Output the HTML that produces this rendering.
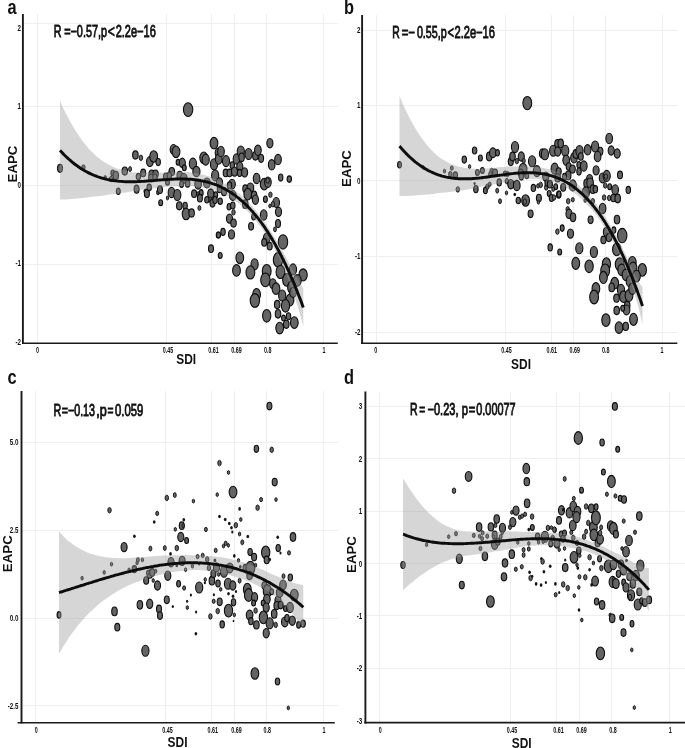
<!DOCTYPE html>
<html><head><meta charset="utf-8"><title>SDI vs EAPC</title>
<style>html,body{margin:0;padding:0;background:#fff;}body{width:685px;height:748px;overflow:hidden;}svg{display:block;will-change:transform;filter:grayscale(1);}text{font-family:"Liberation Sans",sans-serif;fill:#111;}</style></head><body>
<svg width="685" height="748" viewBox="0 0 685 748">
<rect width="685" height="748" fill="#fff"/>
<g id="panel-a">
<line x1="37.5" y1="14.0" x2="37.5" y2="343.2" stroke="#eeeeee" stroke-width="1"/>
<line x1="166.5" y1="14.0" x2="166.5" y2="343.2" stroke="#eeeeee" stroke-width="1"/>
<line x1="211.5" y1="14.0" x2="211.5" y2="343.2" stroke="#eeeeee" stroke-width="1"/>
<line x1="234.5" y1="14.0" x2="234.5" y2="343.2" stroke="#eeeeee" stroke-width="1"/>
<line x1="266.5" y1="14.0" x2="266.5" y2="343.2" stroke="#eeeeee" stroke-width="1"/>
<line x1="323.5" y1="14.0" x2="323.5" y2="343.2" stroke="#eeeeee" stroke-width="1"/>
<line x1="22.9" y1="23.5" x2="337.8" y2="23.5" stroke="#eeeeee" stroke-width="1"/>
<line x1="22.9" y1="106.5" x2="337.8" y2="106.5" stroke="#eeeeee" stroke-width="1"/>
<line x1="22.9" y1="185.5" x2="337.8" y2="185.5" stroke="#eeeeee" stroke-width="1"/>
<line x1="22.9" y1="264.5" x2="337.8" y2="264.5" stroke="#eeeeee" stroke-width="1"/>
<ellipse cx="60.0" cy="168.3" rx="2.49" ry="4.09" fill="#646464" stroke="#0c0c0c" stroke-width="1.1"/>
<ellipse cx="83.4" cy="167.3" rx="1.73" ry="2.48" fill="#646464" stroke="#0c0c0c" stroke-width="0.9"/>
<ellipse cx="105.2" cy="177.4" rx="1.18" ry="1.92" fill="#646464" stroke="#0c0c0c" stroke-width="0.9"/>
<ellipse cx="111.0" cy="179.1" rx="1.73" ry="2.76" fill="#646464" stroke="#0c0c0c" stroke-width="0.9"/>
<ellipse cx="112.8" cy="172.9" rx="1.93" ry="2.97" fill="#646464" stroke="#0c0c0c" stroke-width="1.1"/>
<ellipse cx="115.8" cy="175.4" rx="2.76" ry="4.09" fill="#646464" stroke="#0c0c0c" stroke-width="1.1"/>
<ellipse cx="118.3" cy="191.2" rx="1.93" ry="3.25" fill="#646464" stroke="#0c0c0c" stroke-width="1.1"/>
<ellipse cx="124.8" cy="171.1" rx="2.76" ry="4.09" fill="#646464" stroke="#0c0c0c" stroke-width="1.1"/>
<ellipse cx="130.1" cy="169.1" rx="1.46" ry="2.48" fill="#646464" stroke="#0c0c0c" stroke-width="0.9"/>
<ellipse cx="135.4" cy="155.0" rx="2.76" ry="4.09" fill="#646464" stroke="#0c0c0c" stroke-width="1.1"/>
<ellipse cx="140.9" cy="157.8" rx="1.73" ry="2.76" fill="#646464" stroke="#0c0c0c" stroke-width="0.9"/>
<ellipse cx="136.6" cy="189.2" rx="2.49" ry="4.09" fill="#646464" stroke="#0c0c0c" stroke-width="1.1"/>
<ellipse cx="138.4" cy="176.6" rx="2.21" ry="3.25" fill="#646464" stroke="#0c0c0c" stroke-width="1.1"/>
<ellipse cx="143.2" cy="172.9" rx="2.49" ry="3.81" fill="#646464" stroke="#0c0c0c" stroke-width="1.1"/>
<ellipse cx="145.4" cy="191.2" rx="1.46" ry="2.20" fill="#646464" stroke="#0c0c0c" stroke-width="0.9"/>
<ellipse cx="146.9" cy="193.5" rx="2.49" ry="4.09" fill="#646464" stroke="#0c0c0c" stroke-width="1.1"/>
<ellipse cx="149.2" cy="187.4" rx="2.21" ry="3.25" fill="#646464" stroke="#0c0c0c" stroke-width="1.1"/>
<ellipse cx="149.9" cy="161.6" rx="3.32" ry="4.94" fill="#646464" stroke="#0c0c0c" stroke-width="1.1"/>
<ellipse cx="153.7" cy="156.5" rx="3.87" ry="5.78" fill="#646464" stroke="#0c0c0c" stroke-width="1.1"/>
<ellipse cx="158.2" cy="162.1" rx="2.21" ry="3.53" fill="#646464" stroke="#0c0c0c" stroke-width="1.1"/>
<ellipse cx="151.7" cy="174.1" rx="2.76" ry="4.09" fill="#646464" stroke="#0c0c0c" stroke-width="1.1"/>
<ellipse cx="155.5" cy="174.1" rx="2.76" ry="4.09" fill="#646464" stroke="#0c0c0c" stroke-width="1.1"/>
<ellipse cx="151.2" cy="177.9" rx="2.49" ry="3.81" fill="#646464" stroke="#0c0c0c" stroke-width="1.1"/>
<ellipse cx="155.0" cy="177.4" rx="2.21" ry="3.53" fill="#646464" stroke="#0c0c0c" stroke-width="1.1"/>
<ellipse cx="158.0" cy="192.4" rx="1.46" ry="2.48" fill="#646464" stroke="#0c0c0c" stroke-width="0.9"/>
<ellipse cx="160.0" cy="189.7" rx="2.49" ry="3.81" fill="#646464" stroke="#0c0c0c" stroke-width="1.1"/>
<ellipse cx="160.7" cy="202.7" rx="1.93" ry="2.97" fill="#646464" stroke="#0c0c0c" stroke-width="1.1"/>
<ellipse cx="166.0" cy="176.6" rx="2.49" ry="3.53" fill="#646464" stroke="#0c0c0c" stroke-width="1.1"/>
<ellipse cx="167.5" cy="182.2" rx="1.93" ry="2.97" fill="#646464" stroke="#0c0c0c" stroke-width="1.1"/>
<ellipse cx="167.5" cy="198.0" rx="1.18" ry="1.92" fill="#646464" stroke="#0c0c0c" stroke-width="0.9"/>
<ellipse cx="171.8" cy="171.6" rx="2.76" ry="4.09" fill="#646464" stroke="#0c0c0c" stroke-width="1.1"/>
<ellipse cx="169.3" cy="175.4" rx="2.21" ry="3.25" fill="#646464" stroke="#0c0c0c" stroke-width="1.1"/>
<ellipse cx="171.5" cy="192.4" rx="3.32" ry="5.22" fill="#646464" stroke="#0c0c0c" stroke-width="1.1"/>
<ellipse cx="177.3" cy="195.0" rx="3.59" ry="5.50" fill="#646464" stroke="#0c0c0c" stroke-width="1.1"/>
<ellipse cx="173.5" cy="149.5" rx="3.32" ry="4.94" fill="#646464" stroke="#0c0c0c" stroke-width="1.1"/>
<ellipse cx="176.0" cy="151.8" rx="3.87" ry="5.78" fill="#646464" stroke="#0c0c0c" stroke-width="1.1"/>
<ellipse cx="178.1" cy="162.3" rx="1.93" ry="2.97" fill="#646464" stroke="#0c0c0c" stroke-width="1.1"/>
<ellipse cx="182.3" cy="162.8" rx="3.04" ry="4.66" fill="#646464" stroke="#0c0c0c" stroke-width="1.1"/>
<ellipse cx="184.3" cy="167.8" rx="1.93" ry="2.97" fill="#646464" stroke="#0c0c0c" stroke-width="1.1"/>
<ellipse cx="179.8" cy="175.4" rx="2.76" ry="4.09" fill="#646464" stroke="#0c0c0c" stroke-width="1.1"/>
<ellipse cx="183.8" cy="178.4" rx="3.32" ry="4.94" fill="#646464" stroke="#0c0c0c" stroke-width="1.1"/>
<ellipse cx="181.6" cy="184.2" rx="1.93" ry="3.25" fill="#646464" stroke="#0c0c0c" stroke-width="1.1"/>
<ellipse cx="187.6" cy="183.7" rx="2.21" ry="3.53" fill="#646464" stroke="#0c0c0c" stroke-width="1.1"/>
<ellipse cx="179.3" cy="205.8" rx="2.76" ry="4.09" fill="#646464" stroke="#0c0c0c" stroke-width="1.1"/>
<ellipse cx="185.1" cy="205.8" rx="2.21" ry="3.53" fill="#646464" stroke="#0c0c0c" stroke-width="1.1"/>
<ellipse cx="186.1" cy="214.0" rx="3.87" ry="5.78" fill="#646464" stroke="#0c0c0c" stroke-width="1.1"/>
<ellipse cx="191.6" cy="213.0" rx="2.76" ry="4.09" fill="#646464" stroke="#0c0c0c" stroke-width="1.1"/>
<ellipse cx="188.1" cy="109.6" rx="4.70" ry="6.91" fill="#646464" stroke="#0c0c0c" stroke-width="1.1"/>
<ellipse cx="192.9" cy="163.6" rx="3.59" ry="5.50" fill="#646464" stroke="#0c0c0c" stroke-width="1.1"/>
<ellipse cx="196.4" cy="171.6" rx="3.59" ry="5.22" fill="#646464" stroke="#0c0c0c" stroke-width="1.1"/>
<ellipse cx="198.1" cy="184.2" rx="3.32" ry="4.94" fill="#646464" stroke="#0c0c0c" stroke-width="1.1"/>
<ellipse cx="194.1" cy="193.7" rx="2.49" ry="3.81" fill="#646464" stroke="#0c0c0c" stroke-width="1.1"/>
<ellipse cx="198.1" cy="193.5" rx="1.18" ry="1.92" fill="#646464" stroke="#0c0c0c" stroke-width="0.9"/>
<ellipse cx="201.2" cy="192.9" rx="1.93" ry="3.25" fill="#646464" stroke="#0c0c0c" stroke-width="1.1"/>
<ellipse cx="199.9" cy="198.2" rx="2.49" ry="3.81" fill="#646464" stroke="#0c0c0c" stroke-width="1.1"/>
<ellipse cx="199.4" cy="208.0" rx="1.46" ry="2.48" fill="#646464" stroke="#0c0c0c" stroke-width="0.9"/>
<ellipse cx="203.7" cy="157.8" rx="3.87" ry="5.78" fill="#646464" stroke="#0c0c0c" stroke-width="1.1"/>
<ellipse cx="205.7" cy="159.6" rx="3.59" ry="5.50" fill="#646464" stroke="#0c0c0c" stroke-width="1.1"/>
<ellipse cx="206.9" cy="182.9" rx="3.32" ry="4.94" fill="#646464" stroke="#0c0c0c" stroke-width="1.1"/>
<ellipse cx="206.9" cy="199.7" rx="2.21" ry="3.25" fill="#646464" stroke="#0c0c0c" stroke-width="1.1"/>
<ellipse cx="210.7" cy="193.5" rx="3.04" ry="4.66" fill="#646464" stroke="#0c0c0c" stroke-width="1.1"/>
<ellipse cx="210.7" cy="199.7" rx="1.73" ry="2.76" fill="#646464" stroke="#0c0c0c" stroke-width="0.9"/>
<ellipse cx="212.5" cy="203.0" rx="2.49" ry="4.09" fill="#646464" stroke="#0c0c0c" stroke-width="1.1"/>
<ellipse cx="214.0" cy="143.2" rx="3.87" ry="5.78" fill="#646464" stroke="#0c0c0c" stroke-width="1.1"/>
<ellipse cx="214.0" cy="164.3" rx="3.59" ry="5.50" fill="#646464" stroke="#0c0c0c" stroke-width="1.1"/>
<ellipse cx="215.2" cy="175.4" rx="3.59" ry="5.50" fill="#646464" stroke="#0c0c0c" stroke-width="1.1"/>
<ellipse cx="215.7" cy="195.0" rx="1.93" ry="3.25" fill="#646464" stroke="#0c0c0c" stroke-width="1.1"/>
<ellipse cx="215.0" cy="200.0" rx="2.21" ry="3.53" fill="#646464" stroke="#0c0c0c" stroke-width="1.1"/>
<ellipse cx="218.2" cy="152.8" rx="3.04" ry="4.66" fill="#646464" stroke="#0c0c0c" stroke-width="1.1"/>
<ellipse cx="218.7" cy="159.1" rx="3.32" ry="5.22" fill="#646464" stroke="#0c0c0c" stroke-width="1.1"/>
<ellipse cx="219.5" cy="182.4" rx="3.04" ry="4.66" fill="#646464" stroke="#0c0c0c" stroke-width="1.1"/>
<ellipse cx="219.5" cy="189.2" rx="2.21" ry="3.53" fill="#646464" stroke="#0c0c0c" stroke-width="1.1"/>
<ellipse cx="220.2" cy="201.2" rx="2.21" ry="3.25" fill="#646464" stroke="#0c0c0c" stroke-width="1.1"/>
<ellipse cx="218.2" cy="235.1" rx="1.93" ry="2.97" fill="#646464" stroke="#0c0c0c" stroke-width="1.1"/>
<ellipse cx="211.0" cy="248.7" rx="2.49" ry="3.81" fill="#646464" stroke="#0c0c0c" stroke-width="1.1"/>
<ellipse cx="220.2" cy="255.5" rx="1.93" ry="2.97" fill="#646464" stroke="#0c0c0c" stroke-width="1.1"/>
<ellipse cx="221.0" cy="151.5" rx="3.32" ry="5.22" fill="#646464" stroke="#0c0c0c" stroke-width="1.1"/>
<ellipse cx="226.0" cy="161.1" rx="3.59" ry="5.50" fill="#646464" stroke="#0c0c0c" stroke-width="1.1"/>
<ellipse cx="225.7" cy="172.9" rx="2.49" ry="3.81" fill="#646464" stroke="#0c0c0c" stroke-width="1.1"/>
<ellipse cx="229.5" cy="172.9" rx="2.49" ry="3.81" fill="#646464" stroke="#0c0c0c" stroke-width="1.1"/>
<ellipse cx="232.3" cy="165.3" rx="2.21" ry="3.53" fill="#646464" stroke="#0c0c0c" stroke-width="1.1"/>
<ellipse cx="234.5" cy="171.6" rx="3.04" ry="4.66" fill="#646464" stroke="#0c0c0c" stroke-width="1.1"/>
<ellipse cx="236.5" cy="159.1" rx="3.32" ry="5.22" fill="#646464" stroke="#0c0c0c" stroke-width="1.1"/>
<ellipse cx="240.8" cy="151.5" rx="3.59" ry="5.50" fill="#646464" stroke="#0c0c0c" stroke-width="1.1"/>
<ellipse cx="241.6" cy="157.3" rx="2.76" ry="4.37" fill="#646464" stroke="#0c0c0c" stroke-width="1.1"/>
<ellipse cx="239.8" cy="166.6" rx="3.04" ry="4.66" fill="#646464" stroke="#0c0c0c" stroke-width="1.1"/>
<ellipse cx="239.6" cy="172.9" rx="2.21" ry="3.53" fill="#646464" stroke="#0c0c0c" stroke-width="1.1"/>
<ellipse cx="244.6" cy="172.4" rx="3.04" ry="4.66" fill="#646464" stroke="#0c0c0c" stroke-width="1.1"/>
<ellipse cx="248.6" cy="154.0" rx="3.59" ry="5.50" fill="#646464" stroke="#0c0c0c" stroke-width="1.1"/>
<ellipse cx="255.4" cy="155.8" rx="2.76" ry="4.37" fill="#646464" stroke="#0c0c0c" stroke-width="1.1"/>
<ellipse cx="257.9" cy="150.3" rx="3.32" ry="5.22" fill="#646464" stroke="#0c0c0c" stroke-width="1.1"/>
<ellipse cx="261.1" cy="158.3" rx="2.49" ry="4.09" fill="#646464" stroke="#0c0c0c" stroke-width="1.1"/>
<ellipse cx="269.9" cy="143.2" rx="3.04" ry="4.66" fill="#646464" stroke="#0c0c0c" stroke-width="1.1"/>
<ellipse cx="256.6" cy="178.4" rx="3.32" ry="5.22" fill="#646464" stroke="#0c0c0c" stroke-width="1.1"/>
<ellipse cx="264.2" cy="184.2" rx="3.87" ry="5.78" fill="#646464" stroke="#0c0c0c" stroke-width="1.1"/>
<ellipse cx="267.9" cy="182.2" rx="3.32" ry="5.22" fill="#646464" stroke="#0c0c0c" stroke-width="1.1"/>
<ellipse cx="271.7" cy="164.8" rx="3.32" ry="5.22" fill="#646464" stroke="#0c0c0c" stroke-width="1.1"/>
<ellipse cx="278.0" cy="159.6" rx="3.32" ry="5.22" fill="#646464" stroke="#0c0c0c" stroke-width="1.1"/>
<ellipse cx="280.7" cy="177.6" rx="2.21" ry="3.53" fill="#646464" stroke="#0c0c0c" stroke-width="1.1"/>
<ellipse cx="289.3" cy="179.1" rx="2.21" ry="3.25" fill="#646464" stroke="#0c0c0c" stroke-width="1.1"/>
<ellipse cx="232.0" cy="184.2" rx="3.32" ry="4.94" fill="#646464" stroke="#0c0c0c" stroke-width="1.1"/>
<ellipse cx="229.5" cy="185.4" rx="2.21" ry="3.53" fill="#646464" stroke="#0c0c0c" stroke-width="1.1"/>
<ellipse cx="224.0" cy="191.7" rx="2.49" ry="4.09" fill="#646464" stroke="#0c0c0c" stroke-width="1.1"/>
<ellipse cx="232.8" cy="195.5" rx="3.32" ry="4.94" fill="#646464" stroke="#0c0c0c" stroke-width="1.1"/>
<ellipse cx="229.0" cy="206.8" rx="1.93" ry="3.25" fill="#646464" stroke="#0c0c0c" stroke-width="1.1"/>
<ellipse cx="232.8" cy="205.5" rx="2.21" ry="3.53" fill="#646464" stroke="#0c0c0c" stroke-width="1.1"/>
<ellipse cx="233.5" cy="212.3" rx="1.73" ry="2.76" fill="#646464" stroke="#0c0c0c" stroke-width="0.9"/>
<ellipse cx="229.5" cy="218.6" rx="3.04" ry="4.66" fill="#646464" stroke="#0c0c0c" stroke-width="1.1"/>
<ellipse cx="233.5" cy="223.1" rx="2.76" ry="4.09" fill="#646464" stroke="#0c0c0c" stroke-width="1.1"/>
<ellipse cx="231.5" cy="234.4" rx="3.04" ry="4.66" fill="#646464" stroke="#0c0c0c" stroke-width="1.1"/>
<ellipse cx="223.0" cy="231.9" rx="2.21" ry="3.53" fill="#646464" stroke="#0c0c0c" stroke-width="1.1"/>
<ellipse cx="218.5" cy="235.1" rx="1.93" ry="2.97" fill="#646464" stroke="#0c0c0c" stroke-width="1.1"/>
<ellipse cx="245.3" cy="188.7" rx="2.49" ry="3.81" fill="#646464" stroke="#0c0c0c" stroke-width="1.1"/>
<ellipse cx="250.4" cy="187.9" rx="3.32" ry="4.94" fill="#646464" stroke="#0c0c0c" stroke-width="1.1"/>
<ellipse cx="247.8" cy="194.2" rx="3.87" ry="5.78" fill="#646464" stroke="#0c0c0c" stroke-width="1.1"/>
<ellipse cx="254.1" cy="195.5" rx="2.76" ry="4.37" fill="#646464" stroke="#0c0c0c" stroke-width="1.1"/>
<ellipse cx="255.4" cy="199.7" rx="3.04" ry="4.66" fill="#646464" stroke="#0c0c0c" stroke-width="1.1"/>
<ellipse cx="245.3" cy="204.2" rx="2.76" ry="4.37" fill="#646464" stroke="#0c0c0c" stroke-width="1.1"/>
<ellipse cx="253.6" cy="216.8" rx="1.93" ry="3.25" fill="#646464" stroke="#0c0c0c" stroke-width="1.1"/>
<ellipse cx="251.1" cy="226.3" rx="2.49" ry="3.81" fill="#646464" stroke="#0c0c0c" stroke-width="1.1"/>
<ellipse cx="263.7" cy="215.0" rx="3.32" ry="5.22" fill="#646464" stroke="#0c0c0c" stroke-width="1.1"/>
<ellipse cx="265.4" cy="199.2" rx="1.93" ry="3.25" fill="#646464" stroke="#0c0c0c" stroke-width="1.1"/>
<ellipse cx="270.4" cy="194.7" rx="1.73" ry="2.76" fill="#646464" stroke="#0c0c0c" stroke-width="0.9"/>
<ellipse cx="276.2" cy="202.5" rx="3.32" ry="4.94" fill="#646464" stroke="#0c0c0c" stroke-width="1.1"/>
<ellipse cx="272.9" cy="204.2" rx="1.73" ry="2.76" fill="#646464" stroke="#0c0c0c" stroke-width="0.9"/>
<ellipse cx="269.9" cy="206.0" rx="1.18" ry="1.92" fill="#646464" stroke="#0c0c0c" stroke-width="0.9"/>
<ellipse cx="278.5" cy="211.8" rx="3.04" ry="4.66" fill="#646464" stroke="#0c0c0c" stroke-width="1.1"/>
<ellipse cx="278.0" cy="223.6" rx="2.49" ry="4.09" fill="#646464" stroke="#0c0c0c" stroke-width="1.1"/>
<ellipse cx="275.0" cy="229.4" rx="1.46" ry="2.48" fill="#646464" stroke="#0c0c0c" stroke-width="0.9"/>
<ellipse cx="266.7" cy="238.1" rx="3.32" ry="4.94" fill="#646464" stroke="#0c0c0c" stroke-width="1.1"/>
<ellipse cx="264.2" cy="242.4" rx="2.49" ry="3.81" fill="#646464" stroke="#0c0c0c" stroke-width="1.1"/>
<ellipse cx="269.7" cy="246.2" rx="2.49" ry="3.81" fill="#646464" stroke="#0c0c0c" stroke-width="1.1"/>
<ellipse cx="283.0" cy="241.9" rx="4.70" ry="7.19" fill="#646464" stroke="#0c0c0c" stroke-width="1.1"/>
<ellipse cx="239.8" cy="257.8" rx="3.87" ry="5.78" fill="#646464" stroke="#0c0c0c" stroke-width="1.1"/>
<ellipse cx="236.5" cy="270.4" rx="3.87" ry="5.78" fill="#646464" stroke="#0c0c0c" stroke-width="1.1"/>
<ellipse cx="254.6" cy="264.3" rx="3.59" ry="5.50" fill="#646464" stroke="#0c0c0c" stroke-width="1.1"/>
<ellipse cx="250.4" cy="272.4" rx="4.42" ry="6.62" fill="#646464" stroke="#0c0c0c" stroke-width="1.1"/>
<ellipse cx="266.7" cy="271.1" rx="4.42" ry="6.62" fill="#646464" stroke="#0c0c0c" stroke-width="1.1"/>
<ellipse cx="265.4" cy="279.9" rx="4.70" ry="6.91" fill="#646464" stroke="#0c0c0c" stroke-width="1.1"/>
<ellipse cx="278.0" cy="259.8" rx="4.70" ry="7.19" fill="#646464" stroke="#0c0c0c" stroke-width="1.1"/>
<ellipse cx="280.5" cy="271.9" rx="4.42" ry="6.62" fill="#646464" stroke="#0c0c0c" stroke-width="1.1"/>
<ellipse cx="293.0" cy="269.4" rx="3.59" ry="5.50" fill="#646464" stroke="#0c0c0c" stroke-width="1.1"/>
<ellipse cx="303.1" cy="274.9" rx="4.14" ry="6.06" fill="#646464" stroke="#0c0c0c" stroke-width="1.1"/>
<ellipse cx="286.8" cy="279.9" rx="4.14" ry="6.34" fill="#646464" stroke="#0c0c0c" stroke-width="1.1"/>
<ellipse cx="297.3" cy="280.4" rx="3.87" ry="5.78" fill="#646464" stroke="#0c0c0c" stroke-width="1.1"/>
<ellipse cx="272.9" cy="283.7" rx="3.32" ry="4.94" fill="#646464" stroke="#0c0c0c" stroke-width="1.1"/>
<ellipse cx="276.0" cy="288.7" rx="3.87" ry="5.78" fill="#646464" stroke="#0c0c0c" stroke-width="1.1"/>
<ellipse cx="291.8" cy="287.4" rx="4.14" ry="6.34" fill="#646464" stroke="#0c0c0c" stroke-width="1.1"/>
<ellipse cx="282.2" cy="295.5" rx="3.59" ry="5.50" fill="#646464" stroke="#0c0c0c" stroke-width="1.1"/>
<ellipse cx="256.6" cy="294.5" rx="3.87" ry="6.06" fill="#646464" stroke="#0c0c0c" stroke-width="1.1"/>
<ellipse cx="254.9" cy="300.5" rx="4.70" ry="6.91" fill="#646464" stroke="#0c0c0c" stroke-width="1.1"/>
<ellipse cx="290.0" cy="300.0" rx="3.87" ry="6.06" fill="#646464" stroke="#0c0c0c" stroke-width="1.1"/>
<ellipse cx="285.5" cy="305.8" rx="4.14" ry="6.34" fill="#646464" stroke="#0c0c0c" stroke-width="1.1"/>
<ellipse cx="277.2" cy="304.5" rx="2.76" ry="4.09" fill="#646464" stroke="#0c0c0c" stroke-width="1.1"/>
<ellipse cx="278.0" cy="313.8" rx="2.76" ry="4.37" fill="#646464" stroke="#0c0c0c" stroke-width="1.1"/>
<ellipse cx="266.7" cy="315.8" rx="4.14" ry="6.34" fill="#646464" stroke="#0c0c0c" stroke-width="1.1"/>
<ellipse cx="283.5" cy="318.1" rx="1.93" ry="2.97" fill="#646464" stroke="#0c0c0c" stroke-width="1.1"/>
<ellipse cx="288.5" cy="316.3" rx="2.21" ry="3.53" fill="#646464" stroke="#0c0c0c" stroke-width="1.1"/>
<ellipse cx="286.3" cy="324.3" rx="2.76" ry="4.09" fill="#646464" stroke="#0c0c0c" stroke-width="1.1"/>
<ellipse cx="294.3" cy="322.6" rx="3.87" ry="5.78" fill="#646464" stroke="#0c0c0c" stroke-width="1.1"/>
<ellipse cx="279.7" cy="328.1" rx="3.87" ry="5.78" fill="#646464" stroke="#0c0c0c" stroke-width="1.1"/>
<ellipse cx="293.0" cy="292.5" rx="3.32" ry="4.94" fill="#646464" stroke="#0c0c0c" stroke-width="1.1"/>
<ellipse cx="267.7" cy="180.6" rx="1.78" ry="2.69" fill="#646464" stroke="#0c0c0c" stroke-width="0.9"/>
<path d="M60.0 101.1 C60.4 101.9 61.4 104.2 62.1 105.7 C62.8 107.1 63.5 108.6 64.1 110.0 C64.8 111.4 65.5 112.7 66.2 114.1 C66.9 115.4 67.5 116.7 68.2 118.0 C68.9 119.2 69.6 120.5 70.3 121.7 C70.9 122.9 71.6 124.1 72.3 125.3 C73.0 126.5 73.7 127.6 74.4 128.7 C75.0 129.9 75.7 131.0 76.4 132.0 C77.1 133.1 77.8 134.1 78.4 135.1 C79.1 136.1 79.8 137.1 80.5 138.0 C81.2 139.0 81.8 140.0 82.5 140.9 C83.2 141.8 83.9 142.7 84.6 143.6 C85.3 144.5 85.9 145.3 86.6 146.1 C87.3 147.0 88.0 147.8 88.7 148.5 C89.3 149.3 90.0 150.0 90.7 150.7 C91.4 151.4 92.1 152.1 92.8 152.8 C93.4 153.4 94.1 154.0 94.8 154.7 C95.5 155.3 96.2 155.9 96.8 156.4 C97.5 157.0 98.2 157.6 98.9 158.1 C99.6 158.7 100.2 159.2 100.9 159.7 C101.6 160.2 102.3 160.7 103.0 161.2 C103.7 161.6 104.3 162.1 105.0 162.5 C105.7 163.0 106.4 163.4 107.1 163.8 C107.7 164.2 108.4 164.6 109.1 165.0 C109.8 165.4 110.5 165.7 111.1 166.0 C111.8 166.3 112.5 166.6 113.2 166.9 C113.9 167.2 114.6 167.4 115.2 167.7 C115.9 168.0 116.6 168.2 117.3 168.4 C118.0 168.7 118.6 168.9 119.3 169.1 C120.0 169.3 120.7 169.5 121.4 169.7 C122.1 169.9 122.7 170.1 123.4 170.3 C124.1 170.5 124.8 170.6 125.5 170.8 C126.1 170.9 126.8 171.1 127.5 171.2 C128.2 171.4 128.9 171.5 129.5 171.7 C130.2 171.8 130.9 171.9 131.6 172.0 C132.3 172.1 133.0 172.2 133.6 172.3 C134.3 172.4 135.0 172.5 135.7 172.5 C136.4 172.6 137.0 172.7 137.7 172.8 C138.4 172.8 139.1 172.9 139.8 173.0 C140.4 173.0 141.1 173.0 141.8 173.0 C142.5 173.0 143.2 173.0 143.9 173.0 C144.5 172.9 145.2 172.9 145.9 172.9 C146.6 172.9 147.3 172.9 147.9 172.9 C148.6 172.9 149.3 172.8 150.0 172.8 C150.7 172.8 151.4 172.8 152.0 172.8 C152.7 172.8 153.4 172.8 154.1 172.8 C154.8 172.8 155.4 172.8 156.1 172.8 C156.8 172.7 157.5 172.7 158.2 172.7 C158.8 172.7 159.5 172.7 160.2 172.7 C160.9 172.7 161.6 172.6 162.3 172.5 C162.9 172.5 163.6 172.4 164.3 172.4 C165.0 172.3 165.7 172.3 166.3 172.3 C167.0 172.2 167.7 172.2 168.4 172.1 C169.1 172.1 169.7 172.1 170.4 172.0 C171.1 172.0 171.8 172.0 172.5 171.9 C173.2 171.9 173.8 171.9 174.5 171.9 C175.2 171.8 175.9 171.8 176.6 171.8 C177.2 171.8 177.9 171.8 178.6 171.8 C179.3 171.8 180.0 171.8 180.6 171.8 C181.3 171.8 182.0 171.8 182.7 171.9 C183.4 171.9 184.1 171.9 184.7 172.0 C185.4 172.0 186.1 172.1 186.8 172.1 C187.5 172.2 188.1 172.2 188.8 172.3 C189.5 172.4 190.2 172.4 190.9 172.5 C191.6 172.6 192.2 172.7 192.9 172.8 C193.6 172.9 194.3 173.0 195.0 173.1 C195.6 173.2 196.3 173.3 197.0 173.4 C197.7 173.5 198.4 173.6 199.0 173.8 C199.7 173.9 200.4 174.1 201.1 174.2 C201.8 174.4 202.5 174.6 203.1 174.7 C203.8 174.9 204.5 175.1 205.2 175.3 C205.9 175.5 206.5 175.7 207.2 175.9 C207.9 176.1 208.6 176.3 209.3 176.6 C209.9 176.8 210.6 177.1 211.3 177.3 C212.0 177.6 212.7 177.8 213.4 178.1 C214.0 178.4 214.7 178.6 215.4 178.9 C216.1 179.2 216.8 179.5 217.4 179.8 C218.1 180.2 218.8 180.5 219.5 180.8 C220.2 181.1 220.9 181.5 221.5 181.8 C222.2 182.2 222.9 182.5 223.6 182.9 C224.3 183.3 224.9 183.7 225.6 184.0 C226.3 184.4 227.0 184.8 227.7 185.3 C228.3 185.7 229.0 186.1 229.7 186.6 C230.4 187.0 231.1 187.5 231.8 187.9 C232.4 188.4 233.1 188.9 233.8 189.4 C234.5 189.9 235.2 190.4 235.8 190.9 C236.5 191.5 237.2 192.0 237.9 192.6 C238.6 193.1 239.2 193.7 239.9 194.3 C240.6 194.9 241.3 195.4 242.0 196.0 C242.7 196.6 243.3 197.3 244.0 197.9 C244.7 198.5 245.4 199.2 246.1 199.8 C246.7 200.5 247.4 201.1 248.1 201.8 C248.8 202.5 249.5 203.2 250.2 204.0 C250.8 204.7 251.5 205.4 252.2 206.2 C252.9 207.0 253.6 207.7 254.2 208.5 C254.9 209.3 255.6 210.2 256.3 211.0 C257.0 211.8 257.6 212.7 258.3 213.5 C259.0 214.4 259.7 215.3 260.4 216.2 C261.1 217.1 261.7 218.0 262.4 218.9 C263.1 219.9 263.8 220.8 264.5 221.8 C265.1 222.8 265.8 223.8 266.5 224.8 C267.2 225.8 267.9 226.8 268.5 227.9 C269.2 228.9 269.9 230.0 270.6 231.0 C271.3 232.1 272.0 233.2 272.6 234.2 C273.3 235.3 274.0 236.4 274.7 237.6 C275.4 238.7 276.0 239.8 276.7 241.0 C277.4 242.2 278.1 243.4 278.8 244.6 C279.5 245.8 280.1 247.0 280.8 248.2 C281.5 249.4 282.2 250.5 282.9 251.7 C283.5 252.9 284.2 254.1 284.9 255.3 C285.6 256.5 286.3 257.8 286.9 259.0 C287.6 260.3 288.3 261.5 289.0 262.8 C289.7 264.1 290.4 265.3 291.0 266.6 C291.7 267.8 292.4 269.0 293.1 270.3 C293.8 271.5 294.4 272.7 295.1 274.0 C295.8 275.2 296.5 276.5 297.2 277.7 C297.8 278.9 298.5 280.1 299.2 281.3 C299.9 282.5 300.6 283.7 301.3 284.9 C301.9 286.1 303.0 287.9 303.3 288.5 L303.3 326.5 C303.0 325.2 301.9 321.4 301.3 318.9 C300.6 316.5 299.9 314.1 299.2 311.8 C298.5 309.4 297.8 307.2 297.2 305.0 C296.5 302.8 295.8 300.6 295.1 298.6 C294.4 296.5 293.8 294.4 293.1 292.4 C292.4 290.4 291.7 288.5 291.0 286.6 C290.4 284.7 289.7 282.9 289.0 281.1 C288.3 279.3 287.6 277.6 286.9 275.9 C286.3 274.2 285.6 272.6 284.9 271.0 C284.2 269.3 283.5 267.7 282.9 266.2 C282.2 264.6 281.5 263.1 280.8 261.6 C280.1 260.1 279.5 258.7 278.8 257.3 C278.1 256.0 277.4 254.6 276.7 253.3 C276.0 252.0 275.4 250.7 274.7 249.5 C274.0 248.2 273.3 247.0 272.6 245.7 C272.0 244.5 271.3 243.3 270.6 242.1 C269.9 241.0 269.2 239.9 268.5 238.8 C267.9 237.7 267.2 236.6 266.5 235.6 C265.8 234.5 265.1 233.5 264.5 232.5 C263.8 231.4 263.1 230.5 262.4 229.5 C261.7 228.5 261.1 227.5 260.4 226.6 C259.7 225.7 259.0 224.8 258.3 223.9 C257.6 223.0 257.0 222.2 256.3 221.3 C255.6 220.5 254.9 219.6 254.2 218.8 C253.6 218.0 252.9 217.2 252.2 216.4 C251.5 215.7 250.8 214.9 250.2 214.2 C249.5 213.4 248.8 212.7 248.1 212.0 C247.4 211.3 246.7 210.6 246.1 209.9 C245.4 209.3 244.7 208.6 244.0 208.0 C243.3 207.3 242.7 206.7 242.0 206.1 C241.3 205.5 240.6 204.9 239.9 204.3 C239.2 203.7 238.6 203.2 237.9 202.7 C237.2 202.2 236.5 201.6 235.8 201.1 C235.2 200.7 234.5 200.2 233.8 199.7 C233.1 199.2 232.4 198.8 231.8 198.3 C231.1 197.9 230.4 197.5 229.7 197.1 C229.0 196.7 228.3 196.3 227.7 195.9 C227.0 195.5 226.3 195.1 225.6 194.8 C224.9 194.4 224.3 194.0 223.6 193.7 C222.9 193.4 222.2 193.1 221.5 192.7 C220.9 192.4 220.2 192.1 219.5 191.9 C218.8 191.6 218.1 191.3 217.4 191.1 C216.8 190.8 216.1 190.6 215.4 190.4 C214.7 190.1 214.0 189.9 213.4 189.7 C212.7 189.5 212.0 189.3 211.3 189.1 C210.6 188.9 209.9 188.8 209.3 188.6 C208.6 188.4 207.9 188.3 207.2 188.2 C206.5 188.0 205.9 187.9 205.2 187.7 C204.5 187.6 203.8 187.5 203.1 187.4 C202.5 187.3 201.8 187.2 201.1 187.1 C200.4 187.0 199.7 186.9 199.0 186.8 C198.4 186.8 197.7 186.7 197.0 186.6 C196.3 186.5 195.6 186.5 195.0 186.4 C194.3 186.3 193.6 186.3 192.9 186.3 C192.2 186.2 191.6 186.2 190.9 186.1 C190.2 186.1 189.5 186.1 188.8 186.1 C188.1 186.1 187.5 186.0 186.8 186.0 C186.1 186.0 185.4 186.0 184.7 186.0 C184.1 186.1 183.4 186.1 182.7 186.1 C182.0 186.1 181.3 186.1 180.6 186.1 C180.0 186.2 179.3 186.2 178.6 186.2 C177.9 186.2 177.2 186.2 176.6 186.2 C175.9 186.3 175.2 186.3 174.5 186.3 C173.8 186.3 173.2 186.4 172.5 186.4 C171.8 186.4 171.1 186.5 170.4 186.5 C169.7 186.6 169.1 186.6 168.4 186.6 C167.7 186.7 167.0 186.7 166.3 186.8 C165.7 186.8 165.0 186.9 164.3 186.9 C163.6 187.0 162.9 187.1 162.3 187.1 C161.6 187.2 160.9 187.2 160.2 187.3 C159.5 187.4 158.8 187.5 158.2 187.6 C157.5 187.7 156.8 187.8 156.1 187.9 C155.4 188.0 154.8 188.1 154.1 188.2 C153.4 188.3 152.7 188.4 152.0 188.5 C151.4 188.6 150.7 188.7 150.0 188.8 C149.3 188.9 148.6 189.0 147.9 189.1 C147.3 189.2 146.6 189.2 145.9 189.3 C145.2 189.4 144.5 189.5 143.9 189.6 C143.2 189.6 142.5 189.7 141.8 189.8 C141.1 189.9 140.4 189.9 139.8 190.0 C139.1 190.1 138.4 190.3 137.7 190.4 C137.0 190.5 136.4 190.7 135.7 190.8 C135.0 190.9 134.3 191.0 133.6 191.1 C133.0 191.3 132.3 191.4 131.6 191.5 C130.9 191.6 130.2 191.7 129.5 191.8 C128.9 191.9 128.2 192.1 127.5 192.2 C126.8 192.3 126.1 192.4 125.5 192.5 C124.8 192.6 124.1 192.7 123.4 192.8 C122.7 192.9 122.1 193.0 121.4 193.1 C120.7 193.2 120.0 193.3 119.3 193.4 C118.6 193.5 118.0 193.6 117.3 193.7 C116.6 193.8 115.9 193.9 115.2 194.0 C114.6 194.0 113.9 194.1 113.2 194.2 C112.5 194.3 111.8 194.3 111.1 194.4 C110.5 194.5 109.8 194.6 109.1 194.6 C108.4 194.7 107.7 194.9 107.1 195.0 C106.4 195.1 105.7 195.2 105.0 195.3 C104.3 195.4 103.7 195.5 103.0 195.6 C102.3 195.7 101.6 195.8 100.9 195.9 C100.2 195.9 99.6 196.0 98.9 196.1 C98.2 196.2 97.5 196.3 96.8 196.3 C96.2 196.4 95.5 196.5 94.8 196.6 C94.1 196.6 93.4 196.7 92.8 196.8 C92.1 196.8 91.4 196.9 90.7 197.0 C90.0 197.0 89.3 197.1 88.7 197.2 C88.0 197.3 87.3 197.4 86.6 197.5 C85.9 197.6 85.3 197.6 84.6 197.7 C83.9 197.8 83.2 197.9 82.5 198.0 C81.8 198.1 81.2 198.2 80.5 198.3 C79.8 198.4 79.1 198.4 78.4 198.5 C77.8 198.5 77.1 198.6 76.4 198.7 C75.7 198.7 75.0 198.8 74.4 198.8 C73.7 198.9 73.0 198.9 72.3 199.0 C71.6 199.1 70.9 199.1 70.3 199.2 C69.6 199.2 68.9 199.3 68.2 199.3 C67.5 199.3 66.9 199.3 66.2 199.4 C65.5 199.4 64.8 199.4 64.1 199.5 C63.5 199.5 62.8 199.5 62.1 199.5 C61.4 199.6 60.4 199.6 60.0 199.6 Z" fill="#999999" fill-opacity="0.4"/>
<path d="M60.0 150.4 C60.4 150.8 61.4 151.9 62.1 152.6 C62.8 153.3 63.5 154.0 64.1 154.7 C64.8 155.4 65.5 156.1 66.2 156.7 C66.9 157.4 67.5 158.0 68.2 158.6 C68.9 159.2 69.6 159.8 70.3 160.4 C70.9 161.0 71.6 161.6 72.3 162.2 C73.0 162.7 73.7 163.3 74.4 163.8 C75.0 164.3 75.7 164.8 76.4 165.3 C77.1 165.8 77.8 166.3 78.4 166.8 C79.1 167.3 79.8 167.7 80.5 168.2 C81.2 168.6 81.8 169.0 82.5 169.5 C83.2 169.9 83.9 170.3 84.6 170.7 C85.3 171.1 85.9 171.4 86.6 171.8 C87.3 172.2 88.0 172.5 88.7 172.9 C89.3 173.2 90.0 173.5 90.7 173.8 C91.4 174.2 92.1 174.5 92.8 174.8 C93.4 175.1 94.1 175.3 94.8 175.6 C95.5 175.9 96.2 176.1 96.8 176.4 C97.5 176.6 98.2 176.9 98.9 177.1 C99.6 177.3 100.2 177.6 100.9 177.8 C101.6 178.0 102.3 178.2 103.0 178.4 C103.7 178.6 104.3 178.7 105.0 178.9 C105.7 179.1 106.4 179.2 107.1 179.4 C107.7 179.5 108.4 179.7 109.1 179.8 C109.8 180.0 110.5 180.1 111.1 180.2 C111.8 180.3 112.5 180.4 113.2 180.5 C113.9 180.6 114.6 180.7 115.2 180.8 C115.9 180.9 116.6 181.0 117.3 181.1 C118.0 181.1 118.6 181.2 119.3 181.3 C120.0 181.3 120.7 181.4 121.4 181.4 C122.1 181.5 122.7 181.5 123.4 181.6 C124.1 181.6 124.8 181.6 125.5 181.7 C126.1 181.7 126.8 181.7 127.5 181.7 C128.2 181.7 128.9 181.7 129.5 181.7 C130.2 181.7 130.9 181.7 131.6 181.7 C132.3 181.7 133.0 181.7 133.6 181.7 C134.3 181.7 135.0 181.7 135.7 181.7 C136.4 181.6 137.0 181.6 137.7 181.6 C138.4 181.6 139.1 181.5 139.8 181.5 C140.4 181.5 141.1 181.4 141.8 181.4 C142.5 181.3 143.2 181.3 143.9 181.3 C144.5 181.2 145.2 181.2 145.9 181.1 C146.6 181.1 147.3 181.0 147.9 181.0 C148.6 180.9 149.3 180.9 150.0 180.8 C150.7 180.8 151.4 180.7 152.0 180.7 C152.7 180.6 153.4 180.5 154.1 180.5 C154.8 180.4 155.4 180.4 156.1 180.3 C156.8 180.3 157.5 180.2 158.2 180.1 C158.8 180.1 159.5 180.0 160.2 180.0 C160.9 179.9 161.6 179.9 162.3 179.8 C162.9 179.8 163.6 179.7 164.3 179.7 C165.0 179.6 165.7 179.6 166.3 179.5 C167.0 179.5 167.7 179.4 168.4 179.4 C169.1 179.4 169.7 179.3 170.4 179.3 C171.1 179.2 171.8 179.2 172.5 179.2 C173.2 179.1 173.8 179.1 174.5 179.1 C175.2 179.1 175.9 179.0 176.6 179.0 C177.2 179.0 177.9 179.0 178.6 179.0 C179.3 179.0 180.0 179.0 180.6 179.0 C181.3 179.0 182.0 179.0 182.7 179.0 C183.4 179.0 184.1 179.0 184.7 179.0 C185.4 179.0 186.1 179.1 186.8 179.1 C187.5 179.1 188.1 179.2 188.8 179.2 C189.5 179.2 190.2 179.3 190.9 179.3 C191.6 179.4 192.2 179.4 192.9 179.5 C193.6 179.6 194.3 179.7 195.0 179.7 C195.6 179.8 196.3 179.9 197.0 180.0 C197.7 180.1 198.4 180.2 199.0 180.3 C199.7 180.4 200.4 180.5 201.1 180.7 C201.8 180.8 202.5 180.9 203.1 181.1 C203.8 181.2 204.5 181.4 205.2 181.5 C205.9 181.7 206.5 181.9 207.2 182.0 C207.9 182.2 208.6 182.4 209.3 182.6 C209.9 182.8 210.6 183.0 211.3 183.2 C212.0 183.4 212.7 183.7 213.4 183.9 C214.0 184.1 214.7 184.4 215.4 184.7 C216.1 184.9 216.8 185.2 217.4 185.5 C218.1 185.7 218.8 186.0 219.5 186.3 C220.2 186.6 220.9 187.0 221.5 187.3 C222.2 187.6 222.9 188.0 223.6 188.3 C224.3 188.7 224.9 189.0 225.6 189.4 C226.3 189.8 227.0 190.2 227.7 190.6 C228.3 191.0 229.0 191.4 229.7 191.8 C230.4 192.2 231.1 192.7 231.8 193.1 C232.4 193.6 233.1 194.1 233.8 194.6 C234.5 195.0 235.2 195.5 235.8 196.0 C236.5 196.6 237.2 197.1 237.9 197.6 C238.6 198.2 239.2 198.7 239.9 199.3 C240.6 199.9 241.3 200.5 242.0 201.1 C242.7 201.7 243.3 202.3 244.0 202.9 C244.7 203.6 245.4 204.2 246.1 204.9 C246.7 205.5 247.4 206.2 248.1 206.9 C248.8 207.6 249.5 208.3 250.2 209.1 C250.8 209.8 251.5 210.6 252.2 211.3 C252.9 212.1 253.6 212.9 254.2 213.7 C254.9 214.5 255.6 215.3 256.3 216.1 C257.0 217.0 257.6 217.8 258.3 218.7 C259.0 219.6 259.7 220.5 260.4 221.4 C261.1 222.3 261.7 223.3 262.4 224.2 C263.1 225.2 263.8 226.1 264.5 227.1 C265.1 228.1 265.8 229.1 266.5 230.2 C267.2 231.2 267.9 232.2 268.5 233.3 C269.2 234.4 269.9 235.5 270.6 236.6 C271.3 237.7 272.0 238.8 272.6 240.0 C273.3 241.1 274.0 242.3 274.7 243.5 C275.4 244.7 276.0 245.9 276.7 247.2 C277.4 248.4 278.1 249.7 278.8 251.0 C279.5 252.2 280.1 253.6 280.8 254.9 C281.5 256.2 282.2 257.6 282.9 258.9 C283.5 260.3 284.2 261.7 284.9 263.1 C285.6 264.6 286.3 266.0 286.9 267.5 C287.6 268.9 288.3 270.4 289.0 272.0 C289.7 273.5 290.4 275.0 291.0 276.6 C291.7 278.1 292.4 279.7 293.1 281.3 C293.8 283.0 294.4 284.6 295.1 286.3 C295.8 287.9 296.5 289.6 297.2 291.3 C297.8 293.1 298.5 294.8 299.2 296.6 C299.9 298.3 300.6 300.1 301.3 301.9 C301.9 303.8 303.0 306.6 303.3 307.5" fill="none" stroke="#0d0d0d" stroke-width="2.9" stroke-linecap="butt"/>
<line x1="22.9" y1="14.0" x2="22.9" y2="344.0" stroke="#1a1a1a" stroke-width="1.9"/>
<line x1="22.0" y1="343.2" x2="337.8" y2="343.2" stroke="#1a1a1a" stroke-width="1.6"/>
<text transform="translate(21.0 30.9) scale(0.73 1)" font-size="8.5" font-weight="bold" text-anchor="end" fill="#222">2</text>
<text transform="translate(21.0 109.3) scale(0.73 1)" font-size="8.5" font-weight="bold" text-anchor="end" fill="#222">1</text>
<text transform="translate(21.0 188.1) scale(0.73 1)" font-size="8.5" font-weight="bold" text-anchor="end" fill="#222">0</text>
<text transform="translate(21.0 266.4) scale(0.73 1)" font-size="8.5" font-weight="bold" text-anchor="end" fill="#222">-1</text>
<text transform="translate(21.0 344.6) scale(0.73 1)" font-size="8.5" font-weight="bold" text-anchor="end" fill="#222">-2</text>
<text transform="translate(37.5 353.2) scale(0.63 1)" font-size="8.5" font-weight="bold" text-anchor="middle" fill="#222">0</text>
<text transform="translate(167.9 353.2) scale(0.63 1)" font-size="8.5" font-weight="bold" text-anchor="middle" fill="#222">0.45</text>
<text transform="translate(213.4 353.2) scale(0.63 1)" font-size="8.5" font-weight="bold" text-anchor="middle" fill="#222">0.61</text>
<text transform="translate(236.5 353.2) scale(0.63 1)" font-size="8.5" font-weight="bold" text-anchor="middle" fill="#222">0.69</text>
<text transform="translate(267.7 353.2) scale(0.63 1)" font-size="8.5" font-weight="bold" text-anchor="middle" fill="#222">0.8</text>
<text transform="translate(324.0 353.2) scale(0.63 1)" font-size="8.5" font-weight="bold" text-anchor="middle" fill="#222">1</text>
<text transform="translate(186.2 364.3) scale(0.84 1)" font-size="14.2" font-weight="bold" text-anchor="middle">SDI</text>
<text transform="translate(17.0 164.0) rotate(-90) scale(1 1)" font-size="13.3" font-weight="bold" text-anchor="middle">EAPC</text>
<text transform="translate(7.4 14.0) scale(0.82 1)" font-size="20" font-weight="bold" fill="#000">a</text>
<text transform="translate(53.75 36.8) scale(0.677 1)" font-size="15.8" fill="#111" stroke="#111" stroke-width="0.85">R</text>
<text transform="translate(64.20 36.8) scale(0.687 1)" font-size="15.8" fill="#111" stroke="#111" stroke-width="0.85">=−0.57,p</text>
<text transform="translate(107.73 36.8) scale(0.762 1)" font-size="15.8" fill="#111" stroke="#111" stroke-width="0.85"><</text>
<text transform="translate(115.67 36.8) scale(0.697 1)" font-size="15.8" fill="#111" stroke="#111" stroke-width="0.85">2.2e−16</text>
</g>
<g id="panel-b">
<line x1="376.5" y1="15.1" x2="376.5" y2="343.2" stroke="#eeeeee" stroke-width="1"/>
<line x1="505.5" y1="15.1" x2="505.5" y2="343.2" stroke="#eeeeee" stroke-width="1"/>
<line x1="551.5" y1="15.1" x2="551.5" y2="343.2" stroke="#eeeeee" stroke-width="1"/>
<line x1="573.5" y1="15.1" x2="573.5" y2="343.2" stroke="#eeeeee" stroke-width="1"/>
<line x1="605.5" y1="15.1" x2="605.5" y2="343.2" stroke="#eeeeee" stroke-width="1"/>
<line x1="662.5" y1="15.1" x2="662.5" y2="343.2" stroke="#eeeeee" stroke-width="1"/>
<line x1="362.1" y1="30.5" x2="677.3" y2="30.5" stroke="#eeeeee" stroke-width="1"/>
<line x1="362.1" y1="105.5" x2="677.3" y2="105.5" stroke="#eeeeee" stroke-width="1"/>
<line x1="362.1" y1="180.5" x2="677.3" y2="180.5" stroke="#eeeeee" stroke-width="1"/>
<line x1="362.1" y1="256.5" x2="677.3" y2="256.5" stroke="#eeeeee" stroke-width="1"/>
<line x1="362.1" y1="332.5" x2="677.3" y2="332.5" stroke="#eeeeee" stroke-width="1"/>
<ellipse cx="399.5" cy="164.8" rx="1.93" ry="3.25" fill="#646464" stroke="#0c0c0c" stroke-width="1.1"/>
<ellipse cx="423.1" cy="167.3" rx="1.18" ry="1.92" fill="#646464" stroke="#0c0c0c" stroke-width="0.9"/>
<ellipse cx="444.5" cy="171.1" rx="1.18" ry="1.92" fill="#646464" stroke="#0c0c0c" stroke-width="0.9"/>
<ellipse cx="450.3" cy="174.1" rx="1.73" ry="2.76" fill="#646464" stroke="#0c0c0c" stroke-width="0.9"/>
<ellipse cx="451.8" cy="168.1" rx="1.46" ry="2.20" fill="#646464" stroke="#0c0c0c" stroke-width="0.9"/>
<ellipse cx="455.3" cy="175.4" rx="2.21" ry="3.53" fill="#646464" stroke="#0c0c0c" stroke-width="1.1"/>
<ellipse cx="457.8" cy="189.4" rx="1.73" ry="2.76" fill="#646464" stroke="#0c0c0c" stroke-width="0.9"/>
<ellipse cx="464.3" cy="159.6" rx="2.21" ry="3.53" fill="#646464" stroke="#0c0c0c" stroke-width="1.1"/>
<ellipse cx="469.6" cy="166.6" rx="1.18" ry="1.92" fill="#646464" stroke="#0c0c0c" stroke-width="0.9"/>
<ellipse cx="474.6" cy="150.5" rx="2.21" ry="3.53" fill="#646464" stroke="#0c0c0c" stroke-width="1.1"/>
<ellipse cx="480.4" cy="158.0" rx="1.93" ry="2.97" fill="#646464" stroke="#0c0c0c" stroke-width="1.1"/>
<ellipse cx="474.6" cy="183.4" rx="1.08" ry="1.52" fill="#151515"/>
<ellipse cx="475.9" cy="189.2" rx="2.21" ry="3.53" fill="#646464" stroke="#0c0c0c" stroke-width="1.1"/>
<ellipse cx="477.4" cy="172.4" rx="1.93" ry="2.97" fill="#646464" stroke="#0c0c0c" stroke-width="1.1"/>
<ellipse cx="482.4" cy="170.4" rx="1.93" ry="2.97" fill="#646464" stroke="#0c0c0c" stroke-width="1.1"/>
<ellipse cx="485.4" cy="190.4" rx="1.93" ry="3.25" fill="#646464" stroke="#0c0c0c" stroke-width="1.1"/>
<ellipse cx="487.4" cy="186.7" rx="1.73" ry="2.76" fill="#646464" stroke="#0c0c0c" stroke-width="0.9"/>
<ellipse cx="489.7" cy="184.2" rx="1.46" ry="2.20" fill="#646464" stroke="#0c0c0c" stroke-width="0.9"/>
<ellipse cx="489.2" cy="156.5" rx="2.76" ry="4.37" fill="#646464" stroke="#0c0c0c" stroke-width="1.1"/>
<ellipse cx="492.9" cy="152.8" rx="3.32" ry="4.94" fill="#646464" stroke="#0c0c0c" stroke-width="1.1"/>
<ellipse cx="497.5" cy="152.8" rx="1.93" ry="3.25" fill="#646464" stroke="#0c0c0c" stroke-width="1.1"/>
<ellipse cx="491.7" cy="170.9" rx="1.73" ry="2.76" fill="#646464" stroke="#0c0c0c" stroke-width="0.9"/>
<ellipse cx="495.0" cy="172.9" rx="2.49" ry="3.81" fill="#646464" stroke="#0c0c0c" stroke-width="1.1"/>
<ellipse cx="490.4" cy="174.1" rx="1.73" ry="2.76" fill="#646464" stroke="#0c0c0c" stroke-width="0.9"/>
<ellipse cx="497.2" cy="190.7" rx="1.46" ry="2.48" fill="#646464" stroke="#0c0c0c" stroke-width="0.9"/>
<ellipse cx="499.2" cy="182.4" rx="2.21" ry="3.53" fill="#646464" stroke="#0c0c0c" stroke-width="1.1"/>
<ellipse cx="500.0" cy="201.2" rx="1.46" ry="2.48" fill="#646464" stroke="#0c0c0c" stroke-width="0.9"/>
<ellipse cx="505.0" cy="173.6" rx="1.73" ry="2.76" fill="#646464" stroke="#0c0c0c" stroke-width="0.9"/>
<ellipse cx="507.5" cy="174.1" rx="1.73" ry="2.76" fill="#646464" stroke="#0c0c0c" stroke-width="0.9"/>
<ellipse cx="506.8" cy="181.1" rx="1.73" ry="2.76" fill="#646464" stroke="#0c0c0c" stroke-width="0.9"/>
<ellipse cx="506.5" cy="192.9" rx="1.18" ry="1.92" fill="#646464" stroke="#0c0c0c" stroke-width="0.9"/>
<ellipse cx="510.8" cy="184.2" rx="3.04" ry="4.66" fill="#646464" stroke="#0c0c0c" stroke-width="1.1"/>
<ellipse cx="516.8" cy="185.4" rx="3.32" ry="5.22" fill="#646464" stroke="#0c0c0c" stroke-width="1.1"/>
<ellipse cx="514.8" cy="194.5" rx="1.35" ry="1.81" fill="#151515"/>
<ellipse cx="518.3" cy="200.5" rx="2.21" ry="3.25" fill="#646464" stroke="#0c0c0c" stroke-width="1.1"/>
<ellipse cx="510.8" cy="161.6" rx="2.49" ry="4.09" fill="#646464" stroke="#0c0c0c" stroke-width="1.1"/>
<ellipse cx="512.5" cy="156.5" rx="2.76" ry="4.37" fill="#646464" stroke="#0c0c0c" stroke-width="1.1"/>
<ellipse cx="515.0" cy="147.0" rx="3.59" ry="5.50" fill="#646464" stroke="#0c0c0c" stroke-width="1.1"/>
<ellipse cx="516.8" cy="161.1" rx="1.73" ry="2.76" fill="#646464" stroke="#0c0c0c" stroke-width="0.9"/>
<ellipse cx="521.3" cy="156.5" rx="3.04" ry="4.66" fill="#646464" stroke="#0c0c0c" stroke-width="1.1"/>
<ellipse cx="523.8" cy="160.8" rx="1.46" ry="2.48" fill="#646464" stroke="#0c0c0c" stroke-width="0.9"/>
<ellipse cx="523.1" cy="169.1" rx="3.87" ry="5.78" fill="#646464" stroke="#0c0c0c" stroke-width="1.1"/>
<ellipse cx="520.6" cy="172.9" rx="2.49" ry="3.81" fill="#646464" stroke="#0c0c0c" stroke-width="1.1"/>
<ellipse cx="521.3" cy="176.6" rx="2.21" ry="3.53" fill="#646464" stroke="#0c0c0c" stroke-width="1.1"/>
<ellipse cx="526.8" cy="175.4" rx="1.93" ry="3.25" fill="#646464" stroke="#0c0c0c" stroke-width="1.1"/>
<ellipse cx="527.3" cy="103.1" rx="4.42" ry="6.62" fill="#646464" stroke="#0c0c0c" stroke-width="1.1"/>
<ellipse cx="532.1" cy="161.3" rx="3.59" ry="5.50" fill="#646464" stroke="#0c0c0c" stroke-width="1.1"/>
<ellipse cx="536.9" cy="171.1" rx="3.59" ry="5.50" fill="#646464" stroke="#0c0c0c" stroke-width="1.1"/>
<ellipse cx="525.6" cy="200.5" rx="3.87" ry="5.78" fill="#646464" stroke="#0c0c0c" stroke-width="1.1"/>
<ellipse cx="524.8" cy="201.7" rx="1.73" ry="2.76" fill="#646464" stroke="#0c0c0c" stroke-width="0.9"/>
<ellipse cx="530.6" cy="213.8" rx="2.49" ry="3.81" fill="#646464" stroke="#0c0c0c" stroke-width="1.1"/>
<ellipse cx="533.4" cy="187.9" rx="2.21" ry="3.53" fill="#646464" stroke="#0c0c0c" stroke-width="1.1"/>
<ellipse cx="538.1" cy="185.9" rx="1.46" ry="2.20" fill="#646464" stroke="#0c0c0c" stroke-width="0.9"/>
<ellipse cx="540.7" cy="184.9" rx="1.73" ry="2.76" fill="#646464" stroke="#0c0c0c" stroke-width="0.9"/>
<ellipse cx="538.9" cy="198.0" rx="2.49" ry="3.81" fill="#646464" stroke="#0c0c0c" stroke-width="1.1"/>
<ellipse cx="538.4" cy="202.2" rx="1.18" ry="1.92" fill="#646464" stroke="#0c0c0c" stroke-width="0.9"/>
<ellipse cx="542.4" cy="153.5" rx="3.04" ry="4.66" fill="#646464" stroke="#0c0c0c" stroke-width="1.1"/>
<ellipse cx="544.9" cy="154.3" rx="3.59" ry="5.50" fill="#646464" stroke="#0c0c0c" stroke-width="1.1"/>
<ellipse cx="545.7" cy="176.6" rx="3.04" ry="4.66" fill="#646464" stroke="#0c0c0c" stroke-width="1.1"/>
<ellipse cx="546.2" cy="187.4" rx="1.73" ry="2.76" fill="#646464" stroke="#0c0c0c" stroke-width="0.9"/>
<ellipse cx="546.9" cy="182.9" rx="1.93" ry="3.25" fill="#646464" stroke="#0c0c0c" stroke-width="1.1"/>
<ellipse cx="549.9" cy="184.2" rx="2.49" ry="3.81" fill="#646464" stroke="#0c0c0c" stroke-width="1.1"/>
<ellipse cx="549.2" cy="193.5" rx="1.93" ry="2.97" fill="#646464" stroke="#0c0c0c" stroke-width="1.1"/>
<ellipse cx="551.5" cy="198.0" rx="2.21" ry="3.53" fill="#646464" stroke="#0c0c0c" stroke-width="1.1"/>
<ellipse cx="554.0" cy="197.5" rx="1.73" ry="2.76" fill="#646464" stroke="#0c0c0c" stroke-width="0.9"/>
<ellipse cx="553.2" cy="150.8" rx="3.59" ry="5.50" fill="#646464" stroke="#0c0c0c" stroke-width="1.1"/>
<ellipse cx="557.5" cy="144.0" rx="2.76" ry="4.37" fill="#646464" stroke="#0c0c0c" stroke-width="1.1"/>
<ellipse cx="557.7" cy="151.5" rx="3.04" ry="4.66" fill="#646464" stroke="#0c0c0c" stroke-width="1.1"/>
<ellipse cx="554.7" cy="168.6" rx="3.59" ry="5.50" fill="#646464" stroke="#0c0c0c" stroke-width="1.1"/>
<ellipse cx="558.7" cy="171.6" rx="2.49" ry="3.81" fill="#646464" stroke="#0c0c0c" stroke-width="1.1"/>
<ellipse cx="557.7" cy="177.9" rx="2.76" ry="4.09" fill="#646464" stroke="#0c0c0c" stroke-width="1.1"/>
<ellipse cx="555.7" cy="186.7" rx="1.93" ry="2.97" fill="#646464" stroke="#0c0c0c" stroke-width="1.1"/>
<ellipse cx="553.2" cy="189.2" rx="1.46" ry="2.20" fill="#646464" stroke="#0c0c0c" stroke-width="0.9"/>
<ellipse cx="558.7" cy="194.7" rx="2.21" ry="3.53" fill="#646464" stroke="#0c0c0c" stroke-width="1.1"/>
<ellipse cx="550.2" cy="247.4" rx="2.21" ry="3.53" fill="#646464" stroke="#0c0c0c" stroke-width="1.1"/>
<ellipse cx="559.7" cy="252.0" rx="1.93" ry="2.97" fill="#646464" stroke="#0c0c0c" stroke-width="1.1"/>
<ellipse cx="560.7" cy="143.5" rx="2.76" ry="4.37" fill="#646464" stroke="#0c0c0c" stroke-width="1.1"/>
<ellipse cx="565.2" cy="150.8" rx="3.59" ry="5.50" fill="#646464" stroke="#0c0c0c" stroke-width="1.1"/>
<ellipse cx="566.2" cy="160.3" rx="3.32" ry="5.22" fill="#646464" stroke="#0c0c0c" stroke-width="1.1"/>
<ellipse cx="568.7" cy="166.6" rx="2.49" ry="3.81" fill="#646464" stroke="#0c0c0c" stroke-width="1.1"/>
<ellipse cx="572.5" cy="169.1" rx="2.76" ry="4.09" fill="#646464" stroke="#0c0c0c" stroke-width="1.1"/>
<ellipse cx="574.0" cy="157.8" rx="3.32" ry="5.22" fill="#646464" stroke="#0c0c0c" stroke-width="1.1"/>
<ellipse cx="575.8" cy="154.0" rx="2.76" ry="4.37" fill="#646464" stroke="#0c0c0c" stroke-width="1.1"/>
<ellipse cx="579.5" cy="151.0" rx="3.59" ry="5.50" fill="#646464" stroke="#0c0c0c" stroke-width="1.1"/>
<ellipse cx="580.8" cy="156.5" rx="2.49" ry="3.81" fill="#646464" stroke="#0c0c0c" stroke-width="1.1"/>
<ellipse cx="578.8" cy="164.8" rx="1.93" ry="3.25" fill="#646464" stroke="#0c0c0c" stroke-width="1.1"/>
<ellipse cx="579.0" cy="171.6" rx="2.21" ry="3.53" fill="#646464" stroke="#0c0c0c" stroke-width="1.1"/>
<ellipse cx="583.8" cy="166.1" rx="3.32" ry="5.22" fill="#646464" stroke="#0c0c0c" stroke-width="1.1"/>
<ellipse cx="587.6" cy="149.8" rx="3.32" ry="5.22" fill="#646464" stroke="#0c0c0c" stroke-width="1.1"/>
<ellipse cx="595.1" cy="146.5" rx="3.59" ry="5.50" fill="#646464" stroke="#0c0c0c" stroke-width="1.1"/>
<ellipse cx="600.4" cy="151.3" rx="2.49" ry="4.09" fill="#646464" stroke="#0c0c0c" stroke-width="1.1"/>
<ellipse cx="597.6" cy="156.5" rx="3.32" ry="5.22" fill="#646464" stroke="#0c0c0c" stroke-width="1.1"/>
<ellipse cx="596.1" cy="170.4" rx="3.04" ry="4.66" fill="#646464" stroke="#0c0c0c" stroke-width="1.1"/>
<ellipse cx="609.2" cy="138.5" rx="3.32" ry="5.22" fill="#646464" stroke="#0c0c0c" stroke-width="1.1"/>
<ellipse cx="611.2" cy="150.5" rx="3.04" ry="4.66" fill="#646464" stroke="#0c0c0c" stroke-width="1.1"/>
<ellipse cx="617.2" cy="153.5" rx="3.04" ry="4.66" fill="#646464" stroke="#0c0c0c" stroke-width="1.1"/>
<ellipse cx="620.0" cy="174.9" rx="2.49" ry="3.81" fill="#646464" stroke="#0c0c0c" stroke-width="1.1"/>
<ellipse cx="628.3" cy="189.9" rx="2.21" ry="3.53" fill="#646464" stroke="#0c0c0c" stroke-width="1.1"/>
<ellipse cx="602.6" cy="177.9" rx="3.32" ry="4.94" fill="#646464" stroke="#0c0c0c" stroke-width="1.1"/>
<ellipse cx="606.7" cy="175.9" rx="3.59" ry="5.50" fill="#646464" stroke="#0c0c0c" stroke-width="1.1"/>
<ellipse cx="605.9" cy="176.6" rx="1.73" ry="2.76" fill="#646464" stroke="#0c0c0c" stroke-width="0.9"/>
<ellipse cx="605.2" cy="185.4" rx="1.73" ry="2.76" fill="#646464" stroke="#0c0c0c" stroke-width="0.9"/>
<ellipse cx="609.7" cy="186.7" rx="1.93" ry="2.97" fill="#646464" stroke="#0c0c0c" stroke-width="1.1"/>
<ellipse cx="615.2" cy="189.7" rx="3.32" ry="4.94" fill="#646464" stroke="#0c0c0c" stroke-width="1.1"/>
<ellipse cx="604.1" cy="197.5" rx="1.73" ry="2.76" fill="#646464" stroke="#0c0c0c" stroke-width="0.9"/>
<ellipse cx="609.2" cy="198.0" rx="1.73" ry="2.76" fill="#646464" stroke="#0c0c0c" stroke-width="0.9"/>
<ellipse cx="613.4" cy="198.0" rx="2.49" ry="3.81" fill="#646464" stroke="#0c0c0c" stroke-width="1.1"/>
<ellipse cx="617.7" cy="198.5" rx="2.76" ry="4.37" fill="#646464" stroke="#0c0c0c" stroke-width="1.1"/>
<ellipse cx="589.6" cy="179.1" rx="3.04" ry="4.66" fill="#646464" stroke="#0c0c0c" stroke-width="1.1"/>
<ellipse cx="586.6" cy="183.4" rx="2.76" ry="4.37" fill="#646464" stroke="#0c0c0c" stroke-width="1.1"/>
<ellipse cx="590.1" cy="182.9" rx="3.32" ry="4.94" fill="#646464" stroke="#0c0c0c" stroke-width="1.1"/>
<ellipse cx="592.8" cy="189.2" rx="2.76" ry="4.37" fill="#646464" stroke="#0c0c0c" stroke-width="1.1"/>
<ellipse cx="595.4" cy="189.2" rx="2.21" ry="3.53" fill="#646464" stroke="#0c0c0c" stroke-width="1.1"/>
<ellipse cx="585.8" cy="192.4" rx="3.59" ry="5.50" fill="#646464" stroke="#0c0c0c" stroke-width="1.1"/>
<ellipse cx="592.8" cy="201.2" rx="1.73" ry="2.76" fill="#646464" stroke="#0c0c0c" stroke-width="0.9"/>
<ellipse cx="585.1" cy="200.5" rx="1.18" ry="1.92" fill="#646464" stroke="#0c0c0c" stroke-width="0.9"/>
<ellipse cx="572.8" cy="185.4" rx="3.59" ry="5.50" fill="#646464" stroke="#0c0c0c" stroke-width="1.1"/>
<ellipse cx="563.2" cy="187.4" rx="2.49" ry="3.81" fill="#646464" stroke="#0c0c0c" stroke-width="1.1"/>
<ellipse cx="568.2" cy="175.4" rx="2.76" ry="4.37" fill="#646464" stroke="#0c0c0c" stroke-width="1.1"/>
<ellipse cx="564.5" cy="176.6" rx="1.93" ry="3.25" fill="#646464" stroke="#0c0c0c" stroke-width="1.1"/>
<ellipse cx="559.0" cy="194.2" rx="1.93" ry="3.25" fill="#646464" stroke="#0c0c0c" stroke-width="1.1"/>
<ellipse cx="568.2" cy="201.2" rx="1.73" ry="2.76" fill="#646464" stroke="#0c0c0c" stroke-width="0.9"/>
<ellipse cx="572.8" cy="199.7" rx="1.46" ry="2.20" fill="#646464" stroke="#0c0c0c" stroke-width="0.9"/>
<ellipse cx="567.7" cy="209.3" rx="1.73" ry="2.76" fill="#646464" stroke="#0c0c0c" stroke-width="0.9"/>
<ellipse cx="569.0" cy="213.8" rx="3.04" ry="4.66" fill="#646464" stroke="#0c0c0c" stroke-width="1.1"/>
<ellipse cx="573.0" cy="217.3" rx="2.76" ry="4.37" fill="#646464" stroke="#0c0c0c" stroke-width="1.1"/>
<ellipse cx="562.2" cy="228.1" rx="1.93" ry="3.25" fill="#646464" stroke="#0c0c0c" stroke-width="1.1"/>
<ellipse cx="557.4" cy="231.6" rx="1.73" ry="2.76" fill="#646464" stroke="#0c0c0c" stroke-width="0.9"/>
<ellipse cx="570.5" cy="233.6" rx="3.04" ry="4.66" fill="#646464" stroke="#0c0c0c" stroke-width="1.1"/>
<ellipse cx="579.3" cy="248.2" rx="3.59" ry="5.50" fill="#646464" stroke="#0c0c0c" stroke-width="1.1"/>
<ellipse cx="593.9" cy="252.0" rx="3.59" ry="5.50" fill="#646464" stroke="#0c0c0c" stroke-width="1.1"/>
<ellipse cx="590.6" cy="219.8" rx="2.49" ry="3.81" fill="#646464" stroke="#0c0c0c" stroke-width="1.1"/>
<ellipse cx="602.6" cy="208.5" rx="3.32" ry="5.22" fill="#646464" stroke="#0c0c0c" stroke-width="1.1"/>
<ellipse cx="617.0" cy="219.6" rx="2.76" ry="4.37" fill="#646464" stroke="#0c0c0c" stroke-width="1.1"/>
<ellipse cx="613.9" cy="230.1" rx="1.93" ry="3.25" fill="#646464" stroke="#0c0c0c" stroke-width="1.1"/>
<ellipse cx="606.4" cy="231.9" rx="3.04" ry="4.66" fill="#646464" stroke="#0c0c0c" stroke-width="1.1"/>
<ellipse cx="608.9" cy="237.6" rx="2.76" ry="4.09" fill="#646464" stroke="#0c0c0c" stroke-width="1.1"/>
<ellipse cx="603.4" cy="239.9" rx="2.49" ry="3.81" fill="#646464" stroke="#0c0c0c" stroke-width="1.1"/>
<ellipse cx="622.2" cy="235.6" rx="4.70" ry="7.19" fill="#646464" stroke="#0c0c0c" stroke-width="1.1"/>
<ellipse cx="616.7" cy="249.4" rx="4.14" ry="6.34" fill="#646464" stroke="#0c0c0c" stroke-width="1.1"/>
<ellipse cx="575.8" cy="263.3" rx="3.87" ry="6.06" fill="#646464" stroke="#0c0c0c" stroke-width="1.1"/>
<ellipse cx="589.1" cy="266.3" rx="4.14" ry="6.34" fill="#646464" stroke="#0c0c0c" stroke-width="1.1"/>
<ellipse cx="606.4" cy="264.1" rx="4.14" ry="6.34" fill="#646464" stroke="#0c0c0c" stroke-width="1.1"/>
<ellipse cx="605.2" cy="270.6" rx="4.42" ry="6.62" fill="#646464" stroke="#0c0c0c" stroke-width="1.1"/>
<ellipse cx="603.4" cy="277.4" rx="3.87" ry="6.06" fill="#646464" stroke="#0c0c0c" stroke-width="1.1"/>
<ellipse cx="619.7" cy="264.3" rx="4.42" ry="6.62" fill="#646464" stroke="#0c0c0c" stroke-width="1.1"/>
<ellipse cx="621.7" cy="269.9" rx="3.87" ry="5.78" fill="#646464" stroke="#0c0c0c" stroke-width="1.1"/>
<ellipse cx="632.3" cy="262.3" rx="3.87" ry="5.78" fill="#646464" stroke="#0c0c0c" stroke-width="1.1"/>
<ellipse cx="633.0" cy="267.9" rx="3.87" ry="5.78" fill="#646464" stroke="#0c0c0c" stroke-width="1.1"/>
<ellipse cx="642.3" cy="269.9" rx="4.14" ry="6.34" fill="#646464" stroke="#0c0c0c" stroke-width="1.1"/>
<ellipse cx="626.0" cy="274.9" rx="3.87" ry="5.78" fill="#646464" stroke="#0c0c0c" stroke-width="1.1"/>
<ellipse cx="636.5" cy="276.1" rx="3.87" ry="5.78" fill="#646464" stroke="#0c0c0c" stroke-width="1.1"/>
<ellipse cx="629.8" cy="281.2" rx="3.59" ry="5.50" fill="#646464" stroke="#0c0c0c" stroke-width="1.1"/>
<ellipse cx="614.7" cy="283.2" rx="3.87" ry="5.78" fill="#646464" stroke="#0c0c0c" stroke-width="1.1"/>
<ellipse cx="611.7" cy="287.4" rx="2.76" ry="4.37" fill="#646464" stroke="#0c0c0c" stroke-width="1.1"/>
<ellipse cx="595.9" cy="288.7" rx="3.87" ry="6.06" fill="#646464" stroke="#0c0c0c" stroke-width="1.1"/>
<ellipse cx="594.1" cy="297.0" rx="4.42" ry="6.91" fill="#646464" stroke="#0c0c0c" stroke-width="1.1"/>
<ellipse cx="621.0" cy="289.9" rx="3.59" ry="5.50" fill="#646464" stroke="#0c0c0c" stroke-width="1.1"/>
<ellipse cx="623.5" cy="296.7" rx="3.87" ry="5.78" fill="#646464" stroke="#0c0c0c" stroke-width="1.1"/>
<ellipse cx="629.0" cy="295.5" rx="3.87" ry="6.06" fill="#646464" stroke="#0c0c0c" stroke-width="1.1"/>
<ellipse cx="616.5" cy="298.2" rx="2.76" ry="4.09" fill="#646464" stroke="#0c0c0c" stroke-width="1.1"/>
<ellipse cx="632.3" cy="288.7" rx="3.59" ry="5.50" fill="#646464" stroke="#0c0c0c" stroke-width="1.1"/>
<ellipse cx="627.2" cy="305.5" rx="2.76" ry="4.09" fill="#646464" stroke="#0c0c0c" stroke-width="1.1"/>
<ellipse cx="626.5" cy="310.0" rx="3.32" ry="4.94" fill="#646464" stroke="#0c0c0c" stroke-width="1.1"/>
<ellipse cx="616.7" cy="310.5" rx="2.76" ry="4.09" fill="#646464" stroke="#0c0c0c" stroke-width="1.1"/>
<ellipse cx="622.7" cy="308.3" rx="1.93" ry="2.97" fill="#646464" stroke="#0c0c0c" stroke-width="1.1"/>
<ellipse cx="605.9" cy="320.1" rx="4.14" ry="6.34" fill="#646464" stroke="#0c0c0c" stroke-width="1.1"/>
<ellipse cx="633.5" cy="319.3" rx="3.87" ry="6.06" fill="#646464" stroke="#0c0c0c" stroke-width="1.1"/>
<ellipse cx="619.0" cy="327.6" rx="3.87" ry="5.78" fill="#646464" stroke="#0c0c0c" stroke-width="1.1"/>
<ellipse cx="625.7" cy="326.4" rx="2.76" ry="4.09" fill="#646464" stroke="#0c0c0c" stroke-width="1.1"/>
<path d="M399.5 96.1 C399.9 96.9 400.9 99.4 401.6 101.0 C402.3 102.6 402.9 104.2 403.6 105.7 C404.3 107.2 405.0 108.6 405.7 110.1 C406.3 111.5 407.0 112.9 407.7 114.3 C408.4 115.7 409.1 117.0 409.7 118.3 C410.4 119.6 411.1 120.9 411.8 122.2 C412.5 123.4 413.2 124.6 413.8 125.8 C414.5 127.0 415.2 128.2 415.9 129.3 C416.6 130.4 417.2 131.5 417.9 132.6 C418.6 133.6 419.3 134.6 420.0 135.6 C420.6 136.7 421.3 137.6 422.0 138.6 C422.7 139.5 423.4 140.4 424.0 141.3 C424.7 142.2 425.4 143.1 426.1 143.9 C426.8 144.8 427.4 145.6 428.1 146.4 C428.8 147.1 429.5 147.9 430.2 148.7 C430.8 149.4 431.5 150.1 432.2 150.8 C432.9 151.5 433.6 152.2 434.2 152.8 C434.9 153.5 435.6 154.1 436.3 154.7 C437.0 155.3 437.7 155.9 438.3 156.5 C439.0 157.0 439.7 157.5 440.4 158.0 C441.1 158.5 441.7 158.9 442.4 159.3 C443.1 159.8 443.8 160.2 444.5 160.6 C445.1 161.0 445.8 161.4 446.5 161.7 C447.2 162.1 447.9 162.5 448.5 162.8 C449.2 163.1 449.9 163.4 450.6 163.7 C451.3 164.0 451.9 164.3 452.6 164.6 C453.3 164.8 454.0 165.1 454.7 165.3 C455.3 165.6 456.0 165.8 456.7 166.0 C457.4 166.2 458.1 166.4 458.7 166.6 C459.4 166.8 460.1 166.9 460.8 167.1 C461.5 167.2 462.2 167.3 462.8 167.4 C463.5 167.5 464.2 167.6 464.9 167.7 C465.6 167.8 466.2 167.9 466.9 168.0 C467.6 168.1 468.3 168.2 469.0 168.2 C469.6 168.3 470.3 168.4 471.0 168.5 C471.7 168.5 472.4 168.6 473.0 168.7 C473.7 168.7 474.4 168.8 475.1 168.8 C475.8 168.9 476.4 168.9 477.1 168.9 C477.8 169.0 478.5 169.0 479.2 169.0 C479.8 169.0 480.5 168.9 481.2 168.9 C481.9 168.8 482.6 168.8 483.2 168.7 C483.9 168.7 484.6 168.6 485.3 168.6 C486.0 168.5 486.7 168.5 487.3 168.4 C488.0 168.4 488.7 168.3 489.4 168.2 C490.1 168.2 490.7 168.1 491.4 168.1 C492.1 168.0 492.8 167.9 493.5 167.9 C494.1 167.8 494.8 167.7 495.5 167.7 C496.2 167.6 496.9 167.5 497.5 167.5 C498.2 167.4 498.9 167.3 499.6 167.3 C500.3 167.2 500.9 167.2 501.6 167.1 C502.3 167.0 503.0 167.0 503.7 166.9 C504.3 166.8 505.0 166.8 505.7 166.7 C506.4 166.7 507.1 166.6 507.7 166.6 C508.4 166.5 509.1 166.5 509.8 166.5 C510.5 166.4 511.2 166.4 511.8 166.4 C512.5 166.4 513.2 166.4 513.9 166.4 C514.6 166.4 515.2 166.4 515.9 166.4 C516.6 166.4 517.3 166.4 518.0 166.4 C518.6 166.4 519.3 166.4 520.0 166.4 C520.7 166.4 521.4 166.4 522.0 166.3 C522.7 166.3 523.4 166.3 524.1 166.3 C524.8 166.3 525.4 166.3 526.1 166.3 C526.8 166.3 527.5 166.3 528.2 166.4 C528.8 166.4 529.5 166.4 530.2 166.4 C530.9 166.5 531.6 166.5 532.2 166.5 C532.9 166.6 533.6 166.6 534.3 166.7 C535.0 166.8 535.7 166.8 536.3 166.9 C537.0 167.0 537.7 167.1 538.4 167.2 C539.1 167.3 539.7 167.4 540.4 167.5 C541.1 167.6 541.8 167.7 542.5 167.8 C543.1 167.9 543.8 168.1 544.5 168.2 C545.2 168.4 545.9 168.5 546.5 168.7 C547.2 168.8 547.9 169.0 548.6 169.2 C549.3 169.4 549.9 169.6 550.6 169.8 C551.3 170.0 552.0 170.2 552.7 170.4 C553.3 170.7 554.0 170.9 554.7 171.2 C555.4 171.4 556.1 171.7 556.7 172.0 C557.4 172.2 558.1 172.5 558.8 172.8 C559.5 173.1 560.2 173.4 560.8 173.8 C561.5 174.1 562.2 174.4 562.9 174.7 C563.6 175.1 564.2 175.4 564.9 175.8 C565.6 176.2 566.3 176.5 567.0 176.9 C567.6 177.3 568.3 177.7 569.0 178.2 C569.7 178.6 570.4 179.0 571.0 179.5 C571.7 179.9 572.4 180.4 573.1 180.9 C573.8 181.4 574.4 181.9 575.1 182.4 C575.8 182.9 576.5 183.4 577.2 184.0 C577.8 184.5 578.5 185.1 579.2 185.7 C579.9 186.3 580.6 186.9 581.2 187.5 C581.9 188.1 582.6 188.7 583.3 189.4 C584.0 190.0 584.7 190.7 585.3 191.4 C586.0 192.1 586.7 192.8 587.4 193.5 C588.1 194.2 588.7 195.0 589.4 195.7 C590.1 196.5 590.8 197.3 591.5 198.0 C592.1 198.8 592.8 199.7 593.5 200.5 C594.2 201.3 594.9 202.2 595.5 203.1 C596.2 203.9 596.9 204.8 597.6 205.8 C598.3 206.7 598.9 207.6 599.6 208.6 C600.3 209.5 601.0 210.5 601.7 211.5 C602.3 212.4 603.0 213.4 603.7 214.5 C604.4 215.5 605.1 216.5 605.7 217.6 C606.4 218.7 607.1 219.8 607.8 220.9 C608.5 222.0 609.2 223.1 609.8 224.3 C610.5 225.5 611.2 226.6 611.9 227.8 C612.6 229.0 613.2 230.3 613.9 231.5 C614.6 232.8 615.3 234.0 616.0 235.3 C616.6 236.6 617.3 237.8 618.0 239.1 C618.7 240.4 619.4 241.8 620.0 243.1 C620.7 244.4 621.4 245.8 622.1 247.2 C622.8 248.6 623.4 250.1 624.1 251.5 C624.8 252.9 625.5 254.3 626.2 255.7 C626.8 257.1 627.5 258.5 628.2 259.9 C628.9 261.3 629.6 262.8 630.2 264.2 C630.9 265.7 631.6 267.2 632.3 268.6 C633.0 270.1 633.7 271.5 634.3 272.9 C635.0 274.4 635.7 275.8 636.4 277.2 C637.1 278.6 637.7 280.0 638.4 281.2 C639.1 282.4 639.8 283.4 640.5 284.4 C641.1 285.4 642.2 286.7 642.5 287.2 L642.5 324.8 C642.2 323.2 641.1 318.6 640.5 315.6 C639.8 312.7 639.1 309.8 638.4 307.2 C637.7 304.6 637.1 302.3 636.4 300.0 C635.7 297.7 635.0 295.5 634.3 293.4 C633.7 291.2 633.0 289.1 632.3 287.1 C631.6 285.1 630.9 283.2 630.2 281.3 C629.6 279.4 628.9 277.6 628.2 275.7 C627.5 273.9 626.8 272.1 626.2 270.3 C625.5 268.6 624.8 266.9 624.1 265.3 C623.4 263.7 622.8 262.1 622.1 260.6 C621.4 259.1 620.7 257.6 620.0 256.1 C619.4 254.6 618.7 253.1 618.0 251.7 C617.3 250.3 616.6 248.8 616.0 247.5 C615.3 246.1 614.6 244.8 613.9 243.5 C613.2 242.2 612.6 240.9 611.9 239.7 C611.2 238.4 610.5 237.2 609.8 236.0 C609.2 234.8 608.5 233.6 607.8 232.5 C607.1 231.3 606.4 230.2 605.7 229.1 C605.1 228.0 604.4 226.9 603.7 225.9 C603.0 224.8 602.3 223.8 601.7 222.7 C601.0 221.7 600.3 220.7 599.6 219.8 C598.9 218.8 598.3 217.9 597.6 217.0 C596.9 216.0 596.2 215.1 595.5 214.3 C594.9 213.4 594.2 212.5 593.5 211.7 C592.8 210.9 592.1 210.0 591.5 209.2 C590.8 208.5 590.1 207.7 589.4 206.9 C588.7 206.2 588.1 205.4 587.4 204.7 C586.7 204.0 586.0 203.3 585.3 202.6 C584.7 201.9 584.0 201.2 583.3 200.6 C582.6 199.9 581.9 199.3 581.2 198.7 C580.6 198.1 579.9 197.5 579.2 196.9 C578.5 196.3 577.8 195.7 577.2 195.2 C576.5 194.6 575.8 194.1 575.1 193.6 C574.4 193.1 573.8 192.6 573.1 192.1 C572.4 191.6 571.7 191.1 571.0 190.7 C570.4 190.2 569.7 189.8 569.0 189.4 C568.3 188.9 567.6 188.5 567.0 188.1 C566.3 187.7 565.6 187.4 564.9 187.0 C564.2 186.6 563.6 186.3 562.9 185.9 C562.2 185.6 561.5 185.3 560.8 185.0 C560.2 184.6 559.5 184.4 558.8 184.1 C558.1 183.8 557.4 183.5 556.7 183.3 C556.1 183.0 555.4 182.8 554.7 182.6 C554.0 182.4 553.3 182.1 552.7 181.9 C552.0 181.7 551.3 181.5 550.6 181.4 C549.9 181.2 549.3 181.0 548.6 180.9 C547.9 180.7 547.2 180.6 546.5 180.4 C545.9 180.3 545.2 180.2 544.5 180.0 C543.8 179.9 543.1 179.8 542.5 179.7 C541.8 179.6 541.1 179.5 540.4 179.4 C539.7 179.4 539.1 179.3 538.4 179.2 C537.7 179.2 537.0 179.1 536.3 179.1 C535.7 179.0 535.0 179.0 534.3 179.0 C533.6 179.0 532.9 178.9 532.2 178.9 C531.6 178.9 530.9 178.9 530.2 178.9 C529.5 178.9 528.8 178.9 528.2 178.9 C527.5 179.0 526.8 179.0 526.1 179.0 C525.4 179.0 524.8 179.1 524.1 179.1 C523.4 179.1 522.7 179.2 522.0 179.2 C521.4 179.3 520.7 179.3 520.0 179.4 C519.3 179.5 518.6 179.6 518.0 179.7 C517.3 179.8 516.6 180.0 515.9 180.1 C515.2 180.2 514.6 180.3 513.9 180.5 C513.2 180.6 512.5 180.7 511.8 180.9 C511.2 181.0 510.5 181.2 509.8 181.3 C509.1 181.4 508.4 181.6 507.7 181.7 C507.1 181.8 506.4 181.9 505.7 182.1 C505.0 182.2 504.3 182.3 503.7 182.4 C503.0 182.6 502.3 182.7 501.6 182.8 C500.9 183.0 500.3 183.1 499.6 183.2 C498.9 183.4 498.2 183.5 497.5 183.6 C496.9 183.8 496.2 183.9 495.5 184.0 C494.8 184.2 494.1 184.3 493.5 184.4 C492.8 184.6 492.1 184.7 491.4 184.8 C490.7 184.9 490.1 185.1 489.4 185.2 C488.7 185.3 488.0 185.5 487.3 185.6 C486.7 185.7 486.0 185.8 485.3 186.0 C484.6 186.1 483.9 186.2 483.2 186.3 C482.6 186.4 481.9 186.5 481.2 186.7 C480.5 186.8 479.8 186.9 479.2 187.0 C478.5 187.1 477.8 187.3 477.1 187.5 C476.4 187.6 475.8 187.8 475.1 187.9 C474.4 188.1 473.7 188.2 473.0 188.4 C472.4 188.5 471.7 188.7 471.0 188.8 C470.3 189.0 469.6 189.1 469.0 189.3 C468.3 189.4 467.6 189.5 466.9 189.6 C466.2 189.7 465.6 189.8 464.9 189.9 C464.2 190.0 463.5 190.1 462.8 190.2 C462.2 190.3 461.5 190.4 460.8 190.5 C460.1 190.6 459.4 190.6 458.7 190.7 C458.1 190.8 457.4 191.0 456.7 191.1 C456.0 191.2 455.3 191.3 454.7 191.4 C454.0 191.5 453.3 191.6 452.6 191.6 C451.9 191.7 451.3 191.8 450.6 191.9 C449.9 192.0 449.2 192.0 448.5 192.1 C447.9 192.2 447.2 192.3 446.5 192.4 C445.8 192.4 445.1 192.5 444.5 192.6 C443.8 192.7 443.1 192.7 442.4 192.8 C441.7 192.8 441.1 192.9 440.4 192.9 C439.7 193.0 439.0 193.0 438.3 193.1 C437.7 193.2 437.0 193.3 436.3 193.4 C435.6 193.5 434.9 193.6 434.2 193.7 C433.6 193.8 432.9 193.9 432.2 194.0 C431.5 194.0 430.8 194.1 430.2 194.2 C429.5 194.3 428.8 194.4 428.1 194.4 C427.4 194.5 426.8 194.6 426.1 194.6 C425.4 194.7 424.7 194.8 424.0 194.8 C423.4 194.9 422.7 194.9 422.0 195.0 C421.3 195.0 420.6 195.1 420.0 195.1 C419.3 195.2 418.6 195.2 417.9 195.3 C417.2 195.3 416.6 195.4 415.9 195.4 C415.2 195.5 414.5 195.5 413.8 195.5 C413.2 195.6 412.5 195.6 411.8 195.7 C411.1 195.7 410.4 195.8 409.7 195.8 C409.1 195.8 408.4 195.8 407.7 195.9 C407.0 195.9 406.3 195.9 405.7 195.9 C405.0 195.9 404.3 195.9 403.6 195.9 C402.9 196.0 402.3 196.0 401.6 196.0 C400.9 196.0 399.9 196.0 399.5 196.0 Z" fill="#999999" fill-opacity="0.4"/>
<path d="M399.5 146.1 C399.9 146.5 400.9 147.7 401.6 148.5 C402.3 149.3 402.9 150.1 403.6 150.8 C404.3 151.6 405.0 152.3 405.7 153.0 C406.3 153.7 407.0 154.4 407.7 155.1 C408.4 155.7 409.1 156.4 409.7 157.0 C410.4 157.7 411.1 158.3 411.8 158.9 C412.5 159.5 413.2 160.1 413.8 160.7 C414.5 161.3 415.2 161.8 415.9 162.4 C416.6 162.9 417.2 163.4 417.9 163.9 C418.6 164.4 419.3 164.9 420.0 165.4 C420.6 165.9 421.3 166.3 422.0 166.8 C422.7 167.2 423.4 167.7 424.0 168.1 C424.7 168.5 425.4 168.9 426.1 169.3 C426.8 169.7 427.4 170.0 428.1 170.4 C428.8 170.8 429.5 171.1 430.2 171.4 C430.8 171.8 431.5 172.1 432.2 172.4 C432.9 172.7 433.6 173.0 434.2 173.3 C434.9 173.5 435.6 173.8 436.3 174.1 C437.0 174.3 437.7 174.6 438.3 174.8 C439.0 175.0 439.7 175.3 440.4 175.5 C441.1 175.7 441.7 175.9 442.4 176.1 C443.1 176.2 443.8 176.4 444.5 176.6 C445.1 176.8 445.8 176.9 446.5 177.1 C447.2 177.2 447.9 177.3 448.5 177.5 C449.2 177.6 449.9 177.7 450.6 177.8 C451.3 177.9 451.9 178.0 452.6 178.1 C453.3 178.2 454.0 178.3 454.7 178.3 C455.3 178.4 456.0 178.5 456.7 178.5 C457.4 178.6 458.1 178.6 458.7 178.7 C459.4 178.7 460.1 178.7 460.8 178.8 C461.5 178.8 462.2 178.8 462.8 178.8 C463.5 178.8 464.2 178.8 464.9 178.8 C465.6 178.8 466.2 178.8 466.9 178.8 C467.6 178.8 468.3 178.8 469.0 178.7 C469.6 178.7 470.3 178.7 471.0 178.7 C471.7 178.6 472.4 178.6 473.0 178.5 C473.7 178.5 474.4 178.4 475.1 178.4 C475.8 178.3 476.4 178.3 477.1 178.2 C477.8 178.1 478.5 178.1 479.2 178.0 C479.8 177.9 480.5 177.8 481.2 177.8 C481.9 177.7 482.6 177.6 483.2 177.5 C483.9 177.4 484.6 177.4 485.3 177.3 C486.0 177.2 486.7 177.1 487.3 177.0 C488.0 176.9 488.7 176.8 489.4 176.7 C490.1 176.6 490.7 176.5 491.4 176.4 C492.1 176.3 492.8 176.2 493.5 176.1 C494.1 176.0 494.8 175.9 495.5 175.8 C496.2 175.7 496.9 175.6 497.5 175.5 C498.2 175.4 498.9 175.3 499.6 175.3 C500.3 175.2 500.9 175.1 501.6 175.0 C502.3 174.9 503.0 174.8 503.7 174.7 C504.3 174.6 505.0 174.5 505.7 174.4 C506.4 174.3 507.1 174.2 507.7 174.1 C508.4 174.0 509.1 174.0 509.8 173.9 C510.5 173.8 511.2 173.7 511.8 173.6 C512.5 173.6 513.2 173.5 513.9 173.4 C514.6 173.4 515.2 173.3 515.9 173.2 C516.6 173.2 517.3 173.1 518.0 173.1 C518.6 173.0 519.3 173.0 520.0 172.9 C520.7 172.9 521.4 172.8 522.0 172.8 C522.7 172.8 523.4 172.7 524.1 172.7 C524.8 172.7 525.4 172.7 526.1 172.7 C526.8 172.6 527.5 172.6 528.2 172.6 C528.8 172.6 529.5 172.7 530.2 172.7 C530.9 172.7 531.6 172.7 532.2 172.7 C532.9 172.8 533.6 172.8 534.3 172.8 C535.0 172.9 535.7 172.9 536.3 173.0 C537.0 173.1 537.7 173.1 538.4 173.2 C539.1 173.3 539.7 173.4 540.4 173.5 C541.1 173.5 541.8 173.7 542.5 173.8 C543.1 173.9 543.8 174.0 544.5 174.1 C545.2 174.3 545.9 174.4 546.5 174.5 C547.2 174.7 547.9 174.9 548.6 175.0 C549.3 175.2 549.9 175.4 550.6 175.6 C551.3 175.8 552.0 176.0 552.7 176.2 C553.3 176.4 554.0 176.6 554.7 176.9 C555.4 177.1 556.1 177.4 556.7 177.6 C557.4 177.9 558.1 178.2 558.8 178.5 C559.5 178.7 560.2 179.0 560.8 179.4 C561.5 179.7 562.2 180.0 562.9 180.3 C563.6 180.7 564.2 181.0 564.9 181.4 C565.6 181.8 566.3 182.1 567.0 182.5 C567.6 182.9 568.3 183.3 569.0 183.8 C569.7 184.2 570.4 184.6 571.0 185.1 C571.7 185.5 572.4 186.0 573.1 186.5 C573.8 187.0 574.4 187.5 575.1 188.0 C575.8 188.5 576.5 189.0 577.2 189.6 C577.8 190.1 578.5 190.7 579.2 191.3 C579.9 191.9 580.6 192.5 581.2 193.1 C581.9 193.7 582.6 194.3 583.3 195.0 C584.0 195.6 584.7 196.3 585.3 197.0 C586.0 197.7 586.7 198.4 587.4 199.1 C588.1 199.8 588.7 200.6 589.4 201.3 C590.1 202.1 590.8 202.9 591.5 203.6 C592.1 204.4 592.8 205.3 593.5 206.1 C594.2 206.9 594.9 207.8 595.5 208.7 C596.2 209.5 596.9 210.4 597.6 211.4 C598.3 212.3 598.9 213.2 599.6 214.2 C600.3 215.1 601.0 216.1 601.7 217.1 C602.3 218.1 603.0 219.1 603.7 220.2 C604.4 221.2 605.1 222.3 605.7 223.4 C606.4 224.5 607.1 225.6 607.8 226.7 C608.5 227.8 609.2 229.0 609.8 230.2 C610.5 231.3 611.2 232.5 611.9 233.8 C612.6 235.0 613.2 236.2 613.9 237.5 C614.6 238.8 615.3 240.1 616.0 241.4 C616.6 242.7 617.3 244.0 618.0 245.4 C618.7 246.8 619.4 248.2 620.0 249.6 C620.7 251.0 621.4 252.4 622.1 253.9 C622.8 255.4 623.4 256.9 624.1 258.4 C624.8 259.9 625.5 261.5 626.2 263.0 C626.8 264.6 627.5 266.2 628.2 267.8 C628.9 269.4 629.6 271.1 630.2 272.8 C630.9 274.4 631.6 276.1 632.3 277.9 C633.0 279.6 633.7 281.4 634.3 283.2 C635.0 284.9 635.7 286.8 636.4 288.6 C637.1 290.4 637.7 292.3 638.4 294.2 C639.1 296.1 639.8 298.0 640.5 300.0 C641.1 302.0 642.2 305.0 642.5 306.0" fill="none" stroke="#0d0d0d" stroke-width="2.9" stroke-linecap="butt"/>
<line x1="362.1" y1="15.1" x2="362.1" y2="344.0" stroke="#1a1a1a" stroke-width="1.9"/>
<line x1="361.1" y1="343.2" x2="677.3" y2="343.2" stroke="#1a1a1a" stroke-width="1.6"/>
<text transform="translate(360.4 32.6) scale(0.73 1)" font-size="8.5" font-weight="bold" text-anchor="end" fill="#222">2</text>
<text transform="translate(360.4 108.3) scale(0.73 1)" font-size="8.5" font-weight="bold" text-anchor="end" fill="#222">1</text>
<text transform="translate(360.4 183.6) scale(0.73 1)" font-size="8.5" font-weight="bold" text-anchor="end" fill="#222">0</text>
<text transform="translate(360.4 259.1) scale(0.73 1)" font-size="8.5" font-weight="bold" text-anchor="end" fill="#222">-1</text>
<text transform="translate(360.4 335.1) scale(0.73 1)" font-size="8.5" font-weight="bold" text-anchor="end" fill="#222">-2</text>
<text transform="translate(375.8 353.4) scale(0.63 1)" font-size="8.5" font-weight="bold" text-anchor="middle" fill="#222">0</text>
<text transform="translate(506.4 353.4) scale(0.63 1)" font-size="8.5" font-weight="bold" text-anchor="middle" fill="#222">0.45</text>
<text transform="translate(551.8 353.4) scale(0.63 1)" font-size="8.5" font-weight="bold" text-anchor="middle" fill="#222">0.61</text>
<text transform="translate(574.7 353.4) scale(0.63 1)" font-size="8.5" font-weight="bold" text-anchor="middle" fill="#222">0.69</text>
<text transform="translate(605.8 353.4) scale(0.63 1)" font-size="8.5" font-weight="bold" text-anchor="middle" fill="#222">0.8</text>
<text transform="translate(662.0 353.4) scale(0.63 1)" font-size="8.5" font-weight="bold" text-anchor="middle" fill="#222">1</text>
<text transform="translate(521.0 369.3) scale(0.84 1)" font-size="14.2" font-weight="bold" text-anchor="middle">SDI</text>
<text transform="translate(351.0 168.5) rotate(-90) scale(1 1)" font-size="13.3" font-weight="bold" text-anchor="middle">EAPC</text>
<text transform="translate(343.9 14.0) scale(0.82 1)" font-size="20" font-weight="bold" fill="#000">b</text>
<text transform="translate(392.28 37.6) scale(0.656 1)" font-size="15.8" fill="#111" stroke="#111" stroke-width="0.85">R</text>
<text transform="translate(401.78 37.6) scale(0.713 1)" font-size="15.8" fill="#111" stroke="#111" stroke-width="0.85">=−</text>
<text transform="translate(416.91 37.6) scale(0.679 1)" font-size="15.8" fill="#111" stroke="#111" stroke-width="0.85">0.55,p</text>
<text transform="translate(447.48 37.6) scale(0.697 1)" font-size="15.8" fill="#111" stroke="#111" stroke-width="0.85"><</text>
<text transform="translate(454.47 37.6) scale(0.704 1)" font-size="15.8" fill="#111" stroke="#111" stroke-width="0.85">2.2e−16</text>
</g>
<g id="panel-c">
<line x1="35.5" y1="391.0" x2="35.5" y2="722.8" stroke="#eeeeee" stroke-width="1"/>
<line x1="165.5" y1="391.0" x2="165.5" y2="722.8" stroke="#eeeeee" stroke-width="1"/>
<line x1="211.5" y1="391.0" x2="211.5" y2="722.8" stroke="#eeeeee" stroke-width="1"/>
<line x1="234.5" y1="391.0" x2="234.5" y2="722.8" stroke="#eeeeee" stroke-width="1"/>
<line x1="266.5" y1="391.0" x2="266.5" y2="722.8" stroke="#eeeeee" stroke-width="1"/>
<line x1="323.5" y1="391.0" x2="323.5" y2="722.8" stroke="#eeeeee" stroke-width="1"/>
<line x1="21.5" y1="442.5" x2="337.8" y2="442.5" stroke="#eeeeee" stroke-width="1"/>
<line x1="21.5" y1="530.5" x2="337.8" y2="530.5" stroke="#eeeeee" stroke-width="1"/>
<line x1="21.5" y1="618.5" x2="337.8" y2="618.5" stroke="#eeeeee" stroke-width="1"/>
<line x1="21.5" y1="705.5" x2="337.8" y2="705.5" stroke="#eeeeee" stroke-width="1"/>
<ellipse cx="59.0" cy="614.9" rx="1.93" ry="3.25" fill="#646464" stroke="#0c0c0c" stroke-width="1.1"/>
<ellipse cx="82.1" cy="578.2" rx="1.18" ry="1.92" fill="#646464" stroke="#0c0c0c" stroke-width="0.9"/>
<ellipse cx="104.2" cy="572.4" rx="1.18" ry="1.92" fill="#646464" stroke="#0c0c0c" stroke-width="0.9"/>
<ellipse cx="111.5" cy="564.2" rx="1.18" ry="1.92" fill="#646464" stroke="#0c0c0c" stroke-width="0.9"/>
<ellipse cx="109.5" cy="510.2" rx="1.73" ry="2.76" fill="#646464" stroke="#0c0c0c" stroke-width="0.9"/>
<ellipse cx="114.5" cy="611.4" rx="2.76" ry="4.37" fill="#646464" stroke="#0c0c0c" stroke-width="1.1"/>
<ellipse cx="117.3" cy="627.2" rx="2.49" ry="3.81" fill="#646464" stroke="#0c0c0c" stroke-width="1.1"/>
<ellipse cx="124.1" cy="547.1" rx="3.04" ry="4.66" fill="#646464" stroke="#0c0c0c" stroke-width="1.1"/>
<ellipse cx="129.1" cy="569.9" rx="1.18" ry="1.92" fill="#646464" stroke="#0c0c0c" stroke-width="0.9"/>
<ellipse cx="134.4" cy="536.3" rx="1.35" ry="1.81" fill="#151515"/>
<ellipse cx="134.4" cy="569.2" rx="2.21" ry="3.53" fill="#646464" stroke="#0c0c0c" stroke-width="1.1"/>
<ellipse cx="137.1" cy="562.9" rx="1.18" ry="1.92" fill="#646464" stroke="#0c0c0c" stroke-width="0.9"/>
<ellipse cx="137.9" cy="559.9" rx="1.46" ry="2.20" fill="#646464" stroke="#0c0c0c" stroke-width="0.9"/>
<ellipse cx="142.4" cy="559.9" rx="1.18" ry="1.92" fill="#646464" stroke="#0c0c0c" stroke-width="0.9"/>
<ellipse cx="139.9" cy="604.8" rx="2.76" ry="4.37" fill="#646464" stroke="#0c0c0c" stroke-width="1.1"/>
<ellipse cx="145.4" cy="650.8" rx="3.59" ry="5.50" fill="#646464" stroke="#0c0c0c" stroke-width="1.1"/>
<ellipse cx="146.2" cy="580.5" rx="2.49" ry="3.81" fill="#646464" stroke="#0c0c0c" stroke-width="1.1"/>
<ellipse cx="149.7" cy="603.8" rx="3.04" ry="4.66" fill="#646464" stroke="#0c0c0c" stroke-width="1.1"/>
<ellipse cx="150.4" cy="548.6" rx="1.46" ry="2.48" fill="#646464" stroke="#0c0c0c" stroke-width="0.9"/>
<ellipse cx="149.7" cy="574.2" rx="2.76" ry="4.09" fill="#646464" stroke="#0c0c0c" stroke-width="1.1"/>
<ellipse cx="152.2" cy="572.4" rx="2.49" ry="3.81" fill="#646464" stroke="#0c0c0c" stroke-width="1.1"/>
<ellipse cx="147.9" cy="572.4" rx="1.46" ry="2.20" fill="#646464" stroke="#0c0c0c" stroke-width="0.9"/>
<ellipse cx="153.2" cy="580.5" rx="1.18" ry="1.92" fill="#646464" stroke="#0c0c0c" stroke-width="0.9"/>
<ellipse cx="155.7" cy="571.2" rx="1.18" ry="1.92" fill="#646464" stroke="#0c0c0c" stroke-width="0.9"/>
<ellipse cx="154.2" cy="522.0" rx="1.35" ry="1.81" fill="#151515"/>
<ellipse cx="157.2" cy="513.4" rx="1.46" ry="2.20" fill="#646464" stroke="#0c0c0c" stroke-width="0.9"/>
<ellipse cx="157.5" cy="585.5" rx="3.04" ry="4.66" fill="#646464" stroke="#0c0c0c" stroke-width="1.1"/>
<ellipse cx="159.0" cy="608.9" rx="2.49" ry="3.81" fill="#646464" stroke="#0c0c0c" stroke-width="1.1"/>
<ellipse cx="160.0" cy="615.6" rx="2.49" ry="3.81" fill="#646464" stroke="#0c0c0c" stroke-width="1.1"/>
<ellipse cx="164.8" cy="548.1" rx="1.46" ry="2.48" fill="#646464" stroke="#0c0c0c" stroke-width="0.9"/>
<ellipse cx="166.8" cy="497.9" rx="1.73" ry="2.76" fill="#646464" stroke="#0c0c0c" stroke-width="0.9"/>
<ellipse cx="166.8" cy="599.8" rx="2.49" ry="3.81" fill="#646464" stroke="#0c0c0c" stroke-width="1.1"/>
<ellipse cx="167.8" cy="575.7" rx="3.04" ry="4.66" fill="#646464" stroke="#0c0c0c" stroke-width="1.1"/>
<ellipse cx="170.5" cy="553.9" rx="1.35" ry="1.81" fill="#151515"/>
<ellipse cx="171.0" cy="562.2" rx="3.04" ry="4.66" fill="#646464" stroke="#0c0c0c" stroke-width="1.1"/>
<ellipse cx="172.8" cy="606.6" rx="1.08" ry="1.52" fill="#151515"/>
<ellipse cx="174.8" cy="495.1" rx="1.46" ry="2.48" fill="#646464" stroke="#0c0c0c" stroke-width="0.9"/>
<ellipse cx="175.3" cy="529.3" rx="1.18" ry="1.92" fill="#646464" stroke="#0c0c0c" stroke-width="0.9"/>
<ellipse cx="176.8" cy="548.1" rx="1.73" ry="2.76" fill="#646464" stroke="#0c0c0c" stroke-width="0.9"/>
<ellipse cx="176.8" cy="565.4" rx="1.35" ry="1.81" fill="#151515"/>
<ellipse cx="178.6" cy="583.7" rx="1.93" ry="3.25" fill="#646464" stroke="#0c0c0c" stroke-width="1.1"/>
<ellipse cx="180.8" cy="537.0" rx="3.04" ry="4.66" fill="#646464" stroke="#0c0c0c" stroke-width="1.1"/>
<ellipse cx="181.8" cy="525.7" rx="2.49" ry="3.81" fill="#646464" stroke="#0c0c0c" stroke-width="1.1"/>
<ellipse cx="183.1" cy="525.7" rx="1.18" ry="1.92" fill="#646464" stroke="#0c0c0c" stroke-width="0.9"/>
<ellipse cx="183.8" cy="519.7" rx="1.35" ry="1.81" fill="#151515"/>
<ellipse cx="182.1" cy="560.9" rx="3.04" ry="4.66" fill="#646464" stroke="#0c0c0c" stroke-width="1.1"/>
<ellipse cx="184.1" cy="588.0" rx="1.46" ry="2.20" fill="#646464" stroke="#0c0c0c" stroke-width="0.9"/>
<ellipse cx="185.6" cy="569.7" rx="1.18" ry="1.92" fill="#646464" stroke="#0c0c0c" stroke-width="0.9"/>
<ellipse cx="186.6" cy="540.6" rx="1.93" ry="2.97" fill="#646464" stroke="#0c0c0c" stroke-width="1.1"/>
<ellipse cx="187.1" cy="601.3" rx="1.08" ry="1.52" fill="#151515"/>
<ellipse cx="187.3" cy="607.6" rx="1.18" ry="1.92" fill="#646464" stroke="#0c0c0c" stroke-width="0.9"/>
<ellipse cx="190.9" cy="595.0" rx="1.08" ry="1.52" fill="#151515"/>
<ellipse cx="192.4" cy="566.2" rx="1.18" ry="1.92" fill="#646464" stroke="#0c0c0c" stroke-width="0.9"/>
<ellipse cx="193.4" cy="501.1" rx="1.18" ry="1.92" fill="#646464" stroke="#0c0c0c" stroke-width="0.9"/>
<ellipse cx="196.1" cy="611.9" rx="1.08" ry="1.52" fill="#151515"/>
<ellipse cx="195.9" cy="633.7" rx="1.35" ry="1.81" fill="#151515"/>
<ellipse cx="197.6" cy="556.6" rx="1.46" ry="2.20" fill="#646464" stroke="#0c0c0c" stroke-width="0.9"/>
<ellipse cx="199.2" cy="587.5" rx="3.59" ry="5.50" fill="#646464" stroke="#0c0c0c" stroke-width="1.1"/>
<ellipse cx="199.2" cy="563.7" rx="1.35" ry="1.81" fill="#151515"/>
<ellipse cx="202.7" cy="555.4" rx="1.46" ry="2.20" fill="#646464" stroke="#0c0c0c" stroke-width="0.9"/>
<ellipse cx="205.2" cy="579.5" rx="1.18" ry="1.92" fill="#646464" stroke="#0c0c0c" stroke-width="0.9"/>
<ellipse cx="204.9" cy="582.7" rx="1.08" ry="1.52" fill="#151515"/>
<ellipse cx="205.9" cy="529.5" rx="1.46" ry="2.20" fill="#646464" stroke="#0c0c0c" stroke-width="0.9"/>
<ellipse cx="207.2" cy="559.4" rx="1.73" ry="2.76" fill="#646464" stroke="#0c0c0c" stroke-width="0.9"/>
<ellipse cx="208.9" cy="567.9" rx="1.73" ry="2.76" fill="#646464" stroke="#0c0c0c" stroke-width="0.9"/>
<ellipse cx="210.4" cy="616.4" rx="1.73" ry="2.76" fill="#646464" stroke="#0c0c0c" stroke-width="0.9"/>
<ellipse cx="211.9" cy="580.7" rx="2.76" ry="4.37" fill="#646464" stroke="#0c0c0c" stroke-width="1.1"/>
<ellipse cx="213.4" cy="573.7" rx="2.49" ry="3.81" fill="#646464" stroke="#0c0c0c" stroke-width="1.1"/>
<ellipse cx="213.7" cy="601.3" rx="1.46" ry="2.20" fill="#646464" stroke="#0c0c0c" stroke-width="0.9"/>
<ellipse cx="213.9" cy="594.8" rx="1.08" ry="1.52" fill="#151515"/>
<ellipse cx="214.9" cy="560.4" rx="1.35" ry="1.81" fill="#151515"/>
<ellipse cx="215.7" cy="550.4" rx="1.46" ry="2.20" fill="#646464" stroke="#0c0c0c" stroke-width="0.9"/>
<ellipse cx="216.5" cy="567.4" rx="3.04" ry="4.66" fill="#646464" stroke="#0c0c0c" stroke-width="1.1"/>
<ellipse cx="217.2" cy="494.6" rx="1.18" ry="1.92" fill="#646464" stroke="#0c0c0c" stroke-width="0.9"/>
<ellipse cx="217.7" cy="611.1" rx="1.73" ry="2.76" fill="#646464" stroke="#0c0c0c" stroke-width="0.9"/>
<ellipse cx="218.0" cy="583.5" rx="2.21" ry="3.53" fill="#646464" stroke="#0c0c0c" stroke-width="1.1"/>
<ellipse cx="218.7" cy="574.5" rx="1.18" ry="1.92" fill="#646464" stroke="#0c0c0c" stroke-width="0.9"/>
<ellipse cx="219.5" cy="516.5" rx="1.35" ry="1.81" fill="#151515"/>
<ellipse cx="219.7" cy="601.8" rx="2.49" ry="3.81" fill="#646464" stroke="#0c0c0c" stroke-width="1.1"/>
<ellipse cx="220.7" cy="589.3" rx="1.18" ry="1.92" fill="#646464" stroke="#0c0c0c" stroke-width="0.9"/>
<ellipse cx="222.2" cy="624.4" rx="2.21" ry="3.53" fill="#646464" stroke="#0c0c0c" stroke-width="1.1"/>
<ellipse cx="224.0" cy="571.7" rx="3.59" ry="5.50" fill="#646464" stroke="#0c0c0c" stroke-width="1.1"/>
<ellipse cx="223.5" cy="546.1" rx="1.18" ry="1.92" fill="#646464" stroke="#0c0c0c" stroke-width="0.9"/>
<ellipse cx="225.2" cy="519.5" rx="1.35" ry="1.81" fill="#151515"/>
<ellipse cx="225.7" cy="543.3" rx="1.46" ry="2.20" fill="#646464" stroke="#0c0c0c" stroke-width="0.9"/>
<ellipse cx="228.3" cy="545.3" rx="1.18" ry="1.92" fill="#646464" stroke="#0c0c0c" stroke-width="0.9"/>
<ellipse cx="228.5" cy="472.5" rx="1.18" ry="1.92" fill="#646464" stroke="#0c0c0c" stroke-width="0.9"/>
<ellipse cx="229.3" cy="523.5" rx="1.35" ry="1.81" fill="#151515"/>
<ellipse cx="231.5" cy="527.8" rx="1.35" ry="1.81" fill="#151515"/>
<ellipse cx="232.3" cy="532.0" rx="1.08" ry="1.52" fill="#151515"/>
<ellipse cx="233.0" cy="492.1" rx="3.87" ry="5.78" fill="#646464" stroke="#0c0c0c" stroke-width="1.1"/>
<ellipse cx="235.8" cy="525.2" rx="1.73" ry="2.76" fill="#646464" stroke="#0c0c0c" stroke-width="0.9"/>
<ellipse cx="234.3" cy="555.9" rx="1.35" ry="1.81" fill="#151515"/>
<ellipse cx="228.0" cy="583.7" rx="3.59" ry="5.50" fill="#646464" stroke="#0c0c0c" stroke-width="1.1"/>
<ellipse cx="232.8" cy="585.5" rx="3.04" ry="4.66" fill="#646464" stroke="#0c0c0c" stroke-width="1.1"/>
<ellipse cx="229.8" cy="567.9" rx="3.32" ry="4.94" fill="#646464" stroke="#0c0c0c" stroke-width="1.1"/>
<ellipse cx="228.5" cy="593.8" rx="1.35" ry="1.81" fill="#151515"/>
<ellipse cx="233.0" cy="596.3" rx="1.35" ry="1.81" fill="#151515"/>
<ellipse cx="233.5" cy="602.3" rx="2.21" ry="3.53" fill="#646464" stroke="#0c0c0c" stroke-width="1.1"/>
<ellipse cx="228.5" cy="610.6" rx="4.14" ry="6.34" fill="#646464" stroke="#0c0c0c" stroke-width="1.1"/>
<ellipse cx="234.3" cy="614.9" rx="1.18" ry="1.92" fill="#646464" stroke="#0c0c0c" stroke-width="0.9"/>
<ellipse cx="233.5" cy="620.9" rx="0.80" ry="1.24" fill="#151515"/>
<ellipse cx="236.0" cy="591.5" rx="1.08" ry="1.52" fill="#151515"/>
<ellipse cx="238.5" cy="560.4" rx="1.18" ry="1.92" fill="#646464" stroke="#0c0c0c" stroke-width="0.9"/>
<ellipse cx="239.6" cy="580.7" rx="1.46" ry="2.48" fill="#646464" stroke="#0c0c0c" stroke-width="0.9"/>
<ellipse cx="239.6" cy="508.9" rx="1.35" ry="1.81" fill="#151515"/>
<ellipse cx="239.6" cy="534.0" rx="1.18" ry="1.92" fill="#646464" stroke="#0c0c0c" stroke-width="0.9"/>
<ellipse cx="240.8" cy="519.5" rx="1.18" ry="1.92" fill="#646464" stroke="#0c0c0c" stroke-width="0.9"/>
<ellipse cx="242.3" cy="542.3" rx="1.46" ry="2.48" fill="#646464" stroke="#0c0c0c" stroke-width="0.9"/>
<ellipse cx="247.8" cy="536.5" rx="1.35" ry="1.81" fill="#151515"/>
<ellipse cx="240.3" cy="566.7" rx="1.35" ry="1.81" fill="#151515"/>
<ellipse cx="245.3" cy="567.9" rx="2.21" ry="3.53" fill="#646464" stroke="#0c0c0c" stroke-width="1.1"/>
<ellipse cx="250.4" cy="567.9" rx="4.42" ry="6.62" fill="#646464" stroke="#0c0c0c" stroke-width="1.1"/>
<ellipse cx="249.6" cy="575.5" rx="2.76" ry="4.09" fill="#646464" stroke="#0c0c0c" stroke-width="1.1"/>
<ellipse cx="250.1" cy="552.1" rx="2.21" ry="3.53" fill="#646464" stroke="#0c0c0c" stroke-width="1.1"/>
<ellipse cx="254.1" cy="557.1" rx="2.49" ry="3.81" fill="#646464" stroke="#0c0c0c" stroke-width="1.1"/>
<ellipse cx="255.6" cy="565.2" rx="1.18" ry="1.92" fill="#646464" stroke="#0c0c0c" stroke-width="0.9"/>
<ellipse cx="247.3" cy="589.3" rx="3.87" ry="6.06" fill="#646464" stroke="#0c0c0c" stroke-width="1.1"/>
<ellipse cx="248.6" cy="595.0" rx="4.14" ry="6.34" fill="#646464" stroke="#0c0c0c" stroke-width="1.1"/>
<ellipse cx="254.6" cy="597.3" rx="3.04" ry="4.66" fill="#646464" stroke="#0c0c0c" stroke-width="1.1"/>
<ellipse cx="253.6" cy="603.1" rx="1.93" ry="2.97" fill="#646464" stroke="#0c0c0c" stroke-width="1.1"/>
<ellipse cx="255.6" cy="610.6" rx="1.73" ry="2.76" fill="#646464" stroke="#0c0c0c" stroke-width="0.9"/>
<ellipse cx="249.6" cy="615.1" rx="3.32" ry="4.94" fill="#646464" stroke="#0c0c0c" stroke-width="1.1"/>
<ellipse cx="250.9" cy="621.2" rx="2.21" ry="3.53" fill="#646464" stroke="#0c0c0c" stroke-width="1.1"/>
<ellipse cx="256.4" cy="624.9" rx="2.76" ry="4.09" fill="#646464" stroke="#0c0c0c" stroke-width="1.1"/>
<ellipse cx="257.6" cy="507.7" rx="1.73" ry="2.76" fill="#646464" stroke="#0c0c0c" stroke-width="0.9"/>
<ellipse cx="261.1" cy="499.6" rx="1.46" ry="2.20" fill="#646464" stroke="#0c0c0c" stroke-width="0.9"/>
<ellipse cx="265.7" cy="552.4" rx="4.14" ry="6.34" fill="#646464" stroke="#0c0c0c" stroke-width="1.1"/>
<ellipse cx="266.7" cy="559.9" rx="2.49" ry="3.81" fill="#646464" stroke="#0c0c0c" stroke-width="1.1"/>
<ellipse cx="269.7" cy="559.6" rx="1.35" ry="1.81" fill="#151515"/>
<ellipse cx="264.4" cy="585.5" rx="2.49" ry="3.81" fill="#646464" stroke="#0c0c0c" stroke-width="1.1"/>
<ellipse cx="267.4" cy="591.0" rx="4.14" ry="6.34" fill="#646464" stroke="#0c0c0c" stroke-width="1.1"/>
<ellipse cx="266.9" cy="599.3" rx="3.32" ry="4.94" fill="#646464" stroke="#0c0c0c" stroke-width="1.1"/>
<ellipse cx="263.2" cy="603.1" rx="1.93" ry="2.97" fill="#646464" stroke="#0c0c0c" stroke-width="1.1"/>
<ellipse cx="266.2" cy="607.6" rx="3.04" ry="4.66" fill="#646464" stroke="#0c0c0c" stroke-width="1.1"/>
<ellipse cx="263.4" cy="617.4" rx="4.14" ry="6.34" fill="#646464" stroke="#0c0c0c" stroke-width="1.1"/>
<ellipse cx="269.7" cy="623.2" rx="3.59" ry="5.50" fill="#646464" stroke="#0c0c0c" stroke-width="1.1"/>
<ellipse cx="266.2" cy="633.2" rx="3.04" ry="4.66" fill="#646464" stroke="#0c0c0c" stroke-width="1.1"/>
<ellipse cx="274.7" cy="482.1" rx="2.49" ry="3.81" fill="#646464" stroke="#0c0c0c" stroke-width="1.1"/>
<ellipse cx="276.0" cy="499.6" rx="1.18" ry="1.92" fill="#646464" stroke="#0c0c0c" stroke-width="0.9"/>
<ellipse cx="277.7" cy="537.3" rx="1.35" ry="1.81" fill="#151515"/>
<ellipse cx="278.2" cy="548.1" rx="2.21" ry="3.53" fill="#646464" stroke="#0c0c0c" stroke-width="1.1"/>
<ellipse cx="280.5" cy="552.9" rx="1.08" ry="1.52" fill="#151515"/>
<ellipse cx="271.7" cy="591.8" rx="1.93" ry="2.97" fill="#646464" stroke="#0c0c0c" stroke-width="1.1"/>
<ellipse cx="274.2" cy="613.9" rx="2.76" ry="4.37" fill="#646464" stroke="#0c0c0c" stroke-width="1.1"/>
<ellipse cx="275.7" cy="624.9" rx="1.73" ry="2.76" fill="#646464" stroke="#0c0c0c" stroke-width="0.9"/>
<ellipse cx="278.0" cy="600.6" rx="3.04" ry="4.66" fill="#646464" stroke="#0c0c0c" stroke-width="1.1"/>
<ellipse cx="276.7" cy="605.6" rx="2.76" ry="4.09" fill="#646464" stroke="#0c0c0c" stroke-width="1.1"/>
<ellipse cx="279.7" cy="592.5" rx="3.32" ry="4.94" fill="#646464" stroke="#0c0c0c" stroke-width="1.1"/>
<ellipse cx="280.7" cy="605.1" rx="2.49" ry="3.81" fill="#646464" stroke="#0c0c0c" stroke-width="1.1"/>
<ellipse cx="283.0" cy="585.0" rx="3.32" ry="4.94" fill="#646464" stroke="#0c0c0c" stroke-width="1.1"/>
<ellipse cx="283.5" cy="576.2" rx="1.46" ry="2.48" fill="#646464" stroke="#0c0c0c" stroke-width="0.9"/>
<ellipse cx="289.0" cy="552.9" rx="1.46" ry="2.20" fill="#646464" stroke="#0c0c0c" stroke-width="0.9"/>
<ellipse cx="290.3" cy="577.5" rx="2.21" ry="3.53" fill="#646464" stroke="#0c0c0c" stroke-width="1.1"/>
<ellipse cx="285.5" cy="608.6" rx="1.93" ry="2.97" fill="#646464" stroke="#0c0c0c" stroke-width="1.1"/>
<ellipse cx="284.8" cy="621.9" rx="3.32" ry="4.94" fill="#646464" stroke="#0c0c0c" stroke-width="1.1"/>
<ellipse cx="287.0" cy="618.1" rx="2.21" ry="3.53" fill="#646464" stroke="#0c0c0c" stroke-width="1.1"/>
<ellipse cx="290.0" cy="607.6" rx="3.32" ry="5.22" fill="#646464" stroke="#0c0c0c" stroke-width="1.1"/>
<ellipse cx="292.3" cy="620.7" rx="3.04" ry="4.66" fill="#646464" stroke="#0c0c0c" stroke-width="1.1"/>
<ellipse cx="293.0" cy="537.0" rx="2.76" ry="4.37" fill="#646464" stroke="#0c0c0c" stroke-width="1.1"/>
<ellipse cx="294.3" cy="595.0" rx="3.87" ry="5.78" fill="#646464" stroke="#0c0c0c" stroke-width="1.1"/>
<ellipse cx="298.6" cy="624.9" rx="1.93" ry="3.25" fill="#646464" stroke="#0c0c0c" stroke-width="1.1"/>
<ellipse cx="303.1" cy="623.7" rx="2.21" ry="3.53" fill="#646464" stroke="#0c0c0c" stroke-width="1.1"/>
<ellipse cx="269.4" cy="406.1" rx="2.49" ry="3.81" fill="#646464" stroke="#0c0c0c" stroke-width="1.1"/>
<ellipse cx="256.4" cy="448.8" rx="2.21" ry="3.53" fill="#646464" stroke="#0c0c0c" stroke-width="1.1"/>
<ellipse cx="271.7" cy="449.8" rx="1.73" ry="2.76" fill="#646464" stroke="#0c0c0c" stroke-width="0.9"/>
<ellipse cx="219.5" cy="463.1" rx="1.73" ry="2.76" fill="#646464" stroke="#0c0c0c" stroke-width="0.9"/>
<ellipse cx="254.9" cy="673.5" rx="3.87" ry="5.78" fill="#646464" stroke="#0c0c0c" stroke-width="1.1"/>
<ellipse cx="277.5" cy="681.5" rx="2.21" ry="3.53" fill="#646464" stroke="#0c0c0c" stroke-width="1.1"/>
<ellipse cx="288.3" cy="707.9" rx="1.18" ry="1.92" fill="#646464" stroke="#0c0c0c" stroke-width="0.9"/>
<path d="M59.0 531.6 C59.4 531.9 60.4 532.9 61.1 533.6 C61.8 534.3 62.5 535.1 63.1 535.9 C63.8 536.6 64.5 537.3 65.2 537.9 C65.9 538.6 66.6 539.3 67.2 539.9 C67.9 540.5 68.6 541.2 69.3 541.7 C70.0 542.3 70.7 542.8 71.4 543.3 C72.0 543.8 72.7 544.3 73.4 544.8 C74.1 545.3 74.8 545.7 75.5 546.2 C76.1 546.6 76.8 547.0 77.5 547.4 C78.2 547.8 78.9 548.2 79.6 548.6 C80.2 549.0 80.9 549.4 81.6 549.8 C82.3 550.1 83.0 550.5 83.7 550.8 C84.4 551.1 85.0 551.5 85.7 551.8 C86.4 552.1 87.1 552.4 87.8 552.7 C88.5 552.9 89.1 553.2 89.8 553.4 C90.5 553.7 91.2 553.9 91.9 554.1 C92.6 554.3 93.2 554.5 93.9 554.7 C94.6 554.9 95.3 555.1 96.0 555.3 C96.7 555.5 97.4 555.7 98.0 555.8 C98.7 556.0 99.4 556.1 100.1 556.3 C100.8 556.4 101.5 556.5 102.1 556.6 C102.8 556.7 103.5 556.8 104.2 556.9 C104.9 557.0 105.6 557.1 106.2 557.2 C106.9 557.3 107.6 557.4 108.3 557.5 C109.0 557.6 109.7 557.6 110.4 557.7 C111.0 557.8 111.7 557.8 112.4 557.9 C113.1 557.9 113.8 558.0 114.5 558.0 C115.1 558.1 115.8 558.1 116.5 558.1 C117.2 558.2 117.9 558.2 118.6 558.2 C119.2 558.2 119.9 558.2 120.6 558.2 C121.3 558.2 122.0 558.2 122.7 558.2 C123.4 558.2 124.0 558.2 124.7 558.2 C125.4 558.2 126.1 558.2 126.8 558.2 C127.5 558.2 128.1 558.2 128.8 558.1 C129.5 558.1 130.2 558.0 130.9 558.0 C131.6 557.9 132.2 557.8 132.9 557.8 C133.6 557.7 134.3 557.6 135.0 557.6 C135.7 557.5 136.4 557.5 137.0 557.4 C137.7 557.4 138.4 557.3 139.1 557.2 C139.8 557.2 140.5 557.2 141.1 557.1 C141.8 557.1 142.5 557.0 143.2 557.0 C143.9 557.0 144.6 556.9 145.2 556.9 C145.9 556.8 146.6 556.8 147.3 556.8 C148.0 556.7 148.7 556.7 149.4 556.6 C150.0 556.6 150.7 556.5 151.4 556.4 C152.1 556.4 152.8 556.3 153.5 556.2 C154.1 556.2 154.8 556.1 155.5 556.0 C156.2 556.0 156.9 555.9 157.6 555.9 C158.2 555.8 158.9 555.8 159.6 555.7 C160.3 555.7 161.0 555.7 161.7 555.7 C162.4 555.7 163.0 555.6 163.7 555.6 C164.4 555.6 165.1 555.6 165.8 555.6 C166.5 555.6 167.1 555.6 167.8 555.6 C168.5 555.6 169.2 555.6 169.9 555.5 C170.6 555.5 171.2 555.5 171.9 555.4 C172.6 555.4 173.3 555.4 174.0 555.3 C174.7 555.3 175.4 555.3 176.0 555.3 C176.7 555.2 177.4 555.2 178.1 555.2 C178.8 555.2 179.5 555.2 180.1 555.2 C180.8 555.1 181.5 555.1 182.2 555.1 C182.9 555.1 183.6 555.1 184.2 555.1 C184.9 555.1 185.6 555.1 186.3 555.1 C187.0 555.1 187.7 555.1 188.4 555.2 C189.0 555.2 189.7 555.2 190.4 555.2 C191.1 555.2 191.8 555.3 192.5 555.3 C193.1 555.3 193.8 555.3 194.5 555.4 C195.2 555.4 195.9 555.5 196.6 555.5 C197.2 555.5 197.9 555.6 198.6 555.6 C199.3 555.7 200.0 555.7 200.7 555.7 C201.4 555.7 202.0 555.7 202.7 555.7 C203.4 555.7 204.1 555.8 204.8 555.8 C205.5 555.8 206.1 555.8 206.8 555.9 C207.5 555.9 208.2 555.9 208.9 556.0 C209.6 556.0 210.2 556.1 210.9 556.1 C211.6 556.2 212.3 556.2 213.0 556.3 C213.7 556.3 214.4 556.4 215.0 556.4 C215.7 556.5 216.4 556.6 217.1 556.7 C217.8 556.7 218.5 556.8 219.1 556.9 C219.8 557.0 220.5 557.1 221.2 557.2 C221.9 557.4 222.6 557.5 223.2 557.6 C223.9 557.7 224.6 557.8 225.3 557.9 C226.0 558.1 226.7 558.2 227.4 558.3 C228.0 558.5 228.7 558.6 229.4 558.8 C230.1 558.9 230.8 559.1 231.5 559.2 C232.1 559.4 232.8 559.5 233.5 559.7 C234.2 559.9 234.9 560.0 235.6 560.2 C236.2 560.4 236.9 560.6 237.6 560.8 C238.3 561.0 239.0 561.1 239.7 561.3 C240.4 561.5 241.0 561.7 241.7 562.0 C242.4 562.2 243.1 562.4 243.8 562.6 C244.5 562.8 245.1 563.0 245.8 563.3 C246.5 563.5 247.2 563.7 247.9 564.0 C248.6 564.2 249.2 564.5 249.9 564.7 C250.6 565.0 251.3 565.2 252.0 565.5 C252.7 565.8 253.4 566.0 254.0 566.3 C254.7 566.5 255.4 566.8 256.1 567.1 C256.8 567.3 257.5 567.6 258.1 567.9 C258.8 568.2 259.5 568.5 260.2 568.7 C260.9 569.0 261.6 569.3 262.2 569.6 C262.9 570.0 263.6 570.3 264.3 570.6 C265.0 570.9 265.7 571.2 266.4 571.6 C267.0 571.9 267.7 572.2 268.4 572.6 C269.1 572.9 269.8 573.3 270.5 573.5 C271.1 573.8 271.8 574.1 272.5 574.3 C273.2 574.6 273.9 574.9 274.6 575.2 C275.2 575.4 275.9 575.7 276.6 576.0 C277.3 576.3 278.0 576.6 278.7 576.9 C279.4 577.2 280.0 577.5 280.7 577.8 C281.4 578.1 282.1 578.4 282.8 578.7 C283.5 579.0 284.1 579.3 284.8 579.6 C285.5 579.9 286.2 580.3 286.9 580.6 C287.6 580.8 288.2 581.1 288.9 581.3 C289.6 581.6 290.3 581.7 291.0 582.0 C291.7 582.2 292.4 582.4 293.0 582.6 C293.7 582.8 294.4 583.0 295.1 583.2 C295.8 583.4 296.5 583.5 297.1 583.7 C297.8 583.9 298.5 584.1 299.2 584.2 C299.9 584.4 300.6 584.6 301.2 584.7 C301.9 584.9 303.0 585.1 303.3 585.2 L303.3 629.2 C303.0 628.6 301.9 627.0 301.2 626.0 C300.6 625.0 299.9 623.9 299.2 622.9 C298.5 621.9 297.8 621.0 297.1 620.0 C296.5 619.0 295.8 618.1 295.1 617.2 C294.4 616.3 293.7 615.4 293.0 614.5 C292.4 613.6 291.7 612.8 291.0 611.9 C290.3 611.1 289.6 610.2 288.9 609.5 C288.2 608.7 287.6 607.9 286.9 607.2 C286.2 606.5 285.5 605.8 284.8 605.2 C284.1 604.5 283.5 603.9 282.8 603.3 C282.1 602.6 281.4 602.0 280.7 601.4 C280.0 600.8 279.4 600.2 278.7 599.6 C278.0 599.0 277.3 598.4 276.6 597.8 C275.9 597.3 275.2 596.7 274.6 596.1 C273.9 595.6 273.2 595.0 272.5 594.5 C271.8 594.0 271.1 593.4 270.5 592.9 C269.8 592.4 269.1 592.0 268.4 591.6 C267.7 591.2 267.0 590.8 266.4 590.4 C265.7 590.0 265.0 589.6 264.3 589.2 C263.6 588.8 262.9 588.4 262.2 588.1 C261.6 587.7 260.9 587.3 260.2 586.9 C259.5 586.6 258.8 586.2 258.1 585.9 C257.5 585.5 256.8 585.2 256.1 584.8 C255.4 584.5 254.7 584.2 254.0 583.9 C253.4 583.5 252.7 583.2 252.0 582.9 C251.3 582.6 250.6 582.3 249.9 582.0 C249.2 581.7 248.6 581.5 247.9 581.2 C247.2 580.9 246.5 580.6 245.8 580.4 C245.1 580.1 244.5 579.9 243.8 579.6 C243.1 579.4 242.4 579.1 241.7 578.9 C241.0 578.6 240.4 578.4 239.7 578.2 C239.0 577.9 238.3 577.7 237.6 577.5 C236.9 577.3 236.2 577.1 235.6 576.8 C234.9 576.6 234.2 576.4 233.5 576.2 C232.8 576.0 232.1 575.8 231.5 575.7 C230.8 575.5 230.1 575.3 229.4 575.1 C228.7 574.9 228.0 574.8 227.4 574.6 C226.7 574.4 226.0 574.3 225.3 574.1 C224.6 574.0 223.9 573.8 223.2 573.7 C222.6 573.5 221.9 573.4 221.2 573.2 C220.5 573.1 219.8 573.0 219.1 572.8 C218.5 572.7 217.8 572.6 217.1 572.5 C216.4 572.3 215.7 572.2 215.0 572.1 C214.4 572.0 213.7 571.9 213.0 571.7 C212.3 571.6 211.6 571.5 210.9 571.4 C210.2 571.3 209.6 571.2 208.9 571.1 C208.2 571.0 207.5 570.9 206.8 570.9 C206.1 570.8 205.5 570.7 204.8 570.6 C204.1 570.5 203.4 570.5 202.7 570.4 C202.0 570.3 201.4 570.3 200.7 570.2 C200.0 570.2 199.3 570.1 198.6 570.1 C197.9 570.1 197.2 570.1 196.6 570.1 C195.9 570.1 195.2 570.1 194.5 570.1 C193.8 570.1 193.1 570.2 192.5 570.2 C191.8 570.2 191.1 570.2 190.4 570.3 C189.7 570.3 189.0 570.3 188.4 570.4 C187.7 570.4 187.0 570.5 186.3 570.5 C185.6 570.6 184.9 570.6 184.2 570.7 C183.6 570.7 182.9 570.8 182.2 570.9 C181.5 570.9 180.8 571.0 180.1 571.1 C179.5 571.1 178.8 571.2 178.1 571.3 C177.4 571.4 176.7 571.5 176.0 571.6 C175.4 571.6 174.7 571.7 174.0 571.8 C173.3 571.9 172.6 572.0 171.9 572.1 C171.2 572.2 170.6 572.3 169.9 572.5 C169.2 572.6 168.5 572.7 167.8 572.9 C167.1 573.0 166.5 573.2 165.8 573.4 C165.1 573.5 164.4 573.7 163.7 573.9 C163.0 574.0 162.4 574.2 161.7 574.4 C161.0 574.6 160.3 574.8 159.6 575.0 C158.9 575.1 158.2 575.3 157.6 575.5 C156.9 575.6 156.2 575.8 155.5 576.0 C154.8 576.1 154.1 576.3 153.5 576.5 C152.8 576.7 152.1 576.8 151.4 577.0 C150.7 577.2 150.0 577.4 149.4 577.6 C148.7 577.8 148.0 578.0 147.3 578.2 C146.6 578.5 145.9 578.7 145.2 579.0 C144.6 579.2 143.9 579.4 143.2 579.7 C142.5 579.9 141.8 580.2 141.1 580.4 C140.5 580.7 139.8 581.0 139.1 581.2 C138.4 581.5 137.7 581.7 137.0 582.0 C136.4 582.2 135.7 582.5 135.0 582.8 C134.3 583.0 133.6 583.3 132.9 583.5 C132.2 583.8 131.6 584.1 130.9 584.4 C130.2 584.6 129.5 584.9 128.8 585.2 C128.1 585.5 127.5 585.9 126.8 586.2 C126.1 586.5 125.4 586.9 124.7 587.2 C124.0 587.6 123.4 587.9 122.7 588.3 C122.0 588.6 121.3 589.0 120.6 589.4 C119.9 589.7 119.2 590.1 118.6 590.5 C117.9 590.9 117.2 591.3 116.5 591.7 C115.8 592.2 115.1 592.6 114.5 593.0 C113.8 593.4 113.1 593.9 112.4 594.3 C111.7 594.8 111.0 595.2 110.4 595.7 C109.7 596.1 109.0 596.6 108.3 597.1 C107.6 597.5 106.9 598.0 106.2 598.5 C105.6 599.0 104.9 599.5 104.2 600.0 C103.5 600.5 102.8 601.1 102.1 601.6 C101.5 602.1 100.8 602.6 100.1 603.2 C99.4 603.7 98.7 604.3 98.0 604.9 C97.4 605.4 96.7 606.0 96.0 606.7 C95.3 607.3 94.6 607.9 93.9 608.5 C93.2 609.1 92.6 609.7 91.9 610.4 C91.2 611.0 90.5 611.7 89.8 612.3 C89.1 613.0 88.5 613.7 87.8 614.4 C87.1 615.1 86.4 615.9 85.7 616.6 C85.0 617.3 84.4 618.1 83.7 618.9 C83.0 619.6 82.3 620.4 81.6 621.2 C80.9 622.0 80.2 622.8 79.6 623.6 C78.9 624.4 78.2 625.3 77.5 626.1 C76.8 627.0 76.1 627.8 75.5 628.7 C74.8 629.6 74.1 630.5 73.4 631.4 C72.7 632.3 72.0 633.2 71.4 634.2 C70.7 635.1 70.0 636.0 69.3 637.0 C68.6 638.0 67.9 639.1 67.2 640.2 C66.6 641.2 65.9 642.3 65.2 643.4 C64.5 644.5 63.8 645.6 63.1 646.8 C62.5 647.9 61.8 649.2 61.1 650.3 C60.4 651.5 59.4 653.1 59.0 653.6 Z" fill="#999999" fill-opacity="0.4"/>
<path d="M59.0 592.6 C59.4 592.5 60.4 592.2 61.1 592.0 C61.8 591.8 62.5 591.5 63.1 591.3 C63.8 591.1 64.5 590.9 65.2 590.7 C65.9 590.5 66.6 590.2 67.2 590.0 C67.9 589.8 68.6 589.6 69.3 589.4 C70.0 589.2 70.7 588.9 71.4 588.7 C72.0 588.5 72.7 588.3 73.4 588.1 C74.1 587.9 74.8 587.6 75.5 587.4 C76.1 587.2 76.8 587.0 77.5 586.8 C78.2 586.6 78.9 586.3 79.6 586.1 C80.2 585.9 80.9 585.7 81.6 585.5 C82.3 585.3 83.0 585.0 83.7 584.8 C84.4 584.6 85.0 584.4 85.7 584.2 C86.4 584.0 87.1 583.8 87.8 583.5 C88.5 583.3 89.1 583.1 89.8 582.9 C90.5 582.7 91.2 582.5 91.9 582.3 C92.6 582.0 93.2 581.8 93.9 581.6 C94.6 581.4 95.3 581.2 96.0 581.0 C96.7 580.8 97.4 580.6 98.0 580.4 C98.7 580.1 99.4 579.9 100.1 579.7 C100.8 579.5 101.5 579.3 102.1 579.1 C102.8 578.9 103.5 578.7 104.2 578.5 C104.9 578.3 105.6 578.1 106.2 577.9 C106.9 577.7 107.6 577.5 108.3 577.3 C109.0 577.1 109.7 576.9 110.4 576.7 C111.0 576.5 111.7 576.3 112.4 576.1 C113.1 575.9 113.8 575.7 114.5 575.5 C115.1 575.3 115.8 575.1 116.5 574.9 C117.2 574.7 117.9 574.6 118.6 574.4 C119.2 574.2 119.9 574.0 120.6 573.8 C121.3 573.6 122.0 573.4 122.7 573.3 C123.4 573.1 124.0 572.9 124.7 572.7 C125.4 572.5 126.1 572.4 126.8 572.2 C127.5 572.0 128.1 571.8 128.8 571.7 C129.5 571.5 130.2 571.3 130.9 571.2 C131.6 571.0 132.2 570.8 132.9 570.7 C133.6 570.5 134.3 570.3 135.0 570.2 C135.7 570.0 136.4 569.9 137.0 569.7 C137.7 569.5 138.4 569.4 139.1 569.2 C139.8 569.1 140.5 568.9 141.1 568.8 C141.8 568.6 142.5 568.5 143.2 568.3 C143.9 568.2 144.6 568.1 145.2 567.9 C145.9 567.8 146.6 567.6 147.3 567.5 C148.0 567.4 148.7 567.2 149.4 567.1 C150.0 567.0 150.7 566.8 151.4 566.7 C152.1 566.6 152.8 566.5 153.5 566.4 C154.1 566.2 154.8 566.1 155.5 566.0 C156.2 565.9 156.9 565.8 157.6 565.7 C158.2 565.6 158.9 565.4 159.6 565.3 C160.3 565.2 161.0 565.1 161.7 565.0 C162.4 564.9 163.0 564.8 163.7 564.8 C164.4 564.7 165.1 564.6 165.8 564.5 C166.5 564.4 167.1 564.3 167.8 564.2 C168.5 564.1 169.2 564.1 169.9 564.0 C170.6 563.9 171.2 563.8 171.9 563.8 C172.6 563.7 173.3 563.6 174.0 563.6 C174.7 563.5 175.4 563.5 176.0 563.4 C176.7 563.4 177.4 563.3 178.1 563.3 C178.8 563.2 179.5 563.2 180.1 563.1 C180.8 563.1 181.5 563.0 182.2 563.0 C182.9 563.0 183.6 562.9 184.2 562.9 C184.9 562.9 185.6 562.8 186.3 562.8 C187.0 562.8 187.7 562.8 188.4 562.8 C189.0 562.8 189.7 562.8 190.4 562.7 C191.1 562.7 191.8 562.7 192.5 562.7 C193.1 562.7 193.8 562.7 194.5 562.8 C195.2 562.8 195.9 562.8 196.6 562.8 C197.2 562.8 197.9 562.8 198.6 562.9 C199.3 562.9 200.0 562.9 200.7 562.9 C201.4 563.0 202.0 563.0 202.7 563.1 C203.4 563.1 204.1 563.1 204.8 563.2 C205.5 563.2 206.1 563.3 206.8 563.4 C207.5 563.4 208.2 563.5 208.9 563.5 C209.6 563.6 210.2 563.7 210.9 563.8 C211.6 563.8 212.3 563.9 213.0 564.0 C213.7 564.1 214.4 564.2 215.0 564.3 C215.7 564.4 216.4 564.5 217.1 564.6 C217.8 564.7 218.5 564.8 219.1 564.9 C219.8 565.0 220.5 565.1 221.2 565.2 C221.9 565.4 222.6 565.5 223.2 565.6 C223.9 565.8 224.6 565.9 225.3 566.0 C226.0 566.2 226.7 566.3 227.4 566.5 C228.0 566.6 228.7 566.8 229.4 566.9 C230.1 567.1 230.8 567.3 231.5 567.4 C232.1 567.6 232.8 567.8 233.5 568.0 C234.2 568.2 234.9 568.3 235.6 568.5 C236.2 568.7 236.9 568.9 237.6 569.1 C238.3 569.3 239.0 569.5 239.7 569.8 C240.4 570.0 241.0 570.2 241.7 570.4 C242.4 570.6 243.1 570.9 243.8 571.1 C244.5 571.3 245.1 571.6 245.8 571.8 C246.5 572.1 247.2 572.3 247.9 572.6 C248.6 572.8 249.2 573.1 249.9 573.4 C250.6 573.6 251.3 573.9 252.0 574.2 C252.7 574.5 253.4 574.8 254.0 575.1 C254.7 575.3 255.4 575.6 256.1 575.9 C256.8 576.3 257.5 576.6 258.1 576.9 C258.8 577.2 259.5 577.5 260.2 577.8 C260.9 578.2 261.6 578.5 262.2 578.8 C262.9 579.2 263.6 579.5 264.3 579.9 C265.0 580.2 265.7 580.6 266.4 581.0 C267.0 581.3 267.7 581.7 268.4 582.1 C269.1 582.5 269.8 582.8 270.5 583.2 C271.1 583.6 271.8 584.0 272.5 584.4 C273.2 584.8 273.9 585.2 274.6 585.7 C275.2 586.1 275.9 586.5 276.6 586.9 C277.3 587.4 278.0 587.8 278.7 588.2 C279.4 588.7 280.0 589.1 280.7 589.6 C281.4 590.0 282.1 590.5 282.8 591.0 C283.5 591.4 284.1 591.9 284.8 592.4 C285.5 592.9 286.2 593.4 286.9 593.9 C287.6 594.4 288.2 594.9 288.9 595.4 C289.6 595.9 290.3 596.4 291.0 596.9 C291.7 597.5 292.4 598.0 293.0 598.5 C293.7 599.1 294.4 599.6 295.1 600.2 C295.8 600.7 296.5 601.3 297.1 601.9 C297.8 602.4 298.5 603.0 299.2 603.6 C299.9 604.2 300.6 604.8 301.2 605.4 C301.9 606.0 303.0 606.9 303.3 607.2" fill="none" stroke="#0d0d0d" stroke-width="2.9" stroke-linecap="butt"/>
<line x1="21.5" y1="391.0" x2="21.5" y2="723.6" stroke="#1a1a1a" stroke-width="1.9"/>
<line x1="17.6" y1="722.8" x2="334.8" y2="722.8" stroke="#1a1a1a" stroke-width="1.6"/>
<text transform="translate(18.4 445.4) scale(0.73 1)" font-size="8.5" font-weight="bold" text-anchor="end" fill="#222">5.0</text>
<text transform="translate(18.4 533.3) scale(0.73 1)" font-size="8.5" font-weight="bold" text-anchor="end" fill="#222">2.5</text>
<text transform="translate(18.4 620.5) scale(0.73 1)" font-size="8.5" font-weight="bold" text-anchor="end" fill="#222">0.0</text>
<text transform="translate(18.4 708.5) scale(0.73 1)" font-size="8.5" font-weight="bold" text-anchor="end" fill="#222">-2.5</text>
<text transform="translate(36.3 733.3) scale(0.63 1)" font-size="8.5" font-weight="bold" text-anchor="middle" fill="#222">0</text>
<text transform="translate(167.4 733.3) scale(0.63 1)" font-size="8.5" font-weight="bold" text-anchor="middle" fill="#222">0.45</text>
<text transform="translate(212.8 733.3) scale(0.63 1)" font-size="8.5" font-weight="bold" text-anchor="middle" fill="#222">0.61</text>
<text transform="translate(236.4 733.3) scale(0.63 1)" font-size="8.5" font-weight="bold" text-anchor="middle" fill="#222">0.69</text>
<text transform="translate(267.2 733.3) scale(0.63 1)" font-size="8.5" font-weight="bold" text-anchor="middle" fill="#222">0.8</text>
<text transform="translate(324.0 733.3) scale(0.63 1)" font-size="8.5" font-weight="bold" text-anchor="middle" fill="#222">1</text>
<text transform="translate(177.5 747.4) scale(0.84 1)" font-size="14.2" font-weight="bold" text-anchor="middle">SDI</text>
<text transform="translate(11.5 553.7) rotate(-90) scale(1 1)" font-size="13.3" font-weight="bold" text-anchor="middle">EAPC</text>
<text transform="translate(7.5 383.8) scale(0.82 1)" font-size="20" font-weight="bold" fill="#000">c</text>
<text transform="translate(53.45 416.0) scale(0.677 1)" font-size="15.8" fill="#111" stroke="#111" stroke-width="0.85">R</text>
<text transform="translate(61.70 416.0) scale(0.678 1)" font-size="15.8" fill="#111" stroke="#111" stroke-width="0.85">=−0.13</text>
<text transform="translate(96.29 416.0) scale(0.798 1)" font-size="15.8" fill="#111" stroke="#111" stroke-width="0.85">,p</text>
<text transform="translate(107.53 416.0) scale(0.645 1)" font-size="15.8" fill="#111" stroke="#111" stroke-width="0.85">=</text>
<text transform="translate(115.08 416.0) scale(0.716 1)" font-size="15.8" fill="#111" stroke="#111" stroke-width="0.85">0.059</text>
</g>
<g id="panel-d">
<line x1="379.5" y1="391.4" x2="379.5" y2="722.6" stroke="#eeeeee" stroke-width="1"/>
<line x1="510.5" y1="391.4" x2="510.5" y2="722.6" stroke="#eeeeee" stroke-width="1"/>
<line x1="556.5" y1="391.4" x2="556.5" y2="722.6" stroke="#eeeeee" stroke-width="1"/>
<line x1="579.5" y1="391.4" x2="579.5" y2="722.6" stroke="#eeeeee" stroke-width="1"/>
<line x1="611.5" y1="391.4" x2="611.5" y2="722.6" stroke="#eeeeee" stroke-width="1"/>
<line x1="669.5" y1="391.4" x2="669.5" y2="722.6" stroke="#eeeeee" stroke-width="1"/>
<line x1="365.4" y1="406.5" x2="685.0" y2="406.5" stroke="#eeeeee" stroke-width="1"/>
<line x1="365.4" y1="458.5" x2="685.0" y2="458.5" stroke="#eeeeee" stroke-width="1"/>
<line x1="365.4" y1="511.5" x2="685.0" y2="511.5" stroke="#eeeeee" stroke-width="1"/>
<line x1="365.4" y1="563.5" x2="685.0" y2="563.5" stroke="#eeeeee" stroke-width="1"/>
<line x1="365.4" y1="615.5" x2="685.0" y2="615.5" stroke="#eeeeee" stroke-width="1"/>
<line x1="365.4" y1="668.5" x2="685.0" y2="668.5" stroke="#eeeeee" stroke-width="1"/>
<ellipse cx="403.0" cy="565.0" rx="2.21" ry="3.53" fill="#646464" stroke="#0c0c0c" stroke-width="1.1"/>
<ellipse cx="426.6" cy="544.7" rx="1.18" ry="1.92" fill="#646464" stroke="#0c0c0c" stroke-width="0.9"/>
<ellipse cx="448.7" cy="536.7" rx="1.18" ry="1.92" fill="#646464" stroke="#0c0c0c" stroke-width="0.9"/>
<ellipse cx="456.0" cy="533.7" rx="1.46" ry="2.20" fill="#646464" stroke="#0c0c0c" stroke-width="0.9"/>
<ellipse cx="454.0" cy="490.7" rx="1.73" ry="2.76" fill="#646464" stroke="#0c0c0c" stroke-width="0.9"/>
<ellipse cx="459.3" cy="558.8" rx="3.04" ry="4.66" fill="#646464" stroke="#0c0c0c" stroke-width="1.1"/>
<ellipse cx="461.8" cy="585.1" rx="2.49" ry="3.81" fill="#646464" stroke="#0c0c0c" stroke-width="1.1"/>
<ellipse cx="468.6" cy="476.4" rx="3.32" ry="4.94" fill="#646464" stroke="#0c0c0c" stroke-width="1.1"/>
<ellipse cx="473.8" cy="535.4" rx="1.46" ry="2.20" fill="#646464" stroke="#0c0c0c" stroke-width="0.9"/>
<ellipse cx="479.1" cy="527.1" rx="2.76" ry="4.37" fill="#646464" stroke="#0c0c0c" stroke-width="1.1"/>
<ellipse cx="479.6" cy="536.2" rx="1.18" ry="1.92" fill="#646464" stroke="#0c0c0c" stroke-width="0.9"/>
<ellipse cx="482.1" cy="538.7" rx="1.46" ry="2.20" fill="#646464" stroke="#0c0c0c" stroke-width="0.9"/>
<ellipse cx="482.6" cy="532.9" rx="1.46" ry="2.20" fill="#646464" stroke="#0c0c0c" stroke-width="0.9"/>
<ellipse cx="480.4" cy="548.5" rx="1.46" ry="2.20" fill="#646464" stroke="#0c0c0c" stroke-width="0.9"/>
<ellipse cx="484.9" cy="556.3" rx="2.76" ry="4.37" fill="#646464" stroke="#0c0c0c" stroke-width="1.1"/>
<ellipse cx="487.2" cy="536.2" rx="1.46" ry="2.20" fill="#646464" stroke="#0c0c0c" stroke-width="0.9"/>
<ellipse cx="490.4" cy="601.5" rx="3.87" ry="5.78" fill="#646464" stroke="#0c0c0c" stroke-width="1.1"/>
<ellipse cx="490.9" cy="526.9" rx="2.76" ry="4.09" fill="#646464" stroke="#0c0c0c" stroke-width="1.1"/>
<ellipse cx="494.7" cy="534.9" rx="2.49" ry="3.81" fill="#646464" stroke="#0c0c0c" stroke-width="1.1"/>
<ellipse cx="494.7" cy="544.2" rx="3.32" ry="5.22" fill="#646464" stroke="#0c0c0c" stroke-width="1.1"/>
<ellipse cx="493.4" cy="536.7" rx="1.18" ry="1.92" fill="#646464" stroke="#0c0c0c" stroke-width="0.9"/>
<ellipse cx="495.4" cy="525.4" rx="1.46" ry="2.20" fill="#646464" stroke="#0c0c0c" stroke-width="0.9"/>
<ellipse cx="496.7" cy="519.1" rx="2.76" ry="4.37" fill="#646464" stroke="#0c0c0c" stroke-width="1.1"/>
<ellipse cx="497.9" cy="541.7" rx="2.21" ry="3.53" fill="#646464" stroke="#0c0c0c" stroke-width="1.1"/>
<ellipse cx="500.7" cy="536.7" rx="1.46" ry="2.20" fill="#646464" stroke="#0c0c0c" stroke-width="0.9"/>
<ellipse cx="502.5" cy="527.9" rx="3.04" ry="4.66" fill="#646464" stroke="#0c0c0c" stroke-width="1.1"/>
<ellipse cx="502.2" cy="532.9" rx="1.18" ry="1.92" fill="#646464" stroke="#0c0c0c" stroke-width="0.9"/>
<ellipse cx="504.0" cy="576.8" rx="2.76" ry="4.09" fill="#646464" stroke="#0c0c0c" stroke-width="1.1"/>
<ellipse cx="505.0" cy="563.0" rx="2.76" ry="4.09" fill="#646464" stroke="#0c0c0c" stroke-width="1.1"/>
<ellipse cx="510.0" cy="527.1" rx="1.46" ry="2.48" fill="#646464" stroke="#0c0c0c" stroke-width="0.9"/>
<ellipse cx="511.8" cy="554.2" rx="2.76" ry="4.37" fill="#646464" stroke="#0c0c0c" stroke-width="1.1"/>
<ellipse cx="511.8" cy="512.3" rx="1.18" ry="1.92" fill="#646464" stroke="#0c0c0c" stroke-width="0.9"/>
<ellipse cx="512.8" cy="522.1" rx="3.04" ry="4.66" fill="#646464" stroke="#0c0c0c" stroke-width="1.1"/>
<ellipse cx="515.8" cy="569.3" rx="1.46" ry="2.20" fill="#646464" stroke="#0c0c0c" stroke-width="0.9"/>
<ellipse cx="516.0" cy="510.6" rx="3.04" ry="4.66" fill="#646464" stroke="#0c0c0c" stroke-width="1.1"/>
<ellipse cx="517.8" cy="542.4" rx="1.18" ry="1.92" fill="#646464" stroke="#0c0c0c" stroke-width="0.9"/>
<ellipse cx="519.8" cy="517.3" rx="1.46" ry="2.20" fill="#646464" stroke="#0c0c0c" stroke-width="0.9"/>
<ellipse cx="521.8" cy="566.8" rx="1.46" ry="2.20" fill="#646464" stroke="#0c0c0c" stroke-width="0.9"/>
<ellipse cx="522.1" cy="516.1" rx="1.46" ry="2.20" fill="#646464" stroke="#0c0c0c" stroke-width="0.9"/>
<ellipse cx="523.6" cy="549.7" rx="1.46" ry="2.20" fill="#646464" stroke="#0c0c0c" stroke-width="0.9"/>
<ellipse cx="523.6" cy="555.0" rx="1.46" ry="2.48" fill="#646464" stroke="#0c0c0c" stroke-width="0.9"/>
<ellipse cx="525.1" cy="514.3" rx="1.46" ry="2.20" fill="#646464" stroke="#0c0c0c" stroke-width="0.9"/>
<ellipse cx="526.3" cy="468.6" rx="3.32" ry="5.22" fill="#646464" stroke="#0c0c0c" stroke-width="1.1"/>
<ellipse cx="526.8" cy="481.7" rx="2.76" ry="4.09" fill="#646464" stroke="#0c0c0c" stroke-width="1.1"/>
<ellipse cx="527.1" cy="503.3" rx="2.76" ry="4.37" fill="#646464" stroke="#0c0c0c" stroke-width="1.1"/>
<ellipse cx="528.8" cy="529.6" rx="1.35" ry="1.81" fill="#151515"/>
<ellipse cx="528.8" cy="543.5" rx="1.18" ry="1.92" fill="#646464" stroke="#0c0c0c" stroke-width="0.9"/>
<ellipse cx="528.8" cy="549.0" rx="1.46" ry="2.20" fill="#646464" stroke="#0c0c0c" stroke-width="0.9"/>
<ellipse cx="529.6" cy="572.3" rx="1.35" ry="1.81" fill="#151515"/>
<ellipse cx="530.6" cy="578.1" rx="1.73" ry="2.76" fill="#646464" stroke="#0c0c0c" stroke-width="0.9"/>
<ellipse cx="532.1" cy="516.6" rx="1.73" ry="2.76" fill="#646464" stroke="#0c0c0c" stroke-width="0.9"/>
<ellipse cx="532.3" cy="527.4" rx="1.93" ry="2.97" fill="#646464" stroke="#0c0c0c" stroke-width="1.1"/>
<ellipse cx="532.3" cy="576.3" rx="1.08" ry="1.52" fill="#151515"/>
<ellipse cx="536.1" cy="583.9" rx="1.35" ry="1.81" fill="#151515"/>
<ellipse cx="537.6" cy="536.7" rx="2.21" ry="3.53" fill="#646464" stroke="#0c0c0c" stroke-width="1.1"/>
<ellipse cx="538.6" cy="542.2" rx="1.18" ry="1.92" fill="#646464" stroke="#0c0c0c" stroke-width="0.9"/>
<ellipse cx="541.1" cy="585.1" rx="1.35" ry="1.81" fill="#151515"/>
<ellipse cx="541.4" cy="558.8" rx="1.35" ry="1.81" fill="#151515"/>
<ellipse cx="542.6" cy="561.5" rx="1.73" ry="2.76" fill="#646464" stroke="#0c0c0c" stroke-width="0.9"/>
<ellipse cx="543.9" cy="571.8" rx="1.35" ry="1.81" fill="#151515"/>
<ellipse cx="544.9" cy="536.7" rx="3.59" ry="5.50" fill="#646464" stroke="#0c0c0c" stroke-width="1.1"/>
<ellipse cx="543.1" cy="541.7" rx="1.18" ry="1.92" fill="#646464" stroke="#0c0c0c" stroke-width="0.9"/>
<ellipse cx="545.9" cy="582.4" rx="1.08" ry="1.52" fill="#151515"/>
<ellipse cx="547.9" cy="527.9" rx="1.73" ry="2.76" fill="#646464" stroke="#0c0c0c" stroke-width="0.9"/>
<ellipse cx="550.2" cy="566.3" rx="1.35" ry="1.81" fill="#151515"/>
<ellipse cx="550.7" cy="543.7" rx="1.93" ry="3.25" fill="#646464" stroke="#0c0c0c" stroke-width="1.1"/>
<ellipse cx="551.4" cy="527.6" rx="1.18" ry="1.92" fill="#646464" stroke="#0c0c0c" stroke-width="0.9"/>
<ellipse cx="552.7" cy="537.9" rx="1.73" ry="2.76" fill="#646464" stroke="#0c0c0c" stroke-width="0.9"/>
<ellipse cx="554.7" cy="529.9" rx="1.73" ry="2.76" fill="#646464" stroke="#0c0c0c" stroke-width="0.9"/>
<ellipse cx="555.4" cy="583.9" rx="1.35" ry="1.81" fill="#151515"/>
<ellipse cx="555.7" cy="594.7" rx="1.46" ry="2.20" fill="#646464" stroke="#0c0c0c" stroke-width="0.9"/>
<ellipse cx="559.2" cy="592.4" rx="1.08" ry="1.52" fill="#151515"/>
<ellipse cx="556.9" cy="543.5" rx="3.04" ry="4.66" fill="#646464" stroke="#0c0c0c" stroke-width="1.1"/>
<ellipse cx="559.0" cy="520.4" rx="2.49" ry="3.81" fill="#646464" stroke="#0c0c0c" stroke-width="1.1"/>
<ellipse cx="559.2" cy="549.7" rx="1.18" ry="1.92" fill="#646464" stroke="#0c0c0c" stroke-width="0.9"/>
<ellipse cx="554.4" cy="529.6" rx="1.73" ry="2.76" fill="#646464" stroke="#0c0c0c" stroke-width="0.9"/>
<ellipse cx="561.2" cy="533.9" rx="1.93" ry="2.97" fill="#646464" stroke="#0c0c0c" stroke-width="1.1"/>
<ellipse cx="561.5" cy="510.3" rx="3.04" ry="4.66" fill="#646464" stroke="#0c0c0c" stroke-width="1.1"/>
<ellipse cx="563.2" cy="509.8" rx="1.35" ry="1.81" fill="#151515"/>
<ellipse cx="563.0" cy="538.7" rx="2.21" ry="3.53" fill="#646464" stroke="#0c0c0c" stroke-width="1.1"/>
<ellipse cx="563.2" cy="584.4" rx="1.73" ry="2.76" fill="#646464" stroke="#0c0c0c" stroke-width="0.9"/>
<ellipse cx="564.7" cy="478.9" rx="1.46" ry="2.48" fill="#646464" stroke="#0c0c0c" stroke-width="0.9"/>
<ellipse cx="564.5" cy="532.9" rx="1.93" ry="2.97" fill="#646464" stroke="#0c0c0c" stroke-width="1.1"/>
<ellipse cx="564.5" cy="548.5" rx="1.18" ry="1.92" fill="#646464" stroke="#0c0c0c" stroke-width="0.9"/>
<ellipse cx="565.2" cy="567.6" rx="2.76" ry="4.09" fill="#646464" stroke="#0c0c0c" stroke-width="1.1"/>
<ellipse cx="565.2" cy="560.0" rx="1.08" ry="1.52" fill="#151515"/>
<ellipse cx="567.7" cy="588.1" rx="1.73" ry="2.76" fill="#646464" stroke="#0c0c0c" stroke-width="0.9"/>
<ellipse cx="569.5" cy="512.8" rx="3.32" ry="5.22" fill="#646464" stroke="#0c0c0c" stroke-width="1.1"/>
<ellipse cx="573.3" cy="506.5" rx="3.32" ry="5.22" fill="#646464" stroke="#0c0c0c" stroke-width="1.1"/>
<ellipse cx="573.8" cy="498.5" rx="1.46" ry="2.20" fill="#646464" stroke="#0c0c0c" stroke-width="0.9"/>
<ellipse cx="571.3" cy="532.4" rx="1.46" ry="2.20" fill="#646464" stroke="#0c0c0c" stroke-width="0.9"/>
<ellipse cx="572.8" cy="525.4" rx="3.32" ry="5.22" fill="#646464" stroke="#0c0c0c" stroke-width="1.1"/>
<ellipse cx="573.3" cy="537.9" rx="1.73" ry="2.76" fill="#646464" stroke="#0c0c0c" stroke-width="0.9"/>
<ellipse cx="577.5" cy="511.6" rx="3.32" ry="5.22" fill="#646464" stroke="#0c0c0c" stroke-width="1.1"/>
<ellipse cx="576.5" cy="517.1" rx="3.59" ry="5.50" fill="#646464" stroke="#0c0c0c" stroke-width="1.1"/>
<ellipse cx="574.0" cy="557.3" rx="3.87" ry="5.78" fill="#646464" stroke="#0c0c0c" stroke-width="1.1"/>
<ellipse cx="574.3" cy="595.7" rx="1.18" ry="1.92" fill="#646464" stroke="#0c0c0c" stroke-width="0.9"/>
<ellipse cx="577.0" cy="564.8" rx="1.18" ry="1.92" fill="#646464" stroke="#0c0c0c" stroke-width="0.9"/>
<ellipse cx="577.8" cy="568.1" rx="1.35" ry="1.81" fill="#151515"/>
<ellipse cx="578.8" cy="550.5" rx="2.21" ry="3.53" fill="#646464" stroke="#0c0c0c" stroke-width="1.1"/>
<ellipse cx="577.0" cy="542.9" rx="1.73" ry="2.76" fill="#646464" stroke="#0c0c0c" stroke-width="0.9"/>
<ellipse cx="578.8" cy="587.4" rx="1.18" ry="1.92" fill="#646464" stroke="#0c0c0c" stroke-width="0.9"/>
<ellipse cx="579.0" cy="610.0" rx="1.35" ry="1.81" fill="#151515"/>
<ellipse cx="579.5" cy="576.8" rx="1.46" ry="2.20" fill="#646464" stroke="#0c0c0c" stroke-width="0.9"/>
<ellipse cx="579.8" cy="555.5" rx="1.18" ry="1.92" fill="#646464" stroke="#0c0c0c" stroke-width="0.9"/>
<ellipse cx="581.5" cy="490.2" rx="1.93" ry="2.97" fill="#646464" stroke="#0c0c0c" stroke-width="1.1"/>
<ellipse cx="581.8" cy="620.0" rx="1.18" ry="1.92" fill="#646464" stroke="#0c0c0c" stroke-width="0.9"/>
<ellipse cx="584.1" cy="536.7" rx="1.73" ry="2.76" fill="#646464" stroke="#0c0c0c" stroke-width="0.9"/>
<ellipse cx="585.3" cy="577.3" rx="1.73" ry="2.76" fill="#646464" stroke="#0c0c0c" stroke-width="0.9"/>
<ellipse cx="586.1" cy="506.5" rx="1.73" ry="2.76" fill="#646464" stroke="#0c0c0c" stroke-width="0.9"/>
<ellipse cx="586.1" cy="531.6" rx="1.46" ry="2.48" fill="#646464" stroke="#0c0c0c" stroke-width="0.9"/>
<ellipse cx="588.3" cy="522.9" rx="1.73" ry="2.76" fill="#646464" stroke="#0c0c0c" stroke-width="0.9"/>
<ellipse cx="589.6" cy="557.3" rx="1.73" ry="2.76" fill="#646464" stroke="#0c0c0c" stroke-width="0.9"/>
<ellipse cx="589.6" cy="569.8" rx="1.35" ry="1.81" fill="#151515"/>
<ellipse cx="591.3" cy="508.3" rx="2.76" ry="4.37" fill="#646464" stroke="#0c0c0c" stroke-width="1.1"/>
<ellipse cx="591.6" cy="584.9" rx="1.35" ry="1.81" fill="#151515"/>
<ellipse cx="593.4" cy="563.0" rx="1.18" ry="1.92" fill="#646464" stroke="#0c0c0c" stroke-width="0.9"/>
<ellipse cx="593.4" cy="527.4" rx="3.87" ry="5.78" fill="#646464" stroke="#0c0c0c" stroke-width="1.1"/>
<ellipse cx="593.9" cy="534.9" rx="3.87" ry="5.78" fill="#646464" stroke="#0c0c0c" stroke-width="1.1"/>
<ellipse cx="595.1" cy="581.1" rx="3.32" ry="4.94" fill="#646464" stroke="#0c0c0c" stroke-width="1.1"/>
<ellipse cx="596.1" cy="507.0" rx="1.93" ry="3.25" fill="#646464" stroke="#0c0c0c" stroke-width="1.1"/>
<ellipse cx="595.9" cy="517.8" rx="4.42" ry="6.91" fill="#646464" stroke="#0c0c0c" stroke-width="1.1"/>
<ellipse cx="596.6" cy="601.5" rx="2.21" ry="3.53" fill="#646464" stroke="#0c0c0c" stroke-width="1.1"/>
<ellipse cx="597.6" cy="542.9" rx="2.49" ry="3.81" fill="#646464" stroke="#0c0c0c" stroke-width="1.1"/>
<ellipse cx="599.6" cy="558.8" rx="1.93" ry="3.25" fill="#646464" stroke="#0c0c0c" stroke-width="1.1"/>
<ellipse cx="600.1" cy="539.2" rx="3.32" ry="4.94" fill="#646464" stroke="#0c0c0c" stroke-width="1.1"/>
<ellipse cx="600.1" cy="532.9" rx="1.73" ry="2.76" fill="#646464" stroke="#0c0c0c" stroke-width="0.9"/>
<ellipse cx="601.4" cy="568.1" rx="1.73" ry="2.76" fill="#646464" stroke="#0c0c0c" stroke-width="0.9"/>
<ellipse cx="601.1" cy="527.4" rx="1.46" ry="2.48" fill="#646464" stroke="#0c0c0c" stroke-width="0.9"/>
<ellipse cx="602.1" cy="442.5" rx="2.21" ry="3.53" fill="#646464" stroke="#0c0c0c" stroke-width="1.1"/>
<ellipse cx="602.1" cy="605.0" rx="2.76" ry="4.37" fill="#646464" stroke="#0c0c0c" stroke-width="1.1"/>
<ellipse cx="603.4" cy="472.1" rx="1.93" ry="2.97" fill="#646464" stroke="#0c0c0c" stroke-width="1.1"/>
<ellipse cx="606.9" cy="494.2" rx="1.46" ry="2.20" fill="#646464" stroke="#0c0c0c" stroke-width="0.9"/>
<ellipse cx="608.4" cy="566.3" rx="4.14" ry="6.34" fill="#646464" stroke="#0c0c0c" stroke-width="1.1"/>
<ellipse cx="610.2" cy="615.0" rx="1.18" ry="1.92" fill="#646464" stroke="#0c0c0c" stroke-width="0.9"/>
<ellipse cx="610.7" cy="526.1" rx="3.32" ry="5.22" fill="#646464" stroke="#0c0c0c" stroke-width="1.1"/>
<ellipse cx="611.4" cy="481.4" rx="3.87" ry="6.06" fill="#646464" stroke="#0c0c0c" stroke-width="1.1"/>
<ellipse cx="612.2" cy="618.3" rx="2.76" ry="4.37" fill="#646464" stroke="#0c0c0c" stroke-width="1.1"/>
<ellipse cx="612.7" cy="581.9" rx="3.59" ry="5.50" fill="#646464" stroke="#0c0c0c" stroke-width="1.1"/>
<ellipse cx="613.4" cy="528.4" rx="3.87" ry="6.06" fill="#646464" stroke="#0c0c0c" stroke-width="1.1"/>
<ellipse cx="613.4" cy="564.8" rx="3.32" ry="4.94" fill="#646464" stroke="#0c0c0c" stroke-width="1.1"/>
<ellipse cx="613.4" cy="579.4" rx="1.18" ry="1.92" fill="#646464" stroke="#0c0c0c" stroke-width="0.9"/>
<ellipse cx="615.4" cy="496.0" rx="1.46" ry="2.20" fill="#646464" stroke="#0c0c0c" stroke-width="0.9"/>
<ellipse cx="615.9" cy="583.6" rx="3.32" ry="4.94" fill="#646464" stroke="#0c0c0c" stroke-width="1.1"/>
<ellipse cx="615.9" cy="534.2" rx="2.49" ry="3.81" fill="#646464" stroke="#0c0c0c" stroke-width="1.1"/>
<ellipse cx="617.7" cy="449.3" rx="1.93" ry="2.97" fill="#646464" stroke="#0c0c0c" stroke-width="1.1"/>
<ellipse cx="618.5" cy="573.8" rx="2.21" ry="3.53" fill="#646464" stroke="#0c0c0c" stroke-width="1.1"/>
<ellipse cx="620.2" cy="498.3" rx="1.93" ry="2.97" fill="#646464" stroke="#0c0c0c" stroke-width="1.1"/>
<ellipse cx="621.0" cy="564.3" rx="2.76" ry="4.37" fill="#646464" stroke="#0c0c0c" stroke-width="1.1"/>
<ellipse cx="621.7" cy="617.5" rx="1.93" ry="2.97" fill="#646464" stroke="#0c0c0c" stroke-width="1.1"/>
<ellipse cx="622.0" cy="548.5" rx="1.18" ry="1.92" fill="#646464" stroke="#0c0c0c" stroke-width="0.9"/>
<ellipse cx="623.7" cy="521.1" rx="1.46" ry="2.20" fill="#646464" stroke="#0c0c0c" stroke-width="0.9"/>
<ellipse cx="624.0" cy="499.5" rx="2.49" ry="3.81" fill="#646464" stroke="#0c0c0c" stroke-width="1.1"/>
<ellipse cx="623.5" cy="570.1" rx="3.32" ry="4.94" fill="#646464" stroke="#0c0c0c" stroke-width="1.1"/>
<ellipse cx="623.7" cy="582.4" rx="1.93" ry="3.25" fill="#646464" stroke="#0c0c0c" stroke-width="1.1"/>
<ellipse cx="626.0" cy="551.7" rx="3.32" ry="5.22" fill="#646464" stroke="#0c0c0c" stroke-width="1.1"/>
<ellipse cx="626.0" cy="587.4" rx="3.04" ry="4.66" fill="#646464" stroke="#0c0c0c" stroke-width="1.1"/>
<ellipse cx="626.5" cy="560.5" rx="1.35" ry="1.81" fill="#151515"/>
<ellipse cx="629.0" cy="540.4" rx="3.32" ry="5.22" fill="#646464" stroke="#0c0c0c" stroke-width="1.1"/>
<ellipse cx="629.3" cy="576.8" rx="2.49" ry="3.81" fill="#646464" stroke="#0c0c0c" stroke-width="1.1"/>
<ellipse cx="631.0" cy="595.2" rx="3.59" ry="5.50" fill="#646464" stroke="#0c0c0c" stroke-width="1.1"/>
<ellipse cx="630.0" cy="596.9" rx="1.73" ry="2.76" fill="#646464" stroke="#0c0c0c" stroke-width="0.9"/>
<ellipse cx="632.8" cy="583.9" rx="2.76" ry="4.37" fill="#646464" stroke="#0c0c0c" stroke-width="1.1"/>
<ellipse cx="635.0" cy="532.2" rx="1.46" ry="2.20" fill="#646464" stroke="#0c0c0c" stroke-width="0.9"/>
<ellipse cx="636.0" cy="575.6" rx="3.32" ry="5.22" fill="#646464" stroke="#0c0c0c" stroke-width="1.1"/>
<ellipse cx="637.8" cy="604.5" rx="3.59" ry="5.50" fill="#646464" stroke="#0c0c0c" stroke-width="1.1"/>
<ellipse cx="639.3" cy="516.1" rx="2.76" ry="4.37" fill="#646464" stroke="#0c0c0c" stroke-width="1.1"/>
<ellipse cx="639.3" cy="591.9" rx="2.49" ry="3.81" fill="#646464" stroke="#0c0c0c" stroke-width="1.1"/>
<ellipse cx="640.3" cy="565.5" rx="3.59" ry="5.50" fill="#646464" stroke="#0c0c0c" stroke-width="1.1"/>
<ellipse cx="641.6" cy="600.7" rx="1.93" ry="2.97" fill="#646464" stroke="#0c0c0c" stroke-width="1.1"/>
<ellipse cx="644.8" cy="602.7" rx="2.49" ry="3.81" fill="#646464" stroke="#0c0c0c" stroke-width="1.1"/>
<ellipse cx="649.1" cy="599.9" rx="2.49" ry="3.81" fill="#646464" stroke="#0c0c0c" stroke-width="1.1"/>
<ellipse cx="614.9" cy="406.4" rx="2.49" ry="3.81" fill="#646464" stroke="#0c0c0c" stroke-width="1.1"/>
<ellipse cx="578.3" cy="438.0" rx="4.14" ry="6.34" fill="#646464" stroke="#0c0c0c" stroke-width="1.1"/>
<ellipse cx="600.4" cy="653.4" rx="4.14" ry="6.34" fill="#646464" stroke="#0c0c0c" stroke-width="1.1"/>
<ellipse cx="623.5" cy="632.6" rx="2.49" ry="3.81" fill="#646464" stroke="#0c0c0c" stroke-width="1.1"/>
<ellipse cx="632.0" cy="623.8" rx="1.93" ry="3.25" fill="#646464" stroke="#0c0c0c" stroke-width="1.1"/>
<ellipse cx="631.8" cy="649.9" rx="1.18" ry="1.92" fill="#646464" stroke="#0c0c0c" stroke-width="0.9"/>
<ellipse cx="634.3" cy="707.6" rx="1.18" ry="1.92" fill="#646464" stroke="#0c0c0c" stroke-width="0.9"/>
<path d="M403.0 478.2 C403.4 478.8 404.4 480.6 405.1 481.7 C405.8 482.9 406.5 484.0 407.2 485.1 C407.9 486.2 408.5 487.3 409.2 488.3 C409.9 489.3 410.6 490.3 411.3 491.3 C412.0 492.3 412.7 493.3 413.4 494.3 C414.1 495.2 414.7 496.3 415.4 497.3 C416.1 498.2 416.8 499.2 417.5 500.1 C418.2 501.0 418.9 501.9 419.6 502.7 C420.3 503.6 420.9 504.4 421.6 505.3 C422.3 506.1 423.0 506.8 423.7 507.6 C424.4 508.4 425.1 509.1 425.8 509.8 C426.5 510.6 427.1 511.3 427.8 511.9 C428.5 512.6 429.2 513.3 429.9 513.9 C430.6 514.5 431.3 515.1 432.0 515.7 C432.6 516.4 433.3 516.9 434.0 517.5 C434.7 518.1 435.4 518.7 436.1 519.3 C436.8 519.8 437.5 520.3 438.2 520.9 C438.8 521.4 439.5 521.9 440.2 522.4 C440.9 522.8 441.6 523.3 442.3 523.8 C443.0 524.2 443.7 524.5 444.4 524.9 C445.0 525.3 445.7 525.6 446.4 525.9 C447.1 526.2 447.8 526.5 448.5 526.8 C449.2 527.2 449.9 527.4 450.6 527.7 C451.2 528.0 451.9 528.3 452.6 528.5 C453.3 528.8 454.0 529.0 454.7 529.2 C455.4 529.4 456.1 529.5 456.8 529.7 C457.4 529.9 458.1 530.1 458.8 530.2 C459.5 530.4 460.2 530.6 460.9 530.7 C461.6 530.9 462.3 531.0 463.0 531.1 C463.6 531.2 464.3 531.3 465.0 531.3 C465.7 531.4 466.4 531.4 467.1 531.4 C467.8 531.5 468.5 531.5 469.1 531.6 C469.8 531.6 470.5 531.6 471.2 531.7 C471.9 531.7 472.6 531.7 473.3 531.7 C474.0 531.7 474.7 531.7 475.3 531.7 C476.0 531.7 476.7 531.7 477.4 531.7 C478.1 531.7 478.8 531.7 479.5 531.6 C480.2 531.6 480.9 531.6 481.5 531.6 C482.2 531.6 482.9 531.6 483.6 531.6 C484.3 531.6 485.0 531.6 485.7 531.6 C486.4 531.6 487.1 531.6 487.7 531.6 C488.4 531.7 489.1 531.7 489.8 531.7 C490.5 531.7 491.2 531.7 491.9 531.7 C492.6 531.7 493.3 531.7 493.9 531.7 C494.6 531.6 495.3 531.6 496.0 531.6 C496.7 531.5 497.4 531.5 498.1 531.5 C498.8 531.5 499.5 531.4 500.1 531.4 C500.8 531.4 501.5 531.3 502.2 531.3 C502.9 531.3 503.6 531.3 504.3 531.3 C505.0 531.3 505.7 531.3 506.3 531.3 C507.0 531.3 507.7 531.3 508.4 531.3 C509.1 531.4 509.8 531.4 510.5 531.4 C511.2 531.4 511.8 531.4 512.5 531.4 C513.2 531.4 513.9 531.5 514.6 531.5 C515.3 531.5 516.0 531.5 516.7 531.6 C517.4 531.6 518.0 531.6 518.7 531.7 C519.4 531.7 520.1 531.8 520.8 531.8 C521.5 531.8 522.2 531.9 522.9 531.9 C523.6 531.9 524.2 531.9 524.9 531.9 C525.6 531.9 526.3 531.9 527.0 531.9 C527.7 531.9 528.4 531.9 529.1 531.9 C529.8 531.9 530.4 531.9 531.1 531.9 C531.8 531.9 532.5 531.9 533.2 531.9 C533.9 532.0 534.6 532.0 535.3 532.0 C536.0 532.0 536.6 532.0 537.3 532.1 C538.0 532.1 538.7 532.1 539.4 532.2 C540.1 532.2 540.8 532.2 541.5 532.2 C542.2 532.2 542.8 532.2 543.5 532.3 C544.2 532.3 544.9 532.3 545.6 532.3 C546.3 532.4 547.0 532.4 547.7 532.4 C548.4 532.5 549.0 532.5 549.7 532.6 C550.4 532.6 551.1 532.7 551.8 532.7 C552.5 532.8 553.2 532.8 553.9 532.9 C554.5 532.9 555.2 533.0 555.9 533.1 C556.6 533.1 557.3 533.2 558.0 533.3 C558.7 533.4 559.4 533.5 560.1 533.5 C560.7 533.6 561.4 533.7 562.1 533.8 C562.8 533.9 563.5 534.0 564.2 534.1 C564.9 534.2 565.6 534.4 566.3 534.5 C566.9 534.6 567.6 534.7 568.3 534.9 C569.0 535.0 569.7 535.1 570.4 535.3 C571.1 535.4 571.8 535.5 572.5 535.7 C573.1 535.8 573.8 536.0 574.5 536.2 C575.2 536.3 575.9 536.5 576.6 536.7 C577.3 536.9 578.0 537.1 578.7 537.3 C579.3 537.5 580.0 537.7 580.7 537.9 C581.4 538.1 582.1 538.3 582.8 538.5 C583.5 538.8 584.2 539.0 584.9 539.2 C585.5 539.5 586.2 539.7 586.9 539.9 C587.6 540.2 588.3 540.5 589.0 540.7 C589.7 541.0 590.4 541.3 591.0 541.5 C591.7 541.8 592.4 542.1 593.1 542.3 C593.8 542.6 594.5 542.9 595.2 543.1 C595.9 543.4 596.6 543.7 597.2 544.0 C597.9 544.3 598.6 544.6 599.3 544.9 C600.0 545.2 600.7 545.5 601.4 545.8 C602.1 546.1 602.8 546.4 603.4 546.8 C604.1 547.1 604.8 547.4 605.5 547.8 C606.2 548.2 606.9 548.5 607.6 548.9 C608.3 549.3 609.0 549.7 609.6 550.0 C610.3 550.4 611.0 550.7 611.7 551.0 C612.4 551.3 613.1 551.6 613.8 551.9 C614.5 552.3 615.2 552.6 615.8 552.9 C616.5 553.3 617.2 553.6 617.9 554.0 C618.6 554.3 619.3 554.7 620.0 555.0 C620.7 555.4 621.4 555.7 622.0 556.1 C622.7 556.5 623.4 556.9 624.1 557.3 C624.8 557.6 625.5 558.0 626.2 558.4 C626.9 558.8 627.6 559.2 628.2 559.6 C628.9 560.0 629.6 560.4 630.3 560.8 C631.0 561.1 631.7 561.5 632.4 561.9 C633.1 562.3 633.7 562.7 634.4 563.1 C635.1 563.5 635.8 564.0 636.5 564.3 C637.2 564.7 637.9 565.1 638.6 565.4 C639.3 565.8 639.9 566.0 640.6 566.2 C641.3 566.4 642.0 566.7 642.7 566.9 C643.4 567.1 644.1 567.3 644.8 567.5 C645.5 567.6 646.1 567.8 646.8 568.0 C647.5 568.1 648.6 568.3 648.9 568.4 L648.9 611.4 C648.6 610.6 647.5 608.4 646.8 607.0 C646.1 605.7 645.5 604.3 644.8 603.0 C644.1 601.7 643.4 600.4 642.7 599.2 C642.0 597.9 641.3 596.7 640.6 595.6 C639.9 594.4 639.3 593.2 638.6 592.1 C637.9 591.1 637.2 590.2 636.5 589.2 C635.8 588.3 635.1 587.4 634.4 586.6 C633.7 585.7 633.1 584.8 632.4 584.0 C631.7 583.2 631.0 582.3 630.3 581.5 C629.6 580.7 628.9 579.9 628.2 579.2 C627.6 578.4 626.9 577.7 626.2 577.0 C625.5 576.2 624.8 575.5 624.1 574.9 C623.4 574.2 622.7 573.5 622.0 572.8 C621.4 572.2 620.7 571.5 620.0 570.9 C619.3 570.3 618.6 569.6 617.9 569.0 C617.2 568.4 616.5 567.8 615.8 567.3 C615.2 566.7 614.5 566.1 613.8 565.6 C613.1 565.0 612.4 564.4 611.7 563.9 C611.0 563.4 610.3 562.9 609.6 562.4 C609.0 561.9 608.3 561.6 607.6 561.1 C606.9 560.7 606.2 560.3 605.5 559.9 C604.8 559.6 604.1 559.2 603.4 558.8 C602.8 558.4 602.1 558.1 601.4 557.7 C600.7 557.3 600.0 557.0 599.3 556.7 C598.6 556.3 597.9 556.0 597.2 555.6 C596.6 555.3 595.9 555.0 595.2 554.7 C594.5 554.4 593.8 554.1 593.1 553.8 C592.4 553.5 591.7 553.2 591.0 553.0 C590.4 552.7 589.7 552.5 589.0 552.3 C588.3 552.0 587.6 551.8 586.9 551.6 C586.2 551.4 585.5 551.2 584.9 551.0 C584.2 550.7 583.5 550.5 582.8 550.4 C582.1 550.2 581.4 550.0 580.7 549.8 C580.0 549.6 579.3 549.5 578.7 549.3 C578.0 549.1 577.3 549.0 576.6 548.8 C575.9 548.7 575.2 548.5 574.5 548.4 C573.8 548.2 573.1 548.1 572.5 548.0 C571.8 547.8 571.1 547.7 570.4 547.6 C569.7 547.4 569.0 547.3 568.3 547.2 C567.6 547.1 566.9 547.0 566.3 546.9 C565.6 546.8 564.9 546.7 564.2 546.6 C563.5 546.5 562.8 546.4 562.1 546.3 C561.4 546.2 560.7 546.2 560.1 546.1 C559.4 546.0 558.7 545.9 558.0 545.9 C557.3 545.8 556.6 545.8 555.9 545.7 C555.2 545.6 554.5 545.6 553.9 545.6 C553.2 545.5 552.5 545.5 551.8 545.4 C551.1 545.4 550.4 545.4 549.7 545.3 C549.0 545.3 548.4 545.3 547.7 545.3 C547.0 545.2 546.3 545.2 545.6 545.2 C544.9 545.2 544.2 545.2 543.5 545.2 C542.8 545.2 542.2 545.2 541.5 545.2 C540.8 545.2 540.1 545.2 539.4 545.2 C538.7 545.2 538.0 545.3 537.3 545.3 C536.6 545.3 536.0 545.4 535.3 545.4 C534.6 545.5 533.9 545.5 533.2 545.6 C532.5 545.6 531.8 545.7 531.1 545.7 C530.4 545.8 529.8 545.8 529.1 545.9 C528.4 546.0 527.7 546.0 527.0 546.1 C526.3 546.2 525.6 546.2 524.9 546.3 C524.2 546.4 523.6 546.4 522.9 546.5 C522.2 546.6 521.5 546.8 520.8 546.9 C520.1 547.0 519.4 547.1 518.7 547.3 C518.0 547.4 517.4 547.5 516.7 547.7 C516.0 547.8 515.3 547.9 514.6 548.1 C513.9 548.2 513.2 548.4 512.5 548.5 C511.8 548.6 511.2 548.7 510.5 548.9 C509.8 549.0 509.1 549.1 508.4 549.2 C507.7 549.4 507.0 549.5 506.3 549.6 C505.7 549.8 505.0 549.9 504.3 550.0 C503.6 550.1 502.9 550.3 502.2 550.4 C501.5 550.5 500.8 550.6 500.1 550.7 C499.5 550.8 498.8 550.9 498.1 551.0 C497.4 551.1 496.7 551.2 496.0 551.3 C495.3 551.4 494.6 551.4 493.9 551.6 C493.3 551.7 492.6 551.8 491.9 551.9 C491.2 552.0 490.5 552.2 489.8 552.3 C489.1 552.4 488.4 552.5 487.7 552.7 C487.1 552.8 486.4 552.9 485.7 553.1 C485.0 553.2 484.3 553.3 483.6 553.4 C482.9 553.5 482.2 553.6 481.5 553.7 C480.9 553.8 480.2 553.9 479.5 554.0 C478.8 554.1 478.1 554.2 477.4 554.2 C476.7 554.3 476.0 554.4 475.3 554.5 C474.7 554.6 474.0 554.6 473.3 554.7 C472.6 554.8 471.9 554.9 471.2 555.0 C470.5 555.1 469.8 555.2 469.1 555.3 C468.5 555.4 467.8 555.5 467.1 555.6 C466.4 555.7 465.7 555.8 465.0 555.9 C464.3 556.0 463.6 556.0 463.0 556.2 C462.3 556.3 461.6 556.5 460.9 556.7 C460.2 556.9 459.5 557.0 458.8 557.2 C458.1 557.4 457.4 557.6 456.8 557.7 C456.1 557.9 455.4 558.1 454.7 558.3 C454.0 558.4 453.3 558.6 452.6 558.8 C451.9 559.0 451.2 559.3 450.6 559.5 C449.9 559.7 449.2 560.0 448.5 560.2 C447.8 560.5 447.1 560.7 446.4 561.0 C445.7 561.2 445.0 561.4 444.4 561.7 C443.7 562.0 443.0 562.2 442.3 562.6 C441.6 562.9 440.9 563.2 440.2 563.6 C439.5 563.9 438.8 564.3 438.2 564.7 C437.5 565.0 436.8 565.4 436.1 565.8 C435.4 566.2 434.7 566.6 434.0 567.0 C433.3 567.4 432.6 567.8 432.0 568.2 C431.3 568.6 430.6 569.0 429.9 569.4 C429.2 569.8 428.5 570.2 427.8 570.7 C427.1 571.1 426.5 571.5 425.8 572.0 C425.1 572.4 424.4 572.9 423.7 573.4 C423.0 573.8 422.3 574.3 421.6 574.8 C420.9 575.3 420.3 575.8 419.6 576.3 C418.9 576.8 418.2 577.4 417.5 577.9 C416.8 578.5 416.1 579.0 415.4 579.6 C414.7 580.2 414.1 580.8 413.4 581.4 C412.7 582.0 412.0 582.5 411.3 583.0 C410.6 583.6 409.9 584.1 409.2 584.7 C408.5 585.2 407.9 585.8 407.2 586.4 C406.5 587.0 405.8 587.6 405.1 588.2 C404.4 588.8 403.4 589.8 403.0 590.1 Z" fill="#999999" fill-opacity="0.4"/>
<path d="M403.0 534.2 C403.4 534.3 404.4 534.7 405.1 535.0 C405.8 535.2 406.5 535.5 407.2 535.8 C407.9 536.0 408.5 536.2 409.2 536.5 C409.9 536.7 410.6 536.9 411.3 537.2 C412.0 537.4 412.7 537.6 413.4 537.8 C414.1 538.0 414.7 538.2 415.4 538.4 C416.1 538.6 416.8 538.8 417.5 539.0 C418.2 539.2 418.9 539.4 419.6 539.5 C420.3 539.7 420.9 539.9 421.6 540.0 C422.3 540.2 423.0 540.3 423.7 540.5 C424.4 540.6 425.1 540.8 425.8 540.9 C426.5 541.0 427.1 541.2 427.8 541.3 C428.5 541.4 429.2 541.5 429.9 541.7 C430.6 541.8 431.3 541.9 432.0 542.0 C432.6 542.1 433.3 542.2 434.0 542.3 C434.7 542.4 435.4 542.5 436.1 542.5 C436.8 542.6 437.5 542.7 438.2 542.8 C438.8 542.8 439.5 542.9 440.2 543.0 C440.9 543.0 441.6 543.1 442.3 543.2 C443.0 543.2 443.7 543.3 444.4 543.3 C445.0 543.4 445.7 543.4 446.4 543.4 C447.1 543.5 447.8 543.5 448.5 543.5 C449.2 543.6 449.9 543.6 450.6 543.6 C451.2 543.6 451.9 543.7 452.6 543.7 C453.3 543.7 454.0 543.7 454.7 543.7 C455.4 543.7 456.1 543.7 456.8 543.7 C457.4 543.7 458.1 543.7 458.8 543.7 C459.5 543.7 460.2 543.7 460.9 543.7 C461.6 543.7 462.3 543.7 463.0 543.7 C463.6 543.6 464.3 543.6 465.0 543.6 C465.7 543.6 466.4 543.6 467.1 543.5 C467.8 543.5 468.5 543.5 469.1 543.4 C469.8 543.4 470.5 543.4 471.2 543.3 C471.9 543.3 472.6 543.3 473.3 543.2 C474.0 543.2 474.7 543.1 475.3 543.1 C476.0 543.1 476.7 543.0 477.4 543.0 C478.1 542.9 478.8 542.9 479.5 542.8 C480.2 542.8 480.9 542.7 481.5 542.7 C482.2 542.6 482.9 542.6 483.6 542.5 C484.3 542.4 485.0 542.4 485.7 542.3 C486.4 542.3 487.1 542.2 487.7 542.2 C488.4 542.1 489.1 542.0 489.8 542.0 C490.5 541.9 491.2 541.9 491.9 541.8 C492.6 541.7 493.3 541.7 493.9 541.6 C494.6 541.5 495.3 541.5 496.0 541.4 C496.7 541.3 497.4 541.3 498.1 541.2 C498.8 541.2 499.5 541.1 500.1 541.0 C500.8 541.0 501.5 540.9 502.2 540.8 C502.9 540.8 503.6 540.7 504.3 540.7 C505.0 540.6 505.7 540.5 506.3 540.5 C507.0 540.4 507.7 540.3 508.4 540.3 C509.1 540.2 509.8 540.2 510.5 540.1 C511.2 540.1 511.8 540.0 512.5 539.9 C513.2 539.9 513.9 539.8 514.6 539.8 C515.3 539.7 516.0 539.7 516.7 539.6 C517.4 539.6 518.0 539.5 518.7 539.5 C519.4 539.4 520.1 539.4 520.8 539.3 C521.5 539.3 522.2 539.2 522.9 539.2 C523.6 539.2 524.2 539.1 524.9 539.1 C525.6 539.1 526.3 539.0 527.0 539.0 C527.7 539.0 528.4 538.9 529.1 538.9 C529.8 538.9 530.4 538.8 531.1 538.8 C531.8 538.8 532.5 538.8 533.2 538.8 C533.9 538.7 534.6 538.7 535.3 538.7 C536.0 538.7 536.6 538.7 537.3 538.7 C538.0 538.7 538.7 538.7 539.4 538.7 C540.1 538.7 540.8 538.7 541.5 538.7 C542.2 538.7 542.8 538.7 543.5 538.7 C544.2 538.7 544.9 538.8 545.6 538.8 C546.3 538.8 547.0 538.8 547.7 538.8 C548.4 538.9 549.0 538.9 549.7 538.9 C550.4 539.0 551.1 539.0 551.8 539.1 C552.5 539.1 553.2 539.2 553.9 539.2 C554.5 539.3 555.2 539.3 555.9 539.4 C556.6 539.4 557.3 539.5 558.0 539.6 C558.7 539.7 559.4 539.7 560.1 539.8 C560.7 539.9 561.4 540.0 562.1 540.1 C562.8 540.2 563.5 540.3 564.2 540.4 C564.9 540.5 565.6 540.6 566.3 540.7 C566.9 540.8 567.6 540.9 568.3 541.0 C569.0 541.1 569.7 541.3 570.4 541.4 C571.1 541.5 571.8 541.7 572.5 541.8 C573.1 542.0 573.8 542.1 574.5 542.3 C575.2 542.4 575.9 542.6 576.6 542.8 C577.3 542.9 578.0 543.1 578.7 543.3 C579.3 543.5 580.0 543.7 580.7 543.8 C581.4 544.0 582.1 544.2 582.8 544.4 C583.5 544.7 584.2 544.9 584.9 545.1 C585.5 545.3 586.2 545.5 586.9 545.8 C587.6 546.0 588.3 546.2 589.0 546.5 C589.7 546.7 590.4 547.0 591.0 547.3 C591.7 547.5 592.4 547.8 593.1 548.1 C593.8 548.3 594.5 548.6 595.2 548.9 C595.9 549.2 596.6 549.5 597.2 549.8 C597.9 550.1 598.6 550.4 599.3 550.8 C600.0 551.1 600.7 551.4 601.4 551.7 C602.1 552.1 602.8 552.4 603.4 552.8 C604.1 553.1 604.8 553.5 605.5 553.9 C606.2 554.2 606.9 554.6 607.6 555.0 C608.3 555.4 609.0 555.8 609.6 556.2 C610.3 556.6 611.0 557.0 611.7 557.4 C612.4 557.9 613.1 558.3 613.8 558.7 C614.5 559.2 615.2 559.6 615.8 560.1 C616.5 560.6 617.2 561.0 617.9 561.5 C618.6 562.0 619.3 562.5 620.0 563.0 C620.7 563.5 621.4 564.0 622.0 564.5 C622.7 565.0 623.4 565.5 624.1 566.1 C624.8 566.6 625.5 567.1 626.2 567.7 C626.9 568.2 627.6 568.8 628.2 569.4 C628.9 570.0 629.6 570.5 630.3 571.1 C631.0 571.7 631.7 572.3 632.4 573.0 C633.1 573.6 633.7 574.2 634.4 574.8 C635.1 575.5 635.8 576.1 636.5 576.8 C637.2 577.4 637.9 578.1 638.6 578.8 C639.3 579.5 639.9 580.2 640.6 580.9 C641.3 581.6 642.0 582.3 642.7 583.0 C643.4 583.7 644.1 584.5 644.8 585.2 C645.5 586.0 646.1 586.7 646.8 587.5 C647.5 588.3 648.6 589.5 648.9 589.9" fill="none" stroke="#0d0d0d" stroke-width="2.9" stroke-linecap="butt"/>
<line x1="365.4" y1="391.4" x2="365.4" y2="723.4" stroke="#1a1a1a" stroke-width="1.9"/>
<line x1="364.3" y1="722.6" x2="685.0" y2="722.6" stroke="#1a1a1a" stroke-width="1.6"/>
<text transform="translate(362.2 408.9) scale(0.73 1)" font-size="8.5" font-weight="bold" text-anchor="end" fill="#222">3</text>
<text transform="translate(362.2 461.8) scale(0.73 1)" font-size="8.5" font-weight="bold" text-anchor="end" fill="#222">2</text>
<text transform="translate(362.2 514.2) scale(0.73 1)" font-size="8.5" font-weight="bold" text-anchor="end" fill="#222">1</text>
<text transform="translate(362.2 566.5) scale(0.73 1)" font-size="8.5" font-weight="bold" text-anchor="end" fill="#222">0</text>
<text transform="translate(362.2 618.9) scale(0.73 1)" font-size="8.5" font-weight="bold" text-anchor="end" fill="#222">-1</text>
<text transform="translate(362.2 671.4) scale(0.73 1)" font-size="8.5" font-weight="bold" text-anchor="end" fill="#222">-2</text>
<text transform="translate(362.2 723.5) scale(0.73 1)" font-size="8.5" font-weight="bold" text-anchor="end" fill="#222">-3</text>
<text transform="translate(380.2 733.0) scale(0.63 1)" font-size="8.5" font-weight="bold" text-anchor="middle" fill="#222">0</text>
<text transform="translate(511.9 733.0) scale(0.63 1)" font-size="8.5" font-weight="bold" text-anchor="middle" fill="#222">0.45</text>
<text transform="translate(558.5 733.0) scale(0.63 1)" font-size="8.5" font-weight="bold" text-anchor="middle" fill="#222">0.61</text>
<text transform="translate(581.5 733.0) scale(0.63 1)" font-size="8.5" font-weight="bold" text-anchor="middle" fill="#222">0.69</text>
<text transform="translate(613.0 733.0) scale(0.63 1)" font-size="8.5" font-weight="bold" text-anchor="middle" fill="#222">0.8</text>
<text transform="translate(670.3 733.0) scale(0.63 1)" font-size="8.5" font-weight="bold" text-anchor="middle" fill="#222">1</text>
<text transform="translate(521.7 748.0) scale(0.84 1)" font-size="14.2" font-weight="bold" text-anchor="middle">SDI</text>
<text transform="translate(355.6 554.5) rotate(-90) scale(1 1)" font-size="13.3" font-weight="bold" text-anchor="middle">EAPC</text>
<text transform="translate(343.9 384.0) scale(0.82 1)" font-size="20" font-weight="bold" fill="#000">d</text>
<text transform="translate(410.06 415.1) scale(0.666 1)" font-size="15.8" fill="#111" stroke="#111" stroke-width="0.85">R</text>
<text transform="translate(419.23 415.1) scale(0.645 1)" font-size="15.8" fill="#111" stroke="#111" stroke-width="0.85">=</text>
<text transform="translate(427.58 415.1) scale(0.696 1)" font-size="15.8" fill="#111" stroke="#111" stroke-width="0.85">−0.23,</text>
<text transform="translate(461.70 415.1) scale(0.711 1)" font-size="15.8" fill="#111" stroke="#111" stroke-width="0.85">p</text>
<text transform="translate(468.68 415.1) scale(0.710 1)" font-size="15.8" fill="#111" stroke="#111" stroke-width="0.85">=</text>
<text transform="translate(476.30 415.1) scale(0.687 1)" font-size="15.8" fill="#111" stroke="#111" stroke-width="0.85">0.00077</text>
</g>
</svg></body></html>
